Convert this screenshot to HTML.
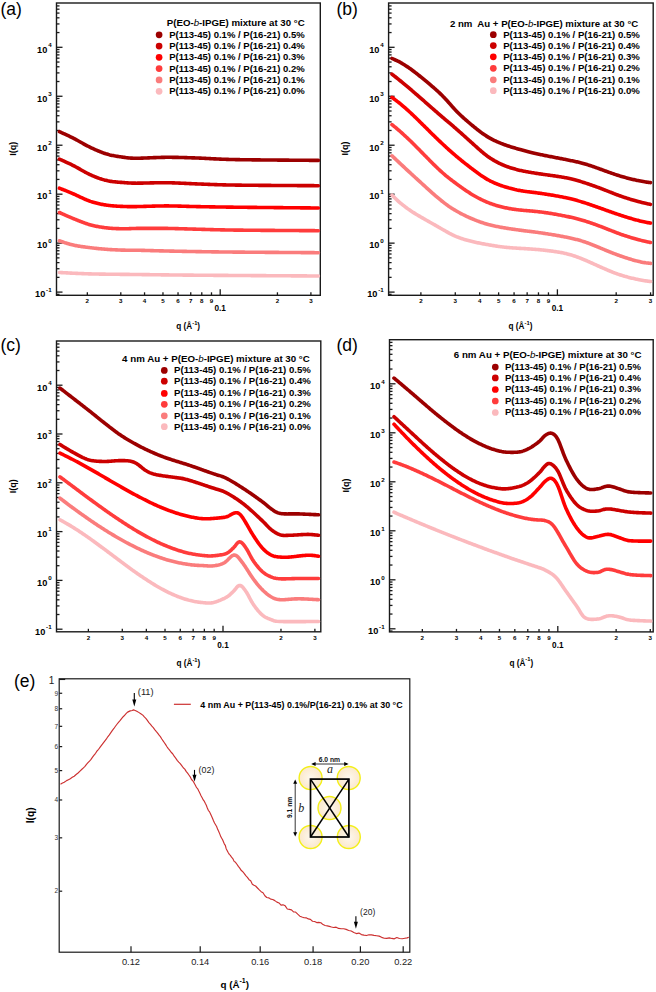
<!DOCTYPE html>
<html><head><meta charset="utf-8"><style>
html,body{margin:0;padding:0;background:#fff;}
body{width:656px;height:992px;overflow:hidden;}
svg{display:block;font-family:"Liberation Sans", sans-serif;}
</style></head><body>
<svg width="656" height="992" viewBox="0 0 656 992">
<rect width="656" height="992" fill="#fff"/>
<rect x="56.5" y="3" width="263.8" height="292.3" fill="none" stroke="#1a1a1a" stroke-width="1.4"/>
<line x1="56.5" y1="294.34" x2="59.5" y2="294.34" stroke="#1a1a1a" stroke-width="1.3"/>
<line x1="56.5" y1="292.1" x2="62.5" y2="292.1" stroke="#1a1a1a" stroke-width="1.3"/>
<text x="51.6" y="297.4" font-size="9.2" font-weight="bold" text-anchor="end">10<tspan font-size="6.2" dy="-5.6" dx="0.8">-1</tspan></text>
<line x1="56.5" y1="277.36" x2="59.5" y2="277.36" stroke="#1a1a1a" stroke-width="1.3"/>
<line x1="56.5" y1="268.74" x2="59.5" y2="268.74" stroke="#1a1a1a" stroke-width="1.3"/>
<line x1="56.5" y1="262.62" x2="59.5" y2="262.62" stroke="#1a1a1a" stroke-width="1.3"/>
<line x1="56.5" y1="257.88" x2="59.5" y2="257.88" stroke="#1a1a1a" stroke-width="1.3"/>
<line x1="56.5" y1="254" x2="59.5" y2="254" stroke="#1a1a1a" stroke-width="1.3"/>
<line x1="56.5" y1="250.72" x2="59.5" y2="250.72" stroke="#1a1a1a" stroke-width="1.3"/>
<line x1="56.5" y1="247.88" x2="59.5" y2="247.88" stroke="#1a1a1a" stroke-width="1.3"/>
<line x1="56.5" y1="245.38" x2="59.5" y2="245.38" stroke="#1a1a1a" stroke-width="1.3"/>
<line x1="56.5" y1="243.14" x2="62.5" y2="243.14" stroke="#1a1a1a" stroke-width="1.3"/>
<text x="51.6" y="248.44" font-size="9.2" font-weight="bold" text-anchor="end">10<tspan font-size="6.2" dy="-5.6" dx="0.8">0</tspan></text>
<line x1="56.5" y1="228.4" x2="59.5" y2="228.4" stroke="#1a1a1a" stroke-width="1.3"/>
<line x1="56.5" y1="219.78" x2="59.5" y2="219.78" stroke="#1a1a1a" stroke-width="1.3"/>
<line x1="56.5" y1="213.66" x2="59.5" y2="213.66" stroke="#1a1a1a" stroke-width="1.3"/>
<line x1="56.5" y1="208.92" x2="59.5" y2="208.92" stroke="#1a1a1a" stroke-width="1.3"/>
<line x1="56.5" y1="205.04" x2="59.5" y2="205.04" stroke="#1a1a1a" stroke-width="1.3"/>
<line x1="56.5" y1="201.76" x2="59.5" y2="201.76" stroke="#1a1a1a" stroke-width="1.3"/>
<line x1="56.5" y1="198.92" x2="59.5" y2="198.92" stroke="#1a1a1a" stroke-width="1.3"/>
<line x1="56.5" y1="196.42" x2="59.5" y2="196.42" stroke="#1a1a1a" stroke-width="1.3"/>
<line x1="56.5" y1="194.18" x2="62.5" y2="194.18" stroke="#1a1a1a" stroke-width="1.3"/>
<text x="51.6" y="199.48" font-size="9.2" font-weight="bold" text-anchor="end">10<tspan font-size="6.2" dy="-5.6" dx="0.8">1</tspan></text>
<line x1="56.5" y1="179.44" x2="59.5" y2="179.44" stroke="#1a1a1a" stroke-width="1.3"/>
<line x1="56.5" y1="170.82" x2="59.5" y2="170.82" stroke="#1a1a1a" stroke-width="1.3"/>
<line x1="56.5" y1="164.7" x2="59.5" y2="164.7" stroke="#1a1a1a" stroke-width="1.3"/>
<line x1="56.5" y1="159.96" x2="59.5" y2="159.96" stroke="#1a1a1a" stroke-width="1.3"/>
<line x1="56.5" y1="156.08" x2="59.5" y2="156.08" stroke="#1a1a1a" stroke-width="1.3"/>
<line x1="56.5" y1="152.8" x2="59.5" y2="152.8" stroke="#1a1a1a" stroke-width="1.3"/>
<line x1="56.5" y1="149.96" x2="59.5" y2="149.96" stroke="#1a1a1a" stroke-width="1.3"/>
<line x1="56.5" y1="147.46" x2="59.5" y2="147.46" stroke="#1a1a1a" stroke-width="1.3"/>
<line x1="56.5" y1="145.22" x2="62.5" y2="145.22" stroke="#1a1a1a" stroke-width="1.3"/>
<text x="51.6" y="150.52" font-size="9.2" font-weight="bold" text-anchor="end">10<tspan font-size="6.2" dy="-5.6" dx="0.8">2</tspan></text>
<line x1="56.5" y1="130.48" x2="59.5" y2="130.48" stroke="#1a1a1a" stroke-width="1.3"/>
<line x1="56.5" y1="121.86" x2="59.5" y2="121.86" stroke="#1a1a1a" stroke-width="1.3"/>
<line x1="56.5" y1="115.74" x2="59.5" y2="115.74" stroke="#1a1a1a" stroke-width="1.3"/>
<line x1="56.5" y1="111" x2="59.5" y2="111" stroke="#1a1a1a" stroke-width="1.3"/>
<line x1="56.5" y1="107.12" x2="59.5" y2="107.12" stroke="#1a1a1a" stroke-width="1.3"/>
<line x1="56.5" y1="103.84" x2="59.5" y2="103.84" stroke="#1a1a1a" stroke-width="1.3"/>
<line x1="56.5" y1="101" x2="59.5" y2="101" stroke="#1a1a1a" stroke-width="1.3"/>
<line x1="56.5" y1="98.5" x2="59.5" y2="98.5" stroke="#1a1a1a" stroke-width="1.3"/>
<line x1="56.5" y1="96.26" x2="62.5" y2="96.26" stroke="#1a1a1a" stroke-width="1.3"/>
<text x="51.6" y="101.56" font-size="9.2" font-weight="bold" text-anchor="end">10<tspan font-size="6.2" dy="-5.6" dx="0.8">3</tspan></text>
<line x1="56.5" y1="81.52" x2="59.5" y2="81.52" stroke="#1a1a1a" stroke-width="1.3"/>
<line x1="56.5" y1="72.9" x2="59.5" y2="72.9" stroke="#1a1a1a" stroke-width="1.3"/>
<line x1="56.5" y1="66.78" x2="59.5" y2="66.78" stroke="#1a1a1a" stroke-width="1.3"/>
<line x1="56.5" y1="62.04" x2="59.5" y2="62.04" stroke="#1a1a1a" stroke-width="1.3"/>
<line x1="56.5" y1="58.16" x2="59.5" y2="58.16" stroke="#1a1a1a" stroke-width="1.3"/>
<line x1="56.5" y1="54.88" x2="59.5" y2="54.88" stroke="#1a1a1a" stroke-width="1.3"/>
<line x1="56.5" y1="52.04" x2="59.5" y2="52.04" stroke="#1a1a1a" stroke-width="1.3"/>
<line x1="56.5" y1="49.54" x2="59.5" y2="49.54" stroke="#1a1a1a" stroke-width="1.3"/>
<line x1="56.5" y1="47.3" x2="62.5" y2="47.3" stroke="#1a1a1a" stroke-width="1.3"/>
<text x="51.6" y="52.6" font-size="9.2" font-weight="bold" text-anchor="end">10<tspan font-size="6.2" dy="-5.6" dx="0.8">4</tspan></text>
<line x1="56.5" y1="32.56" x2="59.5" y2="32.56" stroke="#1a1a1a" stroke-width="1.3"/>
<line x1="56.5" y1="23.94" x2="59.5" y2="23.94" stroke="#1a1a1a" stroke-width="1.3"/>
<line x1="56.5" y1="17.82" x2="59.5" y2="17.82" stroke="#1a1a1a" stroke-width="1.3"/>
<line x1="56.5" y1="13.08" x2="59.5" y2="13.08" stroke="#1a1a1a" stroke-width="1.3"/>
<line x1="56.5" y1="9.2" x2="59.5" y2="9.2" stroke="#1a1a1a" stroke-width="1.3"/>
<line x1="56.5" y1="5.92" x2="59.5" y2="5.92" stroke="#1a1a1a" stroke-width="1.3"/>
<line x1="87.33" y1="295.3" x2="87.33" y2="292.3" stroke="#1a1a1a" stroke-width="1.3"/>
<text x="87.33" y="303.3" font-size="6.2" font-weight="bold" text-anchor="middle" fill="#000" >2</text>
<line x1="120.8" y1="295.3" x2="120.8" y2="292.3" stroke="#1a1a1a" stroke-width="1.3"/>
<text x="120.8" y="303.3" font-size="6.2" font-weight="bold" text-anchor="middle" fill="#000" >3</text>
<line x1="144.55" y1="295.3" x2="144.55" y2="292.3" stroke="#1a1a1a" stroke-width="1.3"/>
<text x="144.55" y="303.3" font-size="6.2" font-weight="bold" text-anchor="middle" fill="#000" >4</text>
<line x1="162.97" y1="295.3" x2="162.97" y2="292.3" stroke="#1a1a1a" stroke-width="1.3"/>
<text x="162.97" y="303.3" font-size="6.2" font-weight="bold" text-anchor="middle" fill="#000" >5</text>
<line x1="178.03" y1="295.3" x2="178.03" y2="292.3" stroke="#1a1a1a" stroke-width="1.3"/>
<text x="178.03" y="303.3" font-size="6.2" font-weight="bold" text-anchor="middle" fill="#000" >6</text>
<line x1="190.75" y1="295.3" x2="190.75" y2="292.3" stroke="#1a1a1a" stroke-width="1.3"/>
<text x="190.75" y="303.3" font-size="6.2" font-weight="bold" text-anchor="middle" fill="#000" >7</text>
<line x1="201.78" y1="295.3" x2="201.78" y2="292.3" stroke="#1a1a1a" stroke-width="1.3"/>
<text x="201.78" y="303.3" font-size="6.2" font-weight="bold" text-anchor="middle" fill="#000" >8</text>
<line x1="211.5" y1="295.3" x2="211.5" y2="292.3" stroke="#1a1a1a" stroke-width="1.3"/>
<text x="211.5" y="303.3" font-size="6.2" font-weight="bold" text-anchor="middle" fill="#000" >9</text>
<line x1="220.2" y1="295.3" x2="220.2" y2="289.3" stroke="#1a1a1a" stroke-width="1.3"/>
<text x="220.2" y="311.3" font-size="8.2" font-weight="bold" text-anchor="middle" fill="#000" >0.1</text>
<line x1="277.43" y1="295.3" x2="277.43" y2="292.3" stroke="#1a1a1a" stroke-width="1.3"/>
<text x="277.43" y="303.3" font-size="6.2" font-weight="bold" text-anchor="middle" fill="#000" >2</text>
<line x1="310.9" y1="295.3" x2="310.9" y2="292.3" stroke="#1a1a1a" stroke-width="1.3"/>
<text x="310.9" y="303.3" font-size="6.2" font-weight="bold" text-anchor="middle" fill="#000" >3</text>
<text x="16.1" y="148.8" font-size="9" font-weight="bold" text-anchor="middle" transform="rotate(-90 16.1 148.8)">I(q)</text>
<text x="188.2" y="329.4" font-size="8.2" font-weight="bold" text-anchor="middle">q (&#197;<tspan font-size="5.8" dy="-4.2">-1</tspan><tspan dy="4.2">)</tspan></text>
<text x="0.5" y="14.6" font-size="17.5" font-weight="normal" text-anchor="start" fill="#000" >(a)</text>
<g fill="none" stroke-linecap="round" stroke-linejoin="round">
<path d="M59.4,131.7 L59.9,131.92 L60.47,132.18 L61.13,132.47 L61.86,132.79 L62.66,133.15 L63.53,133.53 L64.45,133.95 L65.43,134.39 L66.49,134.87 L67.63,135.4 L68.82,135.95 L69.99,136.51 L71.14,137.07 L72.25,137.62 L73.29,138.14 L74.05,138.54 L74.81,138.94 L75.59,139.36 L76.39,139.79 L77.22,140.25 L78.07,140.73 L78.95,141.22 L79.85,141.73 L80.76,142.25 L81.69,142.77 L82.62,143.29 L83.55,143.81 L84.47,144.33 L85.39,144.83 L86.31,145.32 L87.21,145.8 L88.1,146.26 L88.98,146.71 L89.86,147.14 L90.76,147.59 L91.71,148.04 L92.67,148.49 L93.63,148.93 L94.59,149.37 L95.55,149.8 L96.51,150.22 L97.46,150.62 L98.41,151.02 L99.36,151.41 L100.31,151.79 L101.26,152.16 L102.2,152.51 L103.14,152.85 L104.08,153.18 L105.01,153.49 L105.93,153.79 L106.87,154.07 L107.84,154.35 L108.87,154.63 L109.92,154.9 L111,155.15 L112.09,155.39 L113.18,155.61 L114.28,155.83 L115.38,156.02 L116.46,156.21 L117.53,156.38 L118.57,156.54 L119.6,156.7 L120.59,156.84 L121.55,156.98 L122.5,157.11 L123.42,157.24 L124.31,157.37 L125.36,157.52 L126.42,157.66 L127.26,157.77 L127.97,157.86 L128.6,157.93 L129.24,157.99 L129.93,158.05 L130.78,158.11 L131.92,158.17 L133.45,158.22 L135.36,158.26 L136.73,158.26 L137.43,158.26 L138.13,158.25 L138.82,158.24 L139.54,158.22 L140.3,158.2 L141.11,158.17 L141.98,158.14 L142.91,158.11 L143.89,158.07 L144.89,158.03 L145.94,157.99 L147,157.95 L148.07,157.9 L149.15,157.85 L150.25,157.81 L151.35,157.76 L152.46,157.71 L153.58,157.67 L154.7,157.62 L155.81,157.58 L156.93,157.54 L158.05,157.5 L159.16,157.46 L160.27,157.43 L161.36,157.4 L162.45,157.37 L163.52,157.35 L164.57,157.34 L165.6,157.32 L166.6,157.32 L167.58,157.31 L168.56,157.31 L169.53,157.31 L170.49,157.31 L171.45,157.32 L172.4,157.33 L173.35,157.34 L174.3,157.35 L175.25,157.36 L176.19,157.38 L177.14,157.4 L178.09,157.42 L179.04,157.44 L179.99,157.46 L180.94,157.49 L181.9,157.51 L182.86,157.54 L183.83,157.57 L184.81,157.6 L185.8,157.63 L186.79,157.66 L187.79,157.69 L188.82,157.72 L189.86,157.76 L190.93,157.8 L192.03,157.83 L193.17,157.87 L194.34,157.91 L195.54,157.95 L196.73,158 L197.76,158.03 L198.62,158.07 L199.45,158.1 L200.27,158.13 L201.05,158.17 L201.84,158.2 L202.61,158.24 L203.39,158.27 L204.16,158.31 L204.95,158.35 L205.73,158.39 L206.51,158.43 L207.3,158.47 L208.1,158.52 L208.9,158.56 L209.7,158.6 L210.53,158.65 L211.36,158.69 L212.22,158.74 L213.08,158.78 L213.96,158.83 L214.87,158.87 L215.8,158.92 L216.75,158.96 L217.73,159.01 L218.73,159.05 L219.77,159.1 L220.83,159.14 L221.93,159.19 L223.06,159.23 L224.22,159.27 L225.43,159.31 L226.66,159.36 L227.98,159.4 L229.37,159.44 L230.88,159.48 L232.53,159.52 L234.24,159.56 L235.86,159.59 L236.95,159.61 L237.62,159.63 L238.29,159.64 L238.97,159.65 L239.68,159.66 L240.42,159.68 L241.23,159.69 L242.07,159.7 L242.96,159.72 L243.89,159.73 L244.85,159.74 L245.84,159.76 L246.84,159.77 L247.86,159.78 L248.9,159.8 L249.95,159.81 L251.02,159.82 L252.1,159.84 L253.18,159.85 L254.28,159.86 L255.39,159.87 L256.53,159.89 L257.66,159.9 L258.8,159.91 L259.95,159.92 L261.11,159.93 L262.29,159.95 L263.46,159.96 L264.64,159.97 L265.83,159.98 L267.02,159.99 L268.21,160 L269.41,160.01 L270.61,160.02 L271.81,160.03 L273.03,160.04 L274.23,160.05 L275.44,160.06 L276.65,160.07 L277.86,160.09 L279.06,160.09 L280.26,160.1 L281.45,160.11 L282.64,160.12 L283.83,160.13 L285.02,160.14 L286.19,160.15 L287.37,160.16 L288.54,160.17 L289.69,160.18 L290.84,160.19 L291.98,160.2 L293.11,160.2 L294.23,160.21 L295.34,160.22 L296.44,160.23 L297.52,160.24 L298.59,160.25 L299.65,160.25 L300.69,160.26 L301.72,160.27 L302.73,160.28 L303.73,160.28 L304.71,160.29 L305.68,160.3 L306.62,160.31 L307.55,160.31 L308.47,160.32 L309.36,160.33 L310.23,160.33 L311.05,160.34 L311.82,160.34 L312.56,160.35 L313.27,160.36 L313.96,160.36 L314.63,160.37 L315.28,160.37 L315.9,160.38 L316.5,160.38 L317.07,160.39 L317.62,160.39 L318.15,160.4 L318.4,160.4" stroke="#9c0000" stroke-width="3.6"/>
<path d="M59.4,159.1 L59.9,159.32 L60.47,159.58 L61.13,159.87 L61.86,160.19 L62.66,160.55 L63.53,160.93 L64.45,161.35 L65.43,161.79 L66.49,162.27 L67.63,162.8 L68.82,163.35 L69.99,163.91 L71.14,164.47 L72.25,165.02 L73.28,165.54 L74.05,165.94 L74.81,166.35 L75.59,166.77 L76.39,167.21 L77.21,167.67 L78.07,168.15 L78.96,168.66 L79.85,169.17 L80.77,169.7 L81.69,170.22 L82.63,170.75 L83.56,171.28 L84.48,171.79 L85.41,172.29 L86.32,172.78 L87.22,173.25 L88.12,173.7 L89,174.13 L89.87,174.54 L90.78,174.96 L91.73,175.39 L92.68,175.8 L93.64,176.21 L94.61,176.61 L95.56,176.99 L96.52,177.36 L97.48,177.72 L98.43,178.07 L99.37,178.41 L100.32,178.73 L101.26,179.04 L102.2,179.34 L103.14,179.62 L104.07,179.89 L105,180.14 L105.93,180.37 L106.85,180.59 L107.83,180.81 L108.86,181.01 L109.91,181.21 L110.99,181.38 L112.08,181.54 L113.17,181.68 L114.27,181.8 L115.36,181.91 L116.45,182.01 L117.52,182.1 L118.57,182.18 L119.59,182.26 L120.58,182.33 L121.55,182.39 L122.5,182.46 L123.42,182.53 L124.31,182.6 L125.36,182.68 L126.41,182.77 L127.25,182.84 L127.96,182.89 L128.59,182.93 L129.22,182.98 L129.92,183.02 L130.77,183.06 L131.9,183.1 L133.45,183.14 L135.36,183.17 L136.73,183.18 L137.43,183.17 L138.13,183.17 L138.82,183.17 L139.54,183.16 L140.3,183.14 L141.11,183.13 L141.98,183.11 L142.91,183.09 L143.88,183.07 L144.89,183.05 L145.94,183.02 L147,182.99 L148.07,182.96 L149.15,182.94 L150.25,182.91 L151.35,182.88 L152.46,182.86 L153.58,182.83 L154.7,182.81 L155.81,182.78 L156.93,182.76 L158.05,182.75 L159.16,182.73 L160.27,182.72 L161.36,182.71 L162.45,182.7 L163.52,182.7 L164.57,182.7 L165.59,182.71 L166.6,182.72 L167.58,182.73 L168.56,182.75 L169.53,182.77 L170.49,182.79 L171.45,182.81 L172.4,182.84 L173.35,182.87 L174.3,182.9 L175.25,182.94 L176.19,182.98 L177.14,183.01 L178.09,183.06 L179.04,183.1 L179.99,183.14 L180.94,183.18 L181.9,183.23 L182.86,183.27 L183.83,183.32 L184.81,183.37 L185.8,183.42 L186.79,183.46 L187.79,183.51 L188.82,183.56 L189.86,183.61 L190.93,183.65 L192.03,183.7 L193.17,183.75 L194.34,183.8 L195.54,183.84 L196.73,183.89 L197.76,183.93 L198.62,183.96 L199.45,183.99 L200.27,184.02 L201.05,184.05 L201.84,184.08 L202.61,184.11 L203.39,184.14 L204.16,184.18 L204.95,184.21 L205.73,184.24 L206.52,184.27 L207.3,184.3 L208.1,184.33 L208.9,184.37 L209.7,184.4 L210.53,184.43 L211.36,184.46 L212.22,184.49 L213.08,184.53 L213.96,184.56 L214.87,184.59 L215.8,184.62 L216.75,184.65 L217.73,184.69 L218.73,184.72 L219.76,184.75 L220.83,184.78 L221.92,184.81 L223.06,184.84 L224.22,184.87 L225.43,184.9 L226.66,184.93 L227.98,184.95 L229.37,184.98 L230.88,185.01 L232.53,185.04 L234.24,185.07 L235.86,185.09 L236.94,185.11 L237.62,185.12 L238.29,185.13 L238.97,185.14 L239.68,185.15 L240.42,185.16 L241.23,185.17 L242.07,185.18 L242.96,185.19 L243.89,185.2 L244.85,185.21 L245.84,185.22 L246.84,185.23 L247.86,185.24 L248.9,185.25 L249.95,185.26 L251.02,185.27 L252.1,185.28 L253.18,185.29 L254.28,185.3 L255.39,185.3 L256.53,185.31 L257.66,185.32 L258.8,185.33 L259.95,185.34 L261.11,185.35 L262.29,185.36 L263.46,185.37 L264.64,185.38 L265.83,185.38 L267.02,185.39 L268.21,185.4 L269.41,185.41 L270.61,185.42 L271.81,185.43 L273.03,185.43 L274.23,185.44 L275.44,185.45 L276.65,185.46 L277.86,185.46 L279.06,185.47 L280.26,185.48 L281.45,185.49 L282.64,185.49 L283.83,185.5 L285.02,185.51 L286.19,185.51 L287.37,185.52 L288.54,185.53 L289.69,185.53 L290.84,185.54 L291.98,185.55 L293.11,185.55 L294.23,185.56 L295.34,185.57 L296.44,185.57 L297.52,185.58 L298.59,185.58 L299.65,185.59 L300.69,185.6 L301.72,185.6 L302.73,185.61 L303.73,185.61 L304.71,185.62 L305.68,185.62 L306.62,185.63 L307.55,185.63 L308.47,185.64 L309.36,185.64 L310.23,185.65 L311.05,185.65 L311.82,185.66 L312.56,185.66 L313.27,185.67 L313.96,185.67 L314.63,185.68 L315.28,185.68 L315.9,185.68 L316.5,185.69 L317.07,185.69 L317.62,185.69 L318.15,185.7 L318.4,185.7" stroke="#cc0000" stroke-width="3.6"/>
<path d="M59.4,188.2 L59.91,188.4 L60.51,188.64 L61.2,188.91 L61.97,189.21 L62.81,189.54 L63.72,189.9 L64.69,190.28 L65.72,190.69 L66.85,191.14 L68.05,191.63 L69.26,192.12 L70.48,192.62 L71.65,193.12 L72.75,193.59 L73.68,193.99 L74.5,194.35 L75.31,194.72 L76.15,195.11 L77.01,195.51 L77.9,195.93 L78.83,196.37 L79.78,196.82 L80.74,197.28 L81.71,197.74 L82.69,198.19 L83.67,198.64 L84.65,199.08 L85.62,199.5 L86.59,199.91 L87.54,200.3 L88.48,200.66 L89.41,201.01 L90.34,201.34 L91.31,201.66 L92.28,201.97 L93.26,202.27 L94.24,202.55 L95.23,202.82 L96.21,203.08 L97.18,203.32 L98.15,203.55 L99.13,203.77 L100.1,203.98 L101.06,204.18 L102.03,204.37 L103,204.55 L103.96,204.72 L104.92,204.88 L105.88,205.03 L106.84,205.18 L107.83,205.31 L108.85,205.45 L109.91,205.57 L110.99,205.69 L112.07,205.79 L113.16,205.89 L114.26,205.97 L115.36,206.05 L116.44,206.12 L117.52,206.18 L118.57,206.23 L119.59,206.28 L120.58,206.33 L121.55,206.37 L122.5,206.41 L123.43,206.45 L124.31,206.49 L125.36,206.53 L126.41,206.56 L127.25,206.59 L127.95,206.61 L128.58,206.62 L129.22,206.63 L129.91,206.64 L130.77,206.64 L131.9,206.64 L133.44,206.62 L135.35,206.6 L136.73,206.58 L137.43,206.56 L138.13,206.55 L138.82,206.54 L139.54,206.52 L140.3,206.5 L141.11,206.48 L141.98,206.45 L142.91,206.43 L143.89,206.4 L144.89,206.37 L145.94,206.34 L147,206.31 L148.07,206.27 L149.15,206.24 L150.25,206.21 L151.35,206.18 L152.46,206.15 L153.58,206.12 L154.7,206.09 L155.81,206.06 L156.93,206.03 L158.05,206.01 L159.16,205.99 L160.27,205.97 L161.36,205.95 L162.45,205.94 L163.52,205.93 L164.57,205.92 L165.59,205.92 L166.6,205.91 L167.58,205.91 L168.56,205.92 L169.53,205.93 L170.49,205.94 L171.45,205.95 L172.4,205.96 L173.35,205.98 L174.3,206 L175.25,206.02 L176.19,206.04 L177.14,206.06 L178.09,206.08 L179.04,206.11 L179.99,206.14 L180.94,206.16 L181.9,206.19 L182.86,206.22 L183.83,206.25 L184.81,206.28 L185.8,206.31 L186.79,206.34 L187.79,206.37 L188.82,206.4 L189.86,206.43 L190.93,206.45 L192.03,206.48 L193.17,206.51 L194.34,206.54 L195.54,206.57 L196.73,206.59 L197.76,206.61 L198.62,206.63 L199.46,206.65 L200.27,206.66 L201.05,206.68 L201.84,206.69 L202.61,206.7 L203.39,206.72 L204.16,206.73 L204.95,206.75 L205.73,206.76 L206.52,206.78 L207.3,206.79 L208.09,206.8 L208.9,206.82 L209.7,206.83 L210.53,206.85 L211.36,206.86 L212.21,206.88 L213.08,206.89 L213.96,206.9 L214.87,206.92 L215.8,206.93 L216.75,206.95 L217.73,206.96 L218.73,206.98 L219.76,206.99 L220.83,207.01 L221.92,207.02 L223.06,207.04 L224.22,207.05 L225.43,207.07 L226.66,207.09 L227.98,207.1 L229.37,207.12 L230.88,207.14 L232.53,207.16 L234.24,207.18 L235.86,207.2 L236.94,207.21 L237.62,207.22 L238.29,207.23 L238.97,207.23 L239.68,207.24 L240.42,207.25 L241.23,207.26 L242.07,207.27 L242.96,207.28 L243.89,207.29 L244.85,207.3 L245.84,207.31 L246.84,207.32 L247.86,207.33 L248.9,207.34 L249.95,207.35 L251.02,207.36 L252.1,207.37 L253.18,207.38 L254.28,207.39 L255.39,207.4 L256.53,207.41 L257.66,207.43 L258.8,207.44 L259.95,207.45 L261.11,207.46 L262.29,207.47 L263.46,207.48 L264.64,207.49 L265.83,207.51 L267.02,207.52 L268.21,207.53 L269.41,207.54 L270.61,207.55 L271.81,207.56 L273.03,207.57 L274.23,207.59 L275.44,207.6 L276.65,207.61 L277.86,207.62 L279.06,207.63 L280.26,207.64 L281.45,207.65 L282.64,207.67 L283.83,207.68 L285.02,207.69 L286.19,207.7 L287.37,207.71 L288.54,207.72 L289.69,207.73 L290.84,207.74 L291.98,207.75 L293.11,207.76 L294.23,207.77 L295.34,207.78 L296.44,207.79 L297.52,207.8 L298.59,207.81 L299.65,207.82 L300.69,207.83 L301.72,207.84 L302.73,207.85 L303.73,207.86 L304.71,207.87 L305.68,207.88 L306.62,207.89 L307.55,207.9 L308.47,207.91 L309.36,207.91 L310.23,207.92 L311.05,207.93 L311.82,207.94 L312.56,207.94 L313.27,207.95 L313.96,207.96 L314.63,207.96 L315.28,207.97 L315.9,207.98 L316.5,207.98 L317.07,207.99 L317.62,207.99 L318.15,208 L318.4,208" stroke="#ff0000" stroke-width="3.6"/>
<path d="M59.4,212.5 L59.91,212.73 L60.51,213 L61.2,213.31 L61.97,213.65 L62.81,214.03 L63.72,214.44 L64.7,214.88 L65.74,215.34 L66.88,215.84 L68.08,216.37 L69.3,216.89 L70.51,217.41 L71.67,217.9 L72.78,218.35 L73.72,218.74 L74.55,219.08 L75.39,219.43 L76.25,219.78 L77.15,220.14 L78.06,220.51 L79.01,220.89 L79.99,221.27 L80.97,221.66 L81.97,222.04 L82.97,222.42 L83.98,222.79 L84.98,223.14 L85.97,223.49 L86.95,223.82 L87.92,224.13 L88.89,224.43 L89.84,224.71 L90.82,224.98 L91.82,225.25 L92.83,225.5 L93.84,225.74 L94.85,225.97 L95.86,226.19 L96.86,226.39 L97.87,226.58 L98.87,226.76 L99.87,226.93 L100.87,227.1 L101.87,227.25 L102.87,227.4 L103.87,227.54 L104.87,227.67 L105.86,227.79 L106.86,227.9 L107.86,228.01 L108.88,228.11 L109.93,228.21 L111,228.29 L112.08,228.37 L113.16,228.44 L114.26,228.5 L115.35,228.55 L116.44,228.6 L117.52,228.64 L118.57,228.67 L119.59,228.7 L120.58,228.72 L121.55,228.74 L122.5,228.75 L123.43,228.76 L124.31,228.76 L125.36,228.75 L126.41,228.74 L127.25,228.72 L127.95,228.7 L128.58,228.68 L129.22,228.65 L129.91,228.62 L130.77,228.59 L131.9,228.54 L133.45,228.49 L135.36,228.44 L136.73,228.41 L137.43,228.4 L138.13,228.39 L138.82,228.38 L139.54,228.37 L140.3,228.37 L141.11,228.36 L141.98,228.36 L142.91,228.35 L143.88,228.35 L144.89,228.34 L145.94,228.34 L147,228.33 L148.07,228.33 L149.15,228.33 L150.25,228.33 L151.35,228.33 L152.46,228.33 L153.58,228.33 L154.69,228.33 L155.81,228.33 L156.93,228.33 L158.05,228.34 L159.16,228.34 L160.27,228.35 L161.36,228.35 L162.45,228.36 L163.52,228.37 L164.57,228.38 L165.59,228.39 L166.6,228.41 L167.58,228.42 L168.56,228.44 L169.53,228.45 L170.49,228.47 L171.45,228.49 L172.4,228.51 L173.35,228.53 L174.3,228.56 L175.25,228.58 L176.19,228.6 L177.14,228.63 L178.09,228.65 L179.04,228.68 L179.99,228.71 L180.94,228.74 L181.9,228.77 L182.86,228.79 L183.83,228.82 L184.81,228.85 L185.8,228.88 L186.79,228.91 L187.79,228.94 L188.82,228.97 L189.86,229 L190.93,229.03 L192.03,229.07 L193.17,229.1 L194.34,229.13 L195.54,229.16 L196.73,229.19 L197.76,229.22 L198.62,229.24 L199.46,229.27 L200.27,229.29 L201.05,229.31 L201.84,229.33 L202.61,229.35 L203.39,229.38 L204.16,229.4 L204.95,229.42 L205.73,229.44 L206.52,229.47 L207.3,229.49 L208.09,229.51 L208.9,229.54 L209.7,229.56 L210.53,229.58 L211.36,229.61 L212.21,229.63 L213.08,229.65 L213.96,229.68 L214.87,229.7 L215.8,229.73 L216.75,229.75 L217.73,229.77 L218.73,229.8 L219.76,229.82 L220.83,229.85 L221.92,229.87 L223.06,229.89 L224.22,229.91 L225.43,229.94 L226.66,229.96 L227.98,229.98 L229.37,230 L230.88,230.03 L232.53,230.05 L234.24,230.08 L235.86,230.1 L236.94,230.11 L237.62,230.12 L238.29,230.13 L238.97,230.13 L239.68,230.14 L240.42,230.15 L241.23,230.16 L242.07,230.17 L242.96,230.17 L243.89,230.18 L244.85,230.19 L245.84,230.2 L246.84,230.21 L247.86,230.22 L248.9,230.23 L249.95,230.24 L251.02,230.25 L252.1,230.26 L253.18,230.27 L254.28,230.28 L255.39,230.28 L256.53,230.29 L257.66,230.3 L258.8,230.31 L259.95,230.32 L261.11,230.33 L262.29,230.34 L263.46,230.35 L264.64,230.35 L265.83,230.36 L267.02,230.37 L268.21,230.38 L269.41,230.39 L270.61,230.4 L271.81,230.4 L273.03,230.41 L274.23,230.42 L275.44,230.43 L276.65,230.44 L277.86,230.44 L279.06,230.45 L280.26,230.46 L281.45,230.47 L282.64,230.48 L283.83,230.48 L285.02,230.49 L286.19,230.5 L287.37,230.51 L288.54,230.51 L289.69,230.52 L290.84,230.53 L291.98,230.53 L293.11,230.54 L294.23,230.55 L295.34,230.55 L296.44,230.56 L297.52,230.57 L298.59,230.57 L299.65,230.58 L300.69,230.59 L301.72,230.59 L302.73,230.6 L303.73,230.61 L304.71,230.61 L305.68,230.62 L306.62,230.62 L307.55,230.63 L308.47,230.64 L309.36,230.64 L310.23,230.65 L311.05,230.65 L311.82,230.66 L312.56,230.66 L313.27,230.67 L313.96,230.67 L314.63,230.67 L315.28,230.68 L315.9,230.68 L316.5,230.69 L317.07,230.69 L317.62,230.69 L318.15,230.7 L318.4,230.7" stroke="#ff3c3c" stroke-width="3.6"/>
<path d="M59.4,240.8 L59.93,240.97 L60.56,241.19 L61.28,241.44 L62.08,241.72 L62.97,242.03 L63.93,242.35 L64.96,242.7 L66.07,243.05 L67.27,243.43 L68.53,243.81 L69.79,244.18 L71.03,244.52 L72.21,244.82 L73.31,245.08 L74.2,245.28 L75.09,245.46 L75.99,245.64 L76.92,245.81 L77.88,245.98 L78.87,246.14 L79.89,246.3 L80.93,246.46 L81.98,246.61 L83.04,246.76 L84.1,246.9 L85.16,247.04 L86.21,247.18 L87.26,247.32 L88.3,247.45 L89.32,247.57 L90.33,247.7 L91.34,247.82 L92.34,247.94 L93.34,248.06 L94.34,248.17 L95.34,248.28 L96.35,248.39 L97.35,248.5 L98.35,248.6 L99.36,248.7 L100.36,248.8 L101.36,248.89 L102.36,248.98 L103.36,249.07 L104.36,249.15 L105.36,249.23 L106.35,249.31 L107.35,249.38 L108.36,249.45 L109.4,249.52 L110.46,249.59 L111.53,249.65 L112.62,249.71 L113.71,249.77 L114.81,249.82 L115.9,249.88 L116.98,249.92 L118.04,249.97 L119.07,250.01 L120.09,250.05 L121.07,250.08 L122.03,250.11 L122.97,250.14 L123.87,250.16 L124.75,250.17 L125.92,250.19 L126.85,250.2 L127.61,250.2 L128.27,250.2 L128.9,250.2 L129.55,250.2 L130.31,250.2 L131.29,250.19 L132.62,250.19 L134.37,250.2 L136.36,250.22 L137.08,250.23 L137.78,250.25 L138.47,250.26 L139.17,250.27 L139.91,250.29 L140.69,250.31 L141.53,250.33 L142.44,250.35 L143.39,250.38 L144.38,250.41 L145.41,250.43 L146.47,250.46 L147.54,250.49 L148.61,250.52 L149.7,250.55 L150.8,250.58 L151.9,250.61 L153.01,250.65 L154.14,250.68 L155.25,250.71 L156.37,250.74 L157.49,250.77 L158.61,250.8 L159.72,250.83 L160.82,250.86 L161.91,250.89 L162.98,250.91 L164.05,250.94 L165.08,250.96 L166.1,250.99 L167.09,251.01 L168.07,251.03 L169.04,251.06 L170.01,251.08 L170.97,251.1 L171.93,251.12 L172.88,251.14 L173.83,251.16 L174.77,251.18 L175.72,251.2 L176.67,251.22 L177.61,251.24 L178.56,251.26 L179.51,251.28 L180.46,251.3 L181.42,251.32 L182.38,251.34 L183.35,251.36 L184.32,251.38 L185.3,251.4 L186.29,251.42 L187.29,251.43 L188.3,251.45 L189.33,251.47 L190.39,251.49 L191.48,251.51 L192.59,251.53 L193.75,251.55 L194.94,251.57 L196.13,251.59 L197.31,251.6 L198.19,251.62 L199.04,251.63 L199.87,251.65 L200.66,251.66 L201.44,251.67 L202.22,251.68 L203,251.7 L203.77,251.71 L204.56,251.72 L205.33,251.73 L206.12,251.74 L206.9,251.76 L207.7,251.77 L208.49,251.78 L209.3,251.79 L210.11,251.8 L210.94,251.82 L211.79,251.83 L212.65,251.84 L213.52,251.85 L214.41,251.86 L215.33,251.88 L216.27,251.89 L217.23,251.9 L218.22,251.91 L219.24,251.93 L220.3,251.94 L221.37,251.95 L222.49,251.96 L223.63,251.98 L224.82,251.99 L226.05,252 L227.32,252.02 L228.66,252.03 L230.12,252.04 L231.69,252.06 L233.39,252.08 L235.07,252.09 L236.61,252.1 L237.29,252.11 L237.96,252.12 L238.62,252.12 L239.32,252.13 L240.04,252.13 L240.82,252.14 L241.64,252.15 L242.51,252.16 L243.42,252.16 L244.37,252.17 L245.35,252.18 L246.34,252.19 L247.35,252.19 L248.38,252.2 L249.43,252.21 L250.48,252.22 L251.55,252.23 L252.63,252.24 L253.73,252.24 L254.84,252.25 L255.96,252.26 L257.09,252.27 L258.23,252.28 L259.38,252.29 L260.53,252.29 L261.7,252.3 L262.88,252.31 L264.05,252.32 L265.24,252.33 L266.42,252.34 L267.62,252.35 L268.81,252.35 L270.01,252.36 L271.21,252.37 L272.42,252.38 L273.63,252.39 L274.84,252.4 L276.04,252.41 L277.26,252.41 L278.46,252.42 L279.66,252.43 L280.86,252.44 L282.05,252.45 L283.24,252.46 L284.43,252.46 L285.61,252.47 L286.78,252.48 L287.96,252.49 L289.12,252.5 L290.27,252.51 L291.41,252.51 L292.55,252.52 L293.68,252.53 L294.79,252.54 L295.89,252.54 L296.97,252.55 L298.06,252.56 L299.12,252.57 L300.17,252.57 L301.21,252.58 L302.23,252.59 L303.23,252.59 L304.22,252.6 L305.2,252.61 L306.16,252.61 L307.09,252.62 L308.01,252.63 L308.92,252.63 L309.8,252.64 L310.64,252.65 L311.44,252.65 L312.19,252.66 L312.91,252.66 L313.62,252.67 L314.3,252.67 L314.96,252.68 L315.59,252.68 L316.2,252.68 L316.79,252.69 L317.35,252.69 L317.89,252.7 L318.4,252.7 L318.4,252.7" stroke="#fa7c7c" stroke-width="3.6"/>
<path d="M59.4,272.5 L59.92,272.52 L60.49,272.55 L61.09,272.58 L61.73,272.62 L62.42,272.65 L63.13,272.69 L63.89,272.73 L64.68,272.77 L65.51,272.82 L66.37,272.87 L67.31,272.92 L68.32,272.97 L69.37,273.02 L70.43,273.08 L71.52,273.13 L72.63,273.19 L73.76,273.25 L74.91,273.3 L76.07,273.36 L77.26,273.41 L78.45,273.47 L79.67,273.52 L80.89,273.57 L82.14,273.62 L83.4,273.67 L84.71,273.72 L86.06,273.76 L87.44,273.81 L88.8,273.85 L90.11,273.89 L91.13,273.92 L91.92,273.93 L92.7,273.95 L93.47,273.97 L94.26,273.99 L95.08,274.01 L95.91,274.02 L96.77,274.04 L97.65,274.06 L98.54,274.07 L99.44,274.09 L100.36,274.1 L101.29,274.12 L102.23,274.13 L103.17,274.14 L104.12,274.16 L105.07,274.17 L106.04,274.18 L107,274.19 L107.98,274.21 L108.97,274.22 L109.96,274.23 L110.96,274.24 L111.96,274.25 L112.97,274.26 L113.99,274.27 L115.01,274.28 L116.06,274.29 L117.1,274.3 L118.15,274.31 L119.2,274.32 L120.27,274.33 L121.34,274.34 L122.42,274.35 L123.5,274.37 L124.6,274.38 L125.7,274.39 L126.81,274.4 L127.93,274.41 L129.07,274.42 L130.24,274.44 L131.44,274.45 L132.67,274.46 L133.93,274.48 L135.17,274.49 L136.37,274.51 L137.22,274.52 L138.05,274.53 L138.85,274.54 L139.65,274.55 L140.44,274.56 L141.24,274.57 L142.04,274.58 L142.85,274.59 L143.66,274.6 L144.47,274.61 L145.28,274.62 L146.1,274.63 L146.91,274.64 L147.73,274.65 L148.54,274.66 L149.36,274.67 L150.18,274.68 L151,274.7 L151.81,274.71 L152.64,274.72 L153.47,274.73 L154.3,274.74 L155.14,274.75 L155.99,274.76 L156.83,274.77 L157.69,274.78 L158.56,274.8 L159.43,274.81 L160.32,274.82 L161.21,274.83 L162.12,274.84 L163.03,274.85 L163.96,274.86 L164.89,274.88 L165.85,274.89 L166.81,274.9 L167.79,274.91 L168.77,274.92 L169.79,274.93 L170.81,274.95 L171.85,274.96 L172.89,274.97 L173.97,274.98 L175.06,274.99 L176.17,275 L177.3,275.02 L178.44,275.03 L179.61,275.04 L180.8,275.05 L182.01,275.06 L183.24,275.08 L184.49,275.09 L185.78,275.1 L187.07,275.11 L188.4,275.13 L189.79,275.14 L191.28,275.15 L192.86,275.16 L194.52,275.18 L196.15,275.19 L197.63,275.2 L198.32,275.21 L198.99,275.22 L199.66,275.22 L200.35,275.23 L201.06,275.23 L201.81,275.24 L202.6,275.24 L203.42,275.25 L204.28,275.26 L205.17,275.26 L206.08,275.27 L207.01,275.28 L207.96,275.28 L208.91,275.29 L209.88,275.3 L210.86,275.31 L211.85,275.31 L212.85,275.32 L213.87,275.33 L214.88,275.33 L215.91,275.34 L216.96,275.35 L218.01,275.36 L219.07,275.36 L220.14,275.37 L221.22,275.38 L222.31,275.39 L223.41,275.39 L224.51,275.4 L225.62,275.41 L226.73,275.42 L227.86,275.42 L228.99,275.43 L230.13,275.44 L231.27,275.45 L232.42,275.46 L233.58,275.46 L234.74,275.47 L235.91,275.48 L237.07,275.49 L238.25,275.49 L239.42,275.5 L240.61,275.51 L241.79,275.52 L242.98,275.52 L244.17,275.53 L245.36,275.54 L246.55,275.55 L247.75,275.56 L248.94,275.56 L250.14,275.57 L251.34,275.58 L252.54,275.59 L253.74,275.59 L254.94,275.6 L256.14,275.61 L257.34,275.62 L258.54,275.62 L259.73,275.63 L260.93,275.64 L262.12,275.65 L263.31,275.66 L264.5,275.66 L265.68,275.67 L266.87,275.68 L268.04,275.68 L269.22,275.69 L270.39,275.7 L271.56,275.71 L272.72,275.71 L273.88,275.72 L275.03,275.73 L276.18,275.74 L277.32,275.74 L278.46,275.75 L279.58,275.76 L280.7,275.76 L281.82,275.77 L282.92,275.78 L284.02,275.78 L285.11,275.79 L286.2,275.8 L287.27,275.8 L288.33,275.81 L289.39,275.82 L290.44,275.82 L291.48,275.83 L292.5,275.84 L293.52,275.84 L294.53,275.85 L295.52,275.86 L296.51,275.86 L297.48,275.87 L298.44,275.87 L299.39,275.88 L300.33,275.89 L301.25,275.89 L302.17,275.9 L303.06,275.9 L303.95,275.91 L304.82,275.91 L305.68,275.92 L306.52,275.92 L307.35,275.93 L308.17,275.93 L308.97,275.94 L309.75,275.94 L310.51,275.95 L311.23,275.95 L311.91,275.96 L312.59,275.96 L313.24,275.97 L313.88,275.97 L314.5,275.97 L315.1,275.98 L315.69,275.98 L316.27,275.99 L316.82,275.99 L317.37,275.99 L317.89,276 L318.4,276 L318.4,276" stroke="#fbb9bd" stroke-width="3.6"/>
</g>
<text x="166.8" y="26.1" font-size="9.3" font-weight="bold" textLength="137.9" lengthAdjust="spacingAndGlyphs">P(EO-<tspan font-style="italic" font-weight="normal">b</tspan>-IPGE) mixture at 30 &#176;C</text>
<circle cx="159.1" cy="34.8" r="3.35" fill="#9c0000"/>
<text x="169.2" y="37.7" font-size="9" font-weight="bold" textLength="135.5" lengthAdjust="spacingAndGlyphs">P(113-45) 0.1% / P(16-21) 0.5%</text>
<circle cx="159.1" cy="46.1" r="3.35" fill="#cc0000"/>
<text x="169.2" y="49" font-size="9" font-weight="bold" textLength="135.5" lengthAdjust="spacingAndGlyphs">P(113-45) 0.1% / P(16-21) 0.4%</text>
<circle cx="159.1" cy="57.3" r="3.35" fill="#ff0000"/>
<text x="169.2" y="60.2" font-size="9" font-weight="bold" textLength="135.5" lengthAdjust="spacingAndGlyphs">P(113-45) 0.1% / P(16-21) 0.3%</text>
<circle cx="159.1" cy="68.6" r="3.35" fill="#ff3c3c"/>
<text x="169.2" y="71.5" font-size="9" font-weight="bold" textLength="135.5" lengthAdjust="spacingAndGlyphs">P(113-45) 0.1% / P(16-21) 0.2%</text>
<circle cx="159.1" cy="79.9" r="3.35" fill="#fa7c7c"/>
<text x="169.2" y="82.8" font-size="9" font-weight="bold" textLength="135.5" lengthAdjust="spacingAndGlyphs">P(113-45) 0.1% / P(16-21) 0.1%</text>
<circle cx="159.1" cy="91.3" r="3.35" fill="#fbb9bd"/>
<text x="169.2" y="94.2" font-size="9" font-weight="bold" textLength="135.5" lengthAdjust="spacingAndGlyphs">P(113-45) 0.1% / P(16-21) 0.0%</text>
<rect x="388.6" y="3" width="264.6" height="292.3" fill="none" stroke="#1a1a1a" stroke-width="1.4"/>
<line x1="388.6" y1="294.34" x2="391.6" y2="294.34" stroke="#1a1a1a" stroke-width="1.3"/>
<line x1="388.6" y1="292.1" x2="394.6" y2="292.1" stroke="#1a1a1a" stroke-width="1.3"/>
<text x="383.7" y="297.4" font-size="9.2" font-weight="bold" text-anchor="end">10<tspan font-size="6.2" dy="-5.6" dx="0.8">-1</tspan></text>
<line x1="388.6" y1="277.36" x2="391.6" y2="277.36" stroke="#1a1a1a" stroke-width="1.3"/>
<line x1="388.6" y1="268.74" x2="391.6" y2="268.74" stroke="#1a1a1a" stroke-width="1.3"/>
<line x1="388.6" y1="262.62" x2="391.6" y2="262.62" stroke="#1a1a1a" stroke-width="1.3"/>
<line x1="388.6" y1="257.88" x2="391.6" y2="257.88" stroke="#1a1a1a" stroke-width="1.3"/>
<line x1="388.6" y1="254" x2="391.6" y2="254" stroke="#1a1a1a" stroke-width="1.3"/>
<line x1="388.6" y1="250.72" x2="391.6" y2="250.72" stroke="#1a1a1a" stroke-width="1.3"/>
<line x1="388.6" y1="247.88" x2="391.6" y2="247.88" stroke="#1a1a1a" stroke-width="1.3"/>
<line x1="388.6" y1="245.38" x2="391.6" y2="245.38" stroke="#1a1a1a" stroke-width="1.3"/>
<line x1="388.6" y1="243.14" x2="394.6" y2="243.14" stroke="#1a1a1a" stroke-width="1.3"/>
<text x="383.7" y="248.44" font-size="9.2" font-weight="bold" text-anchor="end">10<tspan font-size="6.2" dy="-5.6" dx="0.8">0</tspan></text>
<line x1="388.6" y1="228.4" x2="391.6" y2="228.4" stroke="#1a1a1a" stroke-width="1.3"/>
<line x1="388.6" y1="219.78" x2="391.6" y2="219.78" stroke="#1a1a1a" stroke-width="1.3"/>
<line x1="388.6" y1="213.66" x2="391.6" y2="213.66" stroke="#1a1a1a" stroke-width="1.3"/>
<line x1="388.6" y1="208.92" x2="391.6" y2="208.92" stroke="#1a1a1a" stroke-width="1.3"/>
<line x1="388.6" y1="205.04" x2="391.6" y2="205.04" stroke="#1a1a1a" stroke-width="1.3"/>
<line x1="388.6" y1="201.76" x2="391.6" y2="201.76" stroke="#1a1a1a" stroke-width="1.3"/>
<line x1="388.6" y1="198.92" x2="391.6" y2="198.92" stroke="#1a1a1a" stroke-width="1.3"/>
<line x1="388.6" y1="196.42" x2="391.6" y2="196.42" stroke="#1a1a1a" stroke-width="1.3"/>
<line x1="388.6" y1="194.18" x2="394.6" y2="194.18" stroke="#1a1a1a" stroke-width="1.3"/>
<text x="383.7" y="199.48" font-size="9.2" font-weight="bold" text-anchor="end">10<tspan font-size="6.2" dy="-5.6" dx="0.8">1</tspan></text>
<line x1="388.6" y1="179.44" x2="391.6" y2="179.44" stroke="#1a1a1a" stroke-width="1.3"/>
<line x1="388.6" y1="170.82" x2="391.6" y2="170.82" stroke="#1a1a1a" stroke-width="1.3"/>
<line x1="388.6" y1="164.7" x2="391.6" y2="164.7" stroke="#1a1a1a" stroke-width="1.3"/>
<line x1="388.6" y1="159.96" x2="391.6" y2="159.96" stroke="#1a1a1a" stroke-width="1.3"/>
<line x1="388.6" y1="156.08" x2="391.6" y2="156.08" stroke="#1a1a1a" stroke-width="1.3"/>
<line x1="388.6" y1="152.8" x2="391.6" y2="152.8" stroke="#1a1a1a" stroke-width="1.3"/>
<line x1="388.6" y1="149.96" x2="391.6" y2="149.96" stroke="#1a1a1a" stroke-width="1.3"/>
<line x1="388.6" y1="147.46" x2="391.6" y2="147.46" stroke="#1a1a1a" stroke-width="1.3"/>
<line x1="388.6" y1="145.22" x2="394.6" y2="145.22" stroke="#1a1a1a" stroke-width="1.3"/>
<text x="383.7" y="150.52" font-size="9.2" font-weight="bold" text-anchor="end">10<tspan font-size="6.2" dy="-5.6" dx="0.8">2</tspan></text>
<line x1="388.6" y1="130.48" x2="391.6" y2="130.48" stroke="#1a1a1a" stroke-width="1.3"/>
<line x1="388.6" y1="121.86" x2="391.6" y2="121.86" stroke="#1a1a1a" stroke-width="1.3"/>
<line x1="388.6" y1="115.74" x2="391.6" y2="115.74" stroke="#1a1a1a" stroke-width="1.3"/>
<line x1="388.6" y1="111" x2="391.6" y2="111" stroke="#1a1a1a" stroke-width="1.3"/>
<line x1="388.6" y1="107.12" x2="391.6" y2="107.12" stroke="#1a1a1a" stroke-width="1.3"/>
<line x1="388.6" y1="103.84" x2="391.6" y2="103.84" stroke="#1a1a1a" stroke-width="1.3"/>
<line x1="388.6" y1="101" x2="391.6" y2="101" stroke="#1a1a1a" stroke-width="1.3"/>
<line x1="388.6" y1="98.5" x2="391.6" y2="98.5" stroke="#1a1a1a" stroke-width="1.3"/>
<line x1="388.6" y1="96.26" x2="394.6" y2="96.26" stroke="#1a1a1a" stroke-width="1.3"/>
<text x="383.7" y="101.56" font-size="9.2" font-weight="bold" text-anchor="end">10<tspan font-size="6.2" dy="-5.6" dx="0.8">3</tspan></text>
<line x1="388.6" y1="81.52" x2="391.6" y2="81.52" stroke="#1a1a1a" stroke-width="1.3"/>
<line x1="388.6" y1="72.9" x2="391.6" y2="72.9" stroke="#1a1a1a" stroke-width="1.3"/>
<line x1="388.6" y1="66.78" x2="391.6" y2="66.78" stroke="#1a1a1a" stroke-width="1.3"/>
<line x1="388.6" y1="62.04" x2="391.6" y2="62.04" stroke="#1a1a1a" stroke-width="1.3"/>
<line x1="388.6" y1="58.16" x2="391.6" y2="58.16" stroke="#1a1a1a" stroke-width="1.3"/>
<line x1="388.6" y1="54.88" x2="391.6" y2="54.88" stroke="#1a1a1a" stroke-width="1.3"/>
<line x1="388.6" y1="52.04" x2="391.6" y2="52.04" stroke="#1a1a1a" stroke-width="1.3"/>
<line x1="388.6" y1="49.54" x2="391.6" y2="49.54" stroke="#1a1a1a" stroke-width="1.3"/>
<line x1="388.6" y1="47.3" x2="394.6" y2="47.3" stroke="#1a1a1a" stroke-width="1.3"/>
<text x="383.7" y="52.6" font-size="9.2" font-weight="bold" text-anchor="end">10<tspan font-size="6.2" dy="-5.6" dx="0.8">4</tspan></text>
<line x1="388.6" y1="32.56" x2="391.6" y2="32.56" stroke="#1a1a1a" stroke-width="1.3"/>
<line x1="388.6" y1="23.94" x2="391.6" y2="23.94" stroke="#1a1a1a" stroke-width="1.3"/>
<line x1="388.6" y1="17.82" x2="391.6" y2="17.82" stroke="#1a1a1a" stroke-width="1.3"/>
<line x1="388.6" y1="13.08" x2="391.6" y2="13.08" stroke="#1a1a1a" stroke-width="1.3"/>
<line x1="388.6" y1="9.2" x2="391.6" y2="9.2" stroke="#1a1a1a" stroke-width="1.3"/>
<line x1="388.6" y1="5.92" x2="391.6" y2="5.92" stroke="#1a1a1a" stroke-width="1.3"/>
<line x1="420.89" y1="295.3" x2="420.89" y2="292.3" stroke="#1a1a1a" stroke-width="1.3"/>
<text x="420.89" y="303.3" font-size="6.2" font-weight="bold" text-anchor="middle" fill="#000" >2</text>
<line x1="455.28" y1="295.3" x2="455.28" y2="292.3" stroke="#1a1a1a" stroke-width="1.3"/>
<text x="455.28" y="303.3" font-size="6.2" font-weight="bold" text-anchor="middle" fill="#000" >3</text>
<line x1="479.68" y1="295.3" x2="479.68" y2="292.3" stroke="#1a1a1a" stroke-width="1.3"/>
<text x="479.68" y="303.3" font-size="6.2" font-weight="bold" text-anchor="middle" fill="#000" >4</text>
<line x1="498.61" y1="295.3" x2="498.61" y2="292.3" stroke="#1a1a1a" stroke-width="1.3"/>
<text x="498.61" y="303.3" font-size="6.2" font-weight="bold" text-anchor="middle" fill="#000" >5</text>
<line x1="514.07" y1="295.3" x2="514.07" y2="292.3" stroke="#1a1a1a" stroke-width="1.3"/>
<text x="514.07" y="303.3" font-size="6.2" font-weight="bold" text-anchor="middle" fill="#000" >6</text>
<line x1="527.15" y1="295.3" x2="527.15" y2="292.3" stroke="#1a1a1a" stroke-width="1.3"/>
<text x="527.15" y="303.3" font-size="6.2" font-weight="bold" text-anchor="middle" fill="#000" >7</text>
<line x1="538.47" y1="295.3" x2="538.47" y2="292.3" stroke="#1a1a1a" stroke-width="1.3"/>
<text x="538.47" y="303.3" font-size="6.2" font-weight="bold" text-anchor="middle" fill="#000" >8</text>
<line x1="548.46" y1="295.3" x2="548.46" y2="292.3" stroke="#1a1a1a" stroke-width="1.3"/>
<text x="548.46" y="303.3" font-size="6.2" font-weight="bold" text-anchor="middle" fill="#000" >9</text>
<line x1="557.4" y1="295.3" x2="557.4" y2="289.3" stroke="#1a1a1a" stroke-width="1.3"/>
<text x="557.4" y="311.3" font-size="8.2" font-weight="bold" text-anchor="middle" fill="#000" >0.1</text>
<line x1="616.19" y1="295.3" x2="616.19" y2="292.3" stroke="#1a1a1a" stroke-width="1.3"/>
<text x="616.19" y="303.3" font-size="6.2" font-weight="bold" text-anchor="middle" fill="#000" >2</text>
<line x1="650.58" y1="295.3" x2="650.58" y2="292.3" stroke="#1a1a1a" stroke-width="1.3"/>
<text x="650.58" y="303.3" font-size="6.2" font-weight="bold" text-anchor="middle" fill="#000" >3</text>
<text x="348.4" y="148.4" font-size="9" font-weight="bold" text-anchor="middle" transform="rotate(-90 348.4 148.4)">I(q)</text>
<text x="520.5" y="329.1" font-size="8.2" font-weight="bold" text-anchor="middle">q (&#197;<tspan font-size="5.8" dy="-4.2">-1</tspan><tspan dy="4.2">)</tspan></text>
<text x="336.5" y="14.6" font-size="17.5" font-weight="normal" text-anchor="start" fill="#000" >(b)</text>
<g fill="none" stroke-linecap="round" stroke-linejoin="round">
<path d="M392,58.5 L392.47,58.73 L392.98,58.97 L393.53,59.21 L394.13,59.46 L394.76,59.72 L395.44,60.01 L396.15,60.32 L396.91,60.66 L397.7,61.03 L398.53,61.44 L399.41,61.9 L400.41,62.44 L401.58,63.12 L402.91,63.93 L404.31,64.81 L405.71,65.72 L407.13,66.63 L408.53,67.57 L409.15,67.99 L409.76,68.42 L410.38,68.85 L411,69.3 L411.63,69.76 L412.27,70.23 L412.92,70.73 L413.6,71.24 L414.29,71.77 L415.02,72.33 L415.77,72.92 L416.56,73.54 L417.37,74.18 L418.21,74.85 L419.07,75.53 L419.95,76.24 L420.84,76.96 L421.75,77.69 L422.66,78.44 L423.58,79.19 L424.5,79.94 L425.41,80.69 L426.33,81.45 L427.24,82.21 L428.13,82.95 L429.02,83.7 L429.89,84.43 L430.74,85.15 L431.57,85.86 L432.38,86.55 L433.16,87.23 L433.92,87.88 L434.65,88.52 L435.35,89.14 L436.03,89.74 L436.69,90.33 L437.33,90.91 L437.96,91.48 L438.57,92.05 L439.17,92.61 L439.76,93.17 L440.73,94.11 L441.69,95.05 L442.63,95.99 L443.52,96.9 L444.39,97.8 L445.2,98.67 L445.97,99.49 L446.69,100.29 L447.37,101.04 L448.02,101.77 L448.63,102.46 L449.22,103.13 L449.79,103.79 L450.35,104.42 L450.89,105.04 L451.43,105.65 L451.96,106.26 L452.5,106.86 L453.05,107.48 L453.6,108.08 L454.18,108.71 L454.77,109.35 L455.39,110 L456.03,110.67 L456.77,111.43 L457.52,112.2 L458.29,112.96 L459.06,113.71 L459.84,114.46 L460.62,115.21 L461.4,115.94 L462.17,116.66 L462.94,117.36 L463.71,118.06 L464.47,118.74 L465.22,119.41 L465.97,120.07 L466.72,120.72 L467.46,121.36 L468.2,122 L468.93,122.62 L469.67,123.25 L470.41,123.87 L471.15,124.5 L471.9,125.12 L472.68,125.76 L473.49,126.43 L474.31,127.1 L475.13,127.76 L475.96,128.43 L476.79,129.09 L477.62,129.74 L478.44,130.39 L479.26,131.02 L480.08,131.64 L480.9,132.25 L481.71,132.85 L482.51,133.43 L483.31,134 L484.11,134.55 L484.91,135.09 L485.7,135.61 L486.5,136.13 L487.3,136.63 L488.1,137.11 L488.96,137.62 L489.88,138.15 L490.8,138.66 L491.73,139.15 L492.65,139.63 L493.58,140.1 L494.5,140.54 L495.42,140.98 L496.34,141.4 L497.26,141.8 L498.17,142.2 L499.08,142.58 L499.98,142.95 L500.89,143.31 L501.79,143.67 L502.7,144.02 L503.61,144.36 L504.53,144.69 L505.49,145.04 L506.45,145.37 L507.39,145.7 L508.34,146.02 L509.28,146.33 L510.21,146.63 L511.15,146.93 L512.1,147.22 L513.06,147.51 L514.03,147.8 L515,148.09 L516,148.38 L517.01,148.67 L518.04,148.96 L519.08,149.25 L520.14,149.54 L521.12,149.81 L522.02,150.06 L522.91,150.29 L523.8,150.53 L524.69,150.76 L525.58,151 L526.48,151.23 L527.39,151.46 L528.32,151.7 L529.27,151.94 L530.24,152.18 L531.23,152.42 L532.26,152.67 L533.32,152.92 L534.39,153.18 L535.5,153.43 L536.62,153.69 L537.76,153.95 L538.91,154.21 L540.09,154.46 L540.95,154.65 L541.85,154.84 L542.75,155.03 L543.68,155.22 L544.62,155.42 L545.59,155.61 L546.57,155.81 L547.58,156.01 L548.61,156.22 L549.66,156.42 L550.73,156.63 L551.8,156.84 L552.88,157.05 L553.96,157.25 L555.05,157.46 L556.11,157.67 L557.16,157.87 L558.19,158.07 L559.2,158.26 L560.19,158.45 L561.16,158.64 L562.1,158.82 L563.02,159 L563.93,159.18 L564.82,159.36 L565.67,159.53 L566.69,159.73 L567.87,159.97 L569.02,160.2 L570.12,160.42 L571.2,160.64 L572.22,160.86 L573.23,161.07 L574.19,161.27 L575.13,161.48 L576.05,161.68 L576.95,161.88 L577.84,162.09 L578.71,162.3 L579.59,162.51 L580.47,162.73 L581.36,162.96 L582.27,163.2 L583.21,163.46 L584.16,163.72 L585.1,164 L586.06,164.28 L587.02,164.57 L587.98,164.87 L588.94,165.18 L589.91,165.49 L590.87,165.81 L591.84,166.14 L592.8,166.47 L593.77,166.81 L594.73,167.14 L595.69,167.48 L596.65,167.83 L597.61,168.17 L598.57,168.51 L599.53,168.86 L600.48,169.2 L601.43,169.55 L602.39,169.89 L603.34,170.24 L604.3,170.59 L605.26,170.93 L606.22,171.28 L607.18,171.63 L608.14,171.97 L609.11,172.32 L610.06,172.66 L611.02,173 L611.98,173.34 L612.94,173.67 L613.9,174 L614.85,174.33 L615.8,174.65 L616.75,174.96 L617.7,175.27 L618.65,175.57 L619.61,175.87 L620.57,176.16 L621.56,176.46 L622.58,176.76 L623.6,177.05 L624.65,177.35 L625.7,177.63 L626.75,177.92 L627.8,178.19 L628.84,178.46 L629.86,178.71 L630.86,178.96 L631.84,179.19 L632.81,179.42 L633.74,179.63 L634.64,179.83 L635.51,180.02 L636.38,180.22 L637.22,180.4 L638.05,180.58 L639.1,180.8 L640.46,181.07 L641.87,181.33 L643.29,181.58 L644.58,181.8 L645.71,181.97 L646.72,182.11 L647.66,182.23 L648.51,182.34 L649.28,182.44 L649.94,182.52 L650.5,182.6 L650.5,182.6" stroke="#9c0000" stroke-width="3.6"/>
<path d="M392,74.2 L392.41,74.53 L392.85,74.88 L393.32,75.25 L393.83,75.65 L394.37,76.07 L394.94,76.52 L395.55,77 L396.18,77.5 L396.86,78.03 L397.56,78.59 L398.29,79.18 L399.07,79.8 L399.92,80.49 L400.87,81.26 L401.95,82.15 L403.11,83.11 L404.31,84.11 L405.54,85.13 L406.8,86.17 L408.01,87.19 L408.9,87.94 L409.47,88.43 L410.06,88.92 L410.65,89.43 L411.24,89.94 L411.85,90.46 L412.48,91 L413.13,91.56 L413.8,92.13 L414.5,92.74 L415.22,93.37 L415.98,94.02 L416.76,94.7 L417.56,95.4 L418.4,96.13 L419.24,96.87 L420.11,97.62 L420.98,98.38 L421.87,99.16 L422.76,99.94 L423.66,100.72 L424.55,101.5 L425.45,102.29 L426.34,103.07 L427.23,103.85 L428.1,104.61 L428.96,105.37 L429.81,106.11 L430.64,106.84 L431.46,107.55 L432.24,108.24 L433.01,108.9 L433.75,109.55 L434.46,110.17 L435.15,110.77 L435.82,111.35 L436.47,111.92 L437.1,112.47 L437.73,113.01 L438.34,113.54 L438.95,114.07 L439.55,114.58 L440.43,115.34 L441.58,116.33 L442.69,117.28 L443.75,118.19 L444.74,119.04 L445.66,119.82 L446.51,120.54 L447.29,121.2 L448.01,121.82 L448.69,122.39 L449.33,122.93 L449.93,123.45 L450.53,123.95 L451.11,124.45 L451.68,124.94 L452.26,125.44 L452.86,125.95 L453.47,126.48 L454.1,127.02 L454.77,127.6 L455.48,128.22 L456.23,128.87 L456.98,129.52 L457.74,130.19 L458.52,130.87 L459.29,131.56 L460.08,132.26 L460.86,132.95 L461.64,133.65 L462.42,134.34 L463.19,135.04 L463.96,135.73 L464.73,136.42 L465.5,137.1 L466.26,137.79 L467.01,138.47 L467.77,139.14 L468.52,139.82 L469.26,140.49 L470.01,141.16 L470.76,141.83 L471.5,142.5 L472.25,143.18 L473.01,143.87 L473.78,144.57 L474.56,145.27 L475.34,145.97 L476.13,146.68 L476.92,147.39 L477.71,148.1 L478.5,148.81 L479.29,149.51 L480.07,150.21 L480.86,150.89 L481.64,151.57 L482.41,152.22 L483.18,152.87 L483.95,153.5 L484.71,154.11 L485.47,154.71 L486.23,155.29 L486.99,155.86 L487.76,156.42 L488.52,156.96 L489.41,157.58 L490.31,158.18 L491.21,158.77 L492.11,159.34 L493.02,159.89 L493.92,160.42 L494.83,160.94 L495.73,161.44 L496.62,161.92 L497.51,162.39 L498.4,162.84 L499.28,163.27 L500.16,163.69 L501.04,164.1 L501.92,164.49 L502.8,164.88 L503.68,165.25 L504.57,165.61 L505.53,166 L506.49,166.36 L507.44,166.71 L508.38,167.05 L509.32,167.37 L510.26,167.69 L511.2,167.99 L512.15,168.28 L513.11,168.56 L514.08,168.84 L515.06,169.11 L516.06,169.38 L517.07,169.64 L518.1,169.89 L519.14,170.14 L520.19,170.39 L521.16,170.61 L522.06,170.8 L522.95,170.99 L523.84,171.17 L524.72,171.35 L525.6,171.52 L526.5,171.69 L527.41,171.85 L528.33,172.02 L529.26,172.18 L530.22,172.34 L531.21,172.51 L532.23,172.67 L533.27,172.84 L534.34,173.01 L535.44,173.18 L536.55,173.35 L537.69,173.53 L538.85,173.7 L540.01,173.87 L540.9,174.01 L541.82,174.14 L542.75,174.27 L543.7,174.41 L544.67,174.55 L545.66,174.69 L546.68,174.83 L547.71,174.97 L548.77,175.12 L549.84,175.27 L550.93,175.42 L552.03,175.57 L553.14,175.72 L554.24,175.88 L555.34,176.04 L556.42,176.19 L557.49,176.35 L558.53,176.51 L559.55,176.67 L560.55,176.83 L561.52,176.99 L562.47,177.16 L563.41,177.32 L564.32,177.49 L565.21,177.66 L566.07,177.83 L567.26,178.08 L568.41,178.32 L569.54,178.57 L570.63,178.82 L571.68,179.07 L572.7,179.32 L573.69,179.57 L574.65,179.82 L575.58,180.07 L576.49,180.32 L577.39,180.57 L578.28,180.83 L579.17,181.09 L580.06,181.35 L580.95,181.62 L581.86,181.9 L582.79,182.18 L583.74,182.48 L584.69,182.78 L585.64,183.09 L586.59,183.4 L587.55,183.72 L588.5,184.04 L589.46,184.36 L590.42,184.69 L591.38,185.02 L592.34,185.36 L593.3,185.69 L594.26,186.04 L595.22,186.38 L596.18,186.73 L597.14,187.08 L598.1,187.43 L599.05,187.79 L600.01,188.15 L600.96,188.51 L601.92,188.87 L602.86,189.23 L603.79,189.59 L604.72,189.95 L605.65,190.32 L606.59,190.69 L607.52,191.06 L608.46,191.43 L609.39,191.8 L610.33,192.17 L611.26,192.54 L612.19,192.91 L613.12,193.27 L614.04,193.64 L614.97,193.99 L615.89,194.35 L616.81,194.7 L617.73,195.04 L618.66,195.38 L619.58,195.72 L620.51,196.05 L621.51,196.4 L622.52,196.75 L623.56,197.1 L624.61,197.45 L625.67,197.8 L626.73,198.14 L627.79,198.47 L628.84,198.8 L629.87,199.11 L630.88,199.42 L631.87,199.71 L632.85,200 L633.79,200.27 L634.7,200.52 L635.59,200.77 L636.46,201.02 L637.3,201.25 L638.13,201.48 L639.15,201.76 L640.44,202.1 L641.77,202.44 L643.11,202.77 L644.36,203.07 L645.46,203.32 L646.45,203.54 L647.38,203.74 L648.23,203.92 L648.99,204.08 L649.66,204.22 L650.25,204.34 L650.5,204.4" stroke="#cc0000" stroke-width="3.6"/>
<path d="M392,97.4 L392.41,97.73 L392.85,98.07 L393.33,98.42 L393.83,98.8 L394.37,99.2 L394.94,99.63 L395.54,100.08 L396.17,100.55 L396.84,101.06 L397.53,101.59 L398.26,102.16 L399.02,102.77 L399.85,103.44 L400.79,104.21 L401.85,105.11 L403.02,106.11 L404.23,107.15 L405.48,108.23 L406.74,109.33 L407.99,110.44 L408.86,111.22 L409.41,111.73 L409.97,112.24 L410.53,112.76 L411.1,113.29 L411.67,113.84 L412.26,114.39 L412.87,114.97 L413.5,115.58 L414.16,116.21 L414.84,116.87 L415.55,117.56 L416.29,118.28 L417.05,119.02 L417.83,119.79 L418.64,120.58 L419.46,121.38 L420.28,122.19 L421.12,123.02 L421.97,123.86 L422.83,124.7 L423.67,125.54 L424.52,126.38 L425.37,127.22 L426.23,128.07 L427.07,128.9 L427.91,129.74 L428.74,130.55 L429.56,131.36 L430.36,132.16 L431.15,132.94 L431.91,133.69 L432.66,134.42 L433.38,135.13 L434.07,135.81 L434.74,136.47 L435.39,137.1 L436.02,137.71 L436.63,138.31 L437.23,138.89 L437.82,139.46 L438.4,140.02 L438.98,140.57 L439.54,141.11 L440.39,141.92 L441.52,142.99 L442.63,144.03 L443.69,145.02 L444.68,145.94 L445.6,146.79 L446.45,147.57 L447.23,148.29 L447.95,148.94 L448.62,149.55 L449.25,150.11 L449.86,150.65 L450.43,151.16 L450.99,151.65 L451.55,152.14 L452.11,152.63 L452.68,153.12 L453.26,153.63 L453.86,154.14 L454.49,154.68 L455.16,155.25 L455.88,155.86 L456.66,156.52 L457.46,157.19 L458.27,157.86 L459.09,158.54 L459.92,159.22 L460.74,159.9 L461.57,160.57 L462.39,161.23 L463.2,161.89 L464.01,162.54 L464.82,163.17 L465.61,163.8 L466.41,164.43 L467.19,165.04 L467.98,165.66 L468.76,166.26 L469.54,166.86 L470.32,167.46 L471.1,168.06 L471.88,168.66 L472.69,169.27 L473.52,169.89 L474.35,170.52 L475.2,171.15 L476.04,171.78 L476.89,172.41 L477.73,173.03 L478.58,173.64 L479.42,174.24 L480.26,174.84 L481.1,175.42 L481.93,175.99 L482.75,176.54 L483.57,177.08 L484.39,177.61 L485.21,178.12 L486.03,178.62 L486.84,179.1 L487.66,179.57 L488.49,180.03 L489.43,180.54 L490.38,181.03 L491.33,181.5 L492.28,181.96 L493.24,182.41 L494.19,182.84 L495.15,183.25 L496.1,183.65 L497.05,184.03 L498,184.4 L498.94,184.76 L499.89,185.11 L500.83,185.45 L501.77,185.78 L502.7,186.09 L503.64,186.4 L504.59,186.71 L505.55,187.01 L506.5,187.3 L507.45,187.58 L508.39,187.85 L509.32,188.11 L510.26,188.36 L511.2,188.61 L512.14,188.85 L513.1,189.08 L514.07,189.31 L515.05,189.54 L516.05,189.75 L517.06,189.97 L518.09,190.17 L519.12,190.37 L520.18,190.57 L521.17,190.74 L522.05,190.89 L522.94,191.03 L523.82,191.16 L524.71,191.29 L525.59,191.42 L526.49,191.54 L527.39,191.66 L528.31,191.78 L529.24,191.89 L530.2,192.01 L531.19,192.13 L532.2,192.26 L533.24,192.38 L534.31,192.52 L535.4,192.65 L536.52,192.8 L537.66,192.95 L538.81,193.1 L539.98,193.26 L540.87,193.39 L541.79,193.52 L542.72,193.66 L543.67,193.8 L544.64,193.95 L545.64,194.1 L546.65,194.26 L547.69,194.43 L548.75,194.6 L549.83,194.77 L550.92,194.96 L552.02,195.14 L553.13,195.33 L554.24,195.52 L555.34,195.71 L556.42,195.9 L557.49,196.09 L558.54,196.29 L559.56,196.47 L560.56,196.66 L561.54,196.85 L562.49,197.04 L563.42,197.23 L564.33,197.42 L565.23,197.61 L566.1,197.79 L567.28,198.05 L568.44,198.32 L569.56,198.58 L570.64,198.84 L571.7,199.1 L572.72,199.35 L573.7,199.6 L574.66,199.86 L575.59,200.1 L576.5,200.35 L577.4,200.6 L578.29,200.86 L579.18,201.11 L580.06,201.37 L580.95,201.64 L581.86,201.91 L582.79,202.2 L583.73,202.49 L584.69,202.79 L585.63,203.1 L586.59,203.4 L587.54,203.72 L588.5,204.04 L589.47,204.36 L590.43,204.68 L591.39,205.01 L592.35,205.34 L593.31,205.68 L594.26,206.01 L595.22,206.35 L596.18,206.69 L597.14,207.03 L598.09,207.36 L599.05,207.7 L600,208.04 L600.96,208.38 L601.91,208.72 L602.86,209.06 L603.82,209.41 L604.78,209.75 L605.74,210.09 L606.7,210.43 L607.66,210.77 L608.61,211.11 L609.57,211.45 L610.53,211.79 L611.49,212.13 L612.44,212.47 L613.39,212.8 L614.34,213.13 L615.29,213.46 L616.24,213.78 L617.19,214.1 L618.13,214.42 L619.08,214.74 L620.04,215.06 L621.02,215.38 L622.02,215.71 L623.05,216.03 L624.09,216.37 L625.15,216.7 L626.21,217.03 L627.27,217.36 L628.32,217.68 L629.36,217.99 L630.38,218.29 L631.38,218.59 L632.37,218.87 L633.34,219.15 L634.26,219.4 L635.16,219.65 L636.05,219.89 L636.91,220.13 L637.73,220.35 L638.55,220.57 L639.8,220.89 L641.11,221.21 L642.45,221.53 L643.76,221.82 L644.93,222.07 L645.97,222.27 L646.92,222.45 L647.81,222.61 L648.61,222.76 L649.34,222.88 L649.96,223 L650.5,223.1 L650.5,223.1" stroke="#ff0000" stroke-width="3.6"/>
<path d="M392,124.6 L392.4,124.94 L392.83,125.31 L393.29,125.69 L393.78,126.09 L394.3,126.52 L394.86,126.97 L395.44,127.45 L396.05,127.96 L396.7,128.49 L397.38,129.06 L398.08,129.66 L398.81,130.29 L399.6,130.97 L400.49,131.75 L401.49,132.65 L402.61,133.66 L403.78,134.72 L404.99,135.82 L406.23,136.96 L407.45,138.1 L408.61,139.19 L409.14,139.71 L409.68,140.22 L410.22,140.74 L410.77,141.27 L411.33,141.82 L411.89,142.37 L412.47,142.95 L413.08,143.55 L413.7,144.17 L414.35,144.82 L415.02,145.5 L415.73,146.21 L416.46,146.94 L417.21,147.7 L417.98,148.48 L418.77,149.29 L419.57,150.1 L420.38,150.93 L421.2,151.76 L422.04,152.61 L422.87,153.46 L423.69,154.3 L424.53,155.15 L425.36,155.99 L426.19,156.85 L427.02,157.69 L427.84,158.52 L428.66,159.35 L429.46,160.16 L430.25,160.95 L431.02,161.73 L431.77,162.49 L432.5,163.22 L433.21,163.93 L433.9,164.61 L434.56,165.26 L435.19,165.88 L435.81,166.49 L436.41,167.07 L437,167.64 L437.58,168.19 L438.15,168.73 L438.72,169.27 L439.28,169.79 L439.84,170.31 L441.05,171.41 L442.24,172.48 L443.39,173.49 L444.47,174.42 L445.46,175.27 L446.38,176.03 L447.21,176.72 L447.96,177.33 L448.67,177.89 L449.32,178.41 L449.93,178.89 L450.52,179.34 L451.1,179.78 L451.67,180.22 L452.24,180.65 L452.82,181.09 L453.42,181.53 L454.06,182 L454.72,182.49 L455.44,183.02 L456.22,183.6 L457.05,184.21 L457.9,184.83 L458.77,185.46 L459.64,186.1 L460.52,186.73 L461.4,187.36 L462.28,187.99 L463.15,188.61 L464.01,189.21 L464.87,189.81 L465.72,190.39 L466.57,190.97 L467.4,191.52 L468.24,192.07 L469.06,192.61 L469.89,193.14 L470.72,193.66 L471.54,194.17 L472.37,194.67 L473.26,195.21 L474.16,195.73 L475.07,196.25 L475.97,196.76 L476.87,197.26 L477.77,197.74 L478.67,198.22 L479.57,198.68 L480.46,199.13 L481.35,199.57 L482.23,200 L483.12,200.42 L484,200.82 L484.88,201.22 L485.76,201.6 L486.64,201.98 L487.53,202.34 L488.42,202.7 L489.39,203.08 L490.37,203.45 L491.35,203.8 L492.33,204.15 L493.32,204.48 L494.3,204.81 L495.29,205.12 L496.27,205.42 L497.25,205.71 L498.23,205.99 L499.21,206.26 L500.19,206.52 L501.16,206.77 L502.13,207.01 L503.1,207.24 L504.07,207.46 L505.05,207.68 L506.04,207.88 L507.01,208.08 L507.99,208.27 L508.95,208.45 L509.92,208.62 L510.88,208.79 L511.86,208.95 L512.84,209.1 L513.84,209.25 L514.85,209.39 L515.87,209.53 L516.91,209.67 L517.97,209.8 L519.04,209.92 L520.12,210.05 L521.14,210.15 L522.05,210.25 L522.97,210.33 L523.88,210.42 L524.79,210.5 L525.7,210.58 L526.62,210.65 L527.55,210.73 L528.5,210.81 L529.48,210.89 L530.48,210.97 L531.5,211.05 L532.56,211.14 L533.65,211.24 L534.76,211.35 L535.9,211.46 L537.06,211.58 L538.24,211.7 L539.42,211.84 L540.47,211.96 L541.38,212.08 L542.3,212.2 L543.24,212.32 L544.19,212.45 L545.17,212.6 L546.17,212.74 L547.19,212.9 L548.23,213.06 L549.29,213.23 L550.38,213.4 L551.47,213.58 L552.58,213.76 L553.69,213.95 L554.79,214.14 L555.88,214.33 L556.96,214.52 L558.02,214.71 L559.06,214.9 L560.07,215.09 L561.06,215.27 L562.03,215.45 L562.97,215.64 L563.89,215.82 L564.8,216 L565.68,216.18 L566.71,216.39 L567.89,216.63 L569.02,216.88 L570.12,217.12 L571.19,217.36 L572.23,217.59 L573.23,217.82 L574.19,218.05 L575.13,218.28 L576.05,218.51 L576.95,218.74 L577.84,218.97 L578.72,219.21 L579.61,219.45 L580.49,219.69 L581.39,219.95 L582.3,220.21 L583.23,220.48 L584.19,220.77 L585.13,221.06 L586.09,221.36 L587.04,221.66 L588,221.97 L588.96,222.29 L589.93,222.61 L590.89,222.94 L591.85,223.27 L592.81,223.61 L593.77,223.95 L594.73,224.29 L595.69,224.64 L596.65,224.99 L597.62,225.34 L598.58,225.7 L599.53,226.06 L600.49,226.42 L601.44,226.78 L602.4,227.15 L603.32,227.51 L604.26,227.87 L605.19,228.23 L606.12,228.6 L607.06,228.97 L607.99,229.34 L608.93,229.71 L609.86,230.08 L610.79,230.45 L611.72,230.82 L612.65,231.19 L613.58,231.55 L614.51,231.92 L615.43,232.27 L616.35,232.62 L617.27,232.97 L618.19,233.31 L619.12,233.65 L620.05,233.99 L621.01,234.33 L622.02,234.68 L623.04,235.03 L624.09,235.38 L625.14,235.72 L626.2,236.07 L627.26,236.4 L628.32,236.74 L629.36,237.06 L630.38,237.37 L631.38,237.67 L632.36,237.95 L633.33,238.23 L634.25,238.5 L635.15,238.75 L636.02,238.99 L636.88,239.24 L637.72,239.47 L638.53,239.69 L639.79,240.03 L641.1,240.37 L642.44,240.71 L643.76,241.03 L644.93,241.3 L645.97,241.54 L646.92,241.74 L647.81,241.93 L648.61,242.1 L649.34,242.25 L649.96,242.38 L650.5,242.5 L650.5,242.5" stroke="#ff3c3c" stroke-width="3.6"/>
<path d="M392,155.8 L392.38,156.16 L392.79,156.54 L393.22,156.96 L393.69,157.4 L394.18,157.87 L394.71,158.37 L395.26,158.89 L395.84,159.45 L396.45,160.03 L397.09,160.63 L397.76,161.27 L398.46,161.93 L399.2,162.62 L400.01,163.38 L400.91,164.22 L401.92,165.16 L402.98,166.15 L404.09,167.18 L405.22,168.23 L406.38,169.31 L407.51,170.35 L408.6,171.36 L409.16,171.88 L409.73,172.4 L410.31,172.93 L410.89,173.47 L411.49,174.02 L412.1,174.58 L412.73,175.16 L413.38,175.76 L414.06,176.38 L414.77,177.03 L415.5,177.71 L416.27,178.41 L417.05,179.13 L417.86,179.87 L418.7,180.64 L419.54,181.41 L420.4,182.19 L421.26,182.98 L422.15,183.79 L423.03,184.6 L423.91,185.4 L424.79,186.2 L425.68,187 L426.56,187.81 L427.44,188.6 L428.3,189.37 L429.15,190.14 L429.99,190.9 L430.8,191.63 L431.6,192.34 L432.38,193.03 L433.12,193.69 L433.84,194.32 L434.54,194.94 L435.21,195.52 L435.87,196.09 L436.51,196.64 L437.13,197.17 L437.75,197.7 L438.35,198.21 L438.96,198.71 L439.56,199.21 L440.49,199.97 L441.75,200.98 L442.97,201.94 L444.13,202.84 L445.2,203.66 L446.18,204.39 L447.08,205.04 L447.89,205.63 L448.65,206.16 L449.35,206.65 L450.01,207.09 L450.63,207.51 L451.25,207.91 L451.86,208.3 L452.47,208.69 L453.09,209.08 L453.74,209.47 L454.42,209.88 L455.14,210.31 L455.91,210.76 L456.79,211.27 L457.7,211.78 L458.61,212.28 L459.54,212.79 L460.48,213.29 L461.42,213.79 L462.35,214.27 L463.28,214.74 L464.21,215.2 L465.12,215.65 L466.04,216.09 L466.94,216.52 L467.84,216.93 L468.74,217.34 L469.63,217.74 L470.52,218.13 L471.42,218.52 L472.31,218.9 L473.26,219.29 L474.22,219.68 L475.17,220.06 L476.13,220.44 L477.08,220.81 L478.03,221.16 L478.98,221.52 L479.93,221.86 L480.88,222.19 L481.82,222.51 L482.76,222.82 L483.7,223.13 L484.63,223.42 L485.57,223.71 L486.51,223.99 L487.45,224.25 L488.39,224.52 L489.4,224.78 L490.41,225.04 L491.41,225.29 L492.43,225.53 L493.44,225.76 L494.45,225.98 L495.47,226.2 L496.48,226.4 L497.5,226.61 L498.51,226.8 L499.52,226.99 L500.53,227.18 L501.54,227.36 L502.55,227.53 L503.55,227.71 L504.55,227.88 L505.55,228.04 L506.53,228.2 L507.51,228.36 L508.47,228.51 L509.44,228.67 L510.4,228.82 L511.38,228.96 L512.36,229.11 L513.35,229.26 L514.36,229.4 L515.38,229.55 L516.42,229.69 L517.47,229.84 L518.54,229.99 L519.63,230.13 L520.72,230.27 L521.62,230.39 L522.51,230.51 L523.4,230.62 L524.27,230.73 L525.16,230.84 L526.05,230.95 L526.94,231.06 L527.85,231.17 L528.78,231.28 L529.72,231.4 L530.69,231.52 L531.69,231.64 L532.72,231.77 L533.77,231.9 L534.86,232.04 L535.96,232.19 L537.09,232.34 L538.23,232.5 L539.4,232.66 L540.43,232.81 L541.33,232.94 L542.25,233.07 L543.2,233.22 L544.16,233.36 L545.14,233.51 L546.14,233.67 L547.17,233.83 L548.22,233.99 L549.29,234.17 L550.37,234.34 L551.47,234.52 L552.58,234.71 L553.69,234.89 L554.79,235.08 L555.88,235.27 L556.96,235.45 L558.03,235.64 L559.06,235.82 L560.07,236.01 L561.06,236.19 L562.02,236.37 L562.97,236.54 L563.9,236.72 L564.8,236.9 L565.69,237.07 L566.71,237.28 L567.89,237.52 L569.02,237.76 L570.13,238 L571.19,238.23 L572.22,238.46 L573.22,238.69 L574.19,238.92 L575.13,239.15 L576.04,239.38 L576.95,239.61 L577.83,239.85 L578.72,240.09 L579.6,240.33 L580.49,240.59 L581.39,240.86 L582.3,241.14 L583.23,241.43 L584.18,241.74 L585.1,242.05 L586.03,242.37 L586.96,242.7 L587.89,243.03 L588.83,243.38 L589.77,243.74 L590.71,244.1 L591.65,244.47 L592.59,244.84 L593.53,245.22 L594.46,245.6 L595.4,245.98 L596.34,246.37 L597.28,246.75 L598.21,247.14 L599.15,247.53 L600.08,247.92 L601.01,248.3 L601.94,248.69 L602.87,249.07 L603.8,249.45 L604.73,249.83 L605.66,250.22 L606.6,250.6 L607.53,250.98 L608.47,251.36 L609.4,251.73 L610.34,252.11 L611.26,252.48 L612.19,252.84 L613.12,253.21 L614.04,253.57 L614.97,253.92 L615.89,254.27 L616.8,254.62 L617.72,254.96 L618.64,255.3 L619.57,255.64 L620.5,255.97 L621.5,256.32 L622.51,256.67 L623.55,257.02 L624.6,257.37 L625.66,257.72 L626.72,258.06 L627.79,258.4 L628.84,258.73 L629.86,259.04 L630.87,259.34 L631.86,259.63 L632.83,259.91 L633.77,260.17 L634.68,260.41 L635.56,260.64 L636.43,260.87 L637.27,261.1 L638.09,261.3 L639.15,261.56 L640.49,261.87 L641.89,262.16 L643.3,262.44 L644.59,262.65 L645.71,262.82 L646.72,262.95 L647.66,263.07 L648.51,263.16 L649.28,263.25 L649.94,263.32 L650.5,263.4 L650.5,263.4" stroke="#fa7c7c" stroke-width="3.6"/>
<path d="M392,195.2 L392.4,195.56 L392.82,195.96 L393.28,196.4 L393.77,196.88 L394.3,197.39 L394.86,197.94 L395.45,198.52 L396.09,199.13 L396.75,199.76 L397.46,200.42 L398.2,201.1 L398.98,201.8 L399.84,202.54 L400.8,203.35 L401.84,204.19 L402.95,205.07 L404.07,205.96 L405.22,206.85 L406.39,207.74 L407.55,208.59 L408.67,209.4 L409.32,209.85 L409.99,210.31 L410.66,210.76 L411.36,211.22 L412.07,211.69 L412.81,212.16 L413.57,212.64 L414.37,213.14 L415.2,213.65 L416.06,214.17 L416.95,214.71 L417.88,215.26 L418.84,215.83 L419.81,216.41 L420.81,216.99 L421.83,217.58 L422.85,218.17 L423.89,218.77 L424.93,219.37 L425.96,219.96 L426.97,220.53 L427.98,221.11 L428.97,221.67 L429.93,222.21 L430.87,222.74 L431.78,223.26 L432.66,223.75 L433.5,224.23 L434.32,224.69 L435.11,225.14 L435.88,225.58 L436.63,226.01 L437.36,226.43 L438.09,226.84 L438.79,227.24 L439.49,227.64 L440.51,228.23 L441.83,228.99 L443.1,229.72 L444.29,230.41 L445.4,231.04 L446.42,231.62 L447.36,232.15 L448.22,232.63 L449.03,233.07 L449.79,233.48 L450.51,233.86 L451.2,234.22 L451.9,234.57 L452.59,234.91 L453.29,235.25 L454.02,235.58 L454.78,235.93 L455.59,236.28 L456.48,236.66 L457.44,237.04 L458.42,237.42 L459.4,237.78 L460.4,238.14 L461.41,238.49 L462.42,238.82 L463.42,239.14 L464.43,239.44 L465.42,239.73 L466.41,240.02 L467.4,240.29 L468.39,240.55 L469.36,240.8 L470.35,241.05 L471.32,241.29 L472.3,241.52 L473.31,241.76 L474.32,241.99 L475.33,242.22 L476.34,242.44 L477.35,242.66 L478.36,242.87 L479.37,243.07 L480.38,243.28 L481.38,243.48 L482.39,243.67 L483.39,243.86 L484.4,244.05 L485.4,244.24 L486.4,244.42 L487.41,244.6 L488.41,244.78 L489.42,244.96 L490.43,245.13 L491.44,245.3 L492.45,245.47 L493.46,245.64 L494.47,245.8 L495.48,245.96 L496.5,246.12 L497.51,246.27 L498.53,246.42 L499.54,246.56 L500.55,246.7 L501.56,246.83 L502.57,246.95 L503.57,247.07 L504.57,247.19 L505.57,247.29 L506.54,247.39 L507.51,247.48 L508.47,247.57 L509.43,247.65 L510.39,247.73 L511.36,247.8 L512.33,247.87 L513.32,247.94 L514.31,248.01 L515.33,248.07 L516.35,248.14 L517.4,248.2 L518.47,248.27 L519.55,248.33 L520.65,248.39 L521.57,248.45 L522.49,248.5 L523.4,248.55 L524.31,248.61 L525.23,248.66 L526.14,248.71 L527.07,248.77 L528.02,248.83 L528.98,248.89 L529.97,248.95 L530.98,249.02 L532.03,249.09 L533.1,249.17 L534.21,249.25 L535.34,249.34 L536.49,249.44 L537.66,249.54 L538.84,249.65 L540.04,249.76 L540.93,249.85 L541.84,249.95 L542.77,250.04 L543.73,250.15 L544.69,250.25 L545.68,250.36 L546.68,250.48 L547.71,250.6 L548.76,250.73 L549.84,250.87 L550.92,251.01 L552.02,251.15 L553.13,251.3 L554.23,251.46 L555.33,251.61 L556.42,251.78 L557.49,251.94 L558.53,252.11 L559.55,252.28 L560.55,252.46 L561.53,252.64 L562.48,252.82 L563.41,253.01 L564.32,253.21 L565.21,253.4 L566.07,253.6 L567.22,253.88 L568.34,254.17 L569.42,254.47 L570.48,254.77 L571.5,255.07 L572.5,255.37 L573.46,255.68 L574.39,255.99 L575.31,256.3 L576.2,256.62 L577.09,256.93 L577.95,257.25 L578.82,257.58 L579.69,257.92 L580.56,258.26 L581.45,258.61 L582.34,258.97 L583.25,259.34 L584.18,259.73 L585.1,260.12 L586.03,260.51 L586.96,260.91 L587.9,261.32 L588.84,261.73 L589.78,262.15 L590.72,262.57 L591.67,263 L592.61,263.42 L593.55,263.85 L594.5,264.28 L595.44,264.71 L596.38,265.14 L597.32,265.57 L598.25,265.99 L599.19,266.41 L600.12,266.83 L601.05,267.25 L601.98,267.66 L602.9,268.07 L603.83,268.47 L604.76,268.88 L605.7,269.28 L606.63,269.68 L607.57,270.08 L608.51,270.47 L609.44,270.86 L610.38,271.24 L611.31,271.62 L612.24,271.99 L613.16,272.36 L614.09,272.71 L615.01,273.06 L615.93,273.41 L616.85,273.74 L617.77,274.07 L618.7,274.39 L619.63,274.7 L620.56,275.01 L621.55,275.33 L622.57,275.64 L623.6,275.95 L624.64,276.26 L625.7,276.55 L626.75,276.84 L627.8,277.12 L628.83,277.39 L629.86,277.65 L630.86,277.89 L631.84,278.13 L632.81,278.35 L633.73,278.56 L634.63,278.76 L635.51,278.94 L636.38,279.14 L637.22,279.32 L638.05,279.49 L639.1,279.71 L640.46,279.97 L641.87,280.23 L643.29,280.48 L644.58,280.7 L645.71,280.87 L646.72,281.01 L647.66,281.13 L648.51,281.24 L649.28,281.34 L649.94,281.42 L650.5,281.5 L650.5,281.5" stroke="#fbb9bd" stroke-width="3.6"/>
</g>
<text x="449.9" y="26.9" font-size="9.3" font-weight="bold" textLength="188.3" lengthAdjust="spacingAndGlyphs">2 nm&#160; Au + P(EO-<tspan font-style="italic" font-weight="normal">b</tspan>-IPGE) mixture at 30 &#176;C</text>
<circle cx="493.3" cy="34.7" r="3.35" fill="#9c0000"/>
<text x="503.2" y="37.6" font-size="9" font-weight="bold" textLength="136.7" lengthAdjust="spacingAndGlyphs">P(113-45) 0.1% / P(16-21) 0.5%</text>
<circle cx="493.3" cy="45.6" r="3.35" fill="#cc0000"/>
<text x="503.2" y="48.5" font-size="9" font-weight="bold" textLength="136.7" lengthAdjust="spacingAndGlyphs">P(113-45) 0.1% / P(16-21) 0.4%</text>
<circle cx="493.3" cy="56.8" r="3.35" fill="#ff0000"/>
<text x="503.2" y="59.7" font-size="9" font-weight="bold" textLength="136.7" lengthAdjust="spacingAndGlyphs">P(113-45) 0.1% / P(16-21) 0.3%</text>
<circle cx="493.3" cy="68.3" r="3.35" fill="#ff3c3c"/>
<text x="503.2" y="71.2" font-size="9" font-weight="bold" textLength="136.7" lengthAdjust="spacingAndGlyphs">P(113-45) 0.1% / P(16-21) 0.2%</text>
<circle cx="493.3" cy="79.8" r="3.35" fill="#fa7c7c"/>
<text x="503.2" y="82.7" font-size="9" font-weight="bold" textLength="136.7" lengthAdjust="spacingAndGlyphs">P(113-45) 0.1% / P(16-21) 0.1%</text>
<circle cx="493.3" cy="90.7" r="3.35" fill="#fbb9bd"/>
<text x="503.2" y="93.6" font-size="9" font-weight="bold" textLength="136.7" lengthAdjust="spacingAndGlyphs">P(113-45) 0.1% / P(16-21) 0.0%</text>
<rect x="56.5" y="341" width="264.3" height="290.8" fill="none" stroke="#1a1a1a" stroke-width="1.4"/>
<line x1="56.5" y1="629.2" x2="62.5" y2="629.2" stroke="#1a1a1a" stroke-width="1.3"/>
<text x="51.6" y="634.5" font-size="9.2" font-weight="bold" text-anchor="end">10<tspan font-size="6.2" dy="-5.6" dx="0.8">-1</tspan></text>
<line x1="56.5" y1="614.51" x2="59.5" y2="614.51" stroke="#1a1a1a" stroke-width="1.3"/>
<line x1="56.5" y1="605.92" x2="59.5" y2="605.92" stroke="#1a1a1a" stroke-width="1.3"/>
<line x1="56.5" y1="599.82" x2="59.5" y2="599.82" stroke="#1a1a1a" stroke-width="1.3"/>
<line x1="56.5" y1="595.09" x2="59.5" y2="595.09" stroke="#1a1a1a" stroke-width="1.3"/>
<line x1="56.5" y1="591.23" x2="59.5" y2="591.23" stroke="#1a1a1a" stroke-width="1.3"/>
<line x1="56.5" y1="587.96" x2="59.5" y2="587.96" stroke="#1a1a1a" stroke-width="1.3"/>
<line x1="56.5" y1="585.13" x2="59.5" y2="585.13" stroke="#1a1a1a" stroke-width="1.3"/>
<line x1="56.5" y1="582.63" x2="59.5" y2="582.63" stroke="#1a1a1a" stroke-width="1.3"/>
<line x1="56.5" y1="580.4" x2="62.5" y2="580.4" stroke="#1a1a1a" stroke-width="1.3"/>
<text x="51.6" y="585.7" font-size="9.2" font-weight="bold" text-anchor="end">10<tspan font-size="6.2" dy="-5.6" dx="0.8">0</tspan></text>
<line x1="56.5" y1="565.71" x2="59.5" y2="565.71" stroke="#1a1a1a" stroke-width="1.3"/>
<line x1="56.5" y1="557.12" x2="59.5" y2="557.12" stroke="#1a1a1a" stroke-width="1.3"/>
<line x1="56.5" y1="551.02" x2="59.5" y2="551.02" stroke="#1a1a1a" stroke-width="1.3"/>
<line x1="56.5" y1="546.29" x2="59.5" y2="546.29" stroke="#1a1a1a" stroke-width="1.3"/>
<line x1="56.5" y1="542.43" x2="59.5" y2="542.43" stroke="#1a1a1a" stroke-width="1.3"/>
<line x1="56.5" y1="539.16" x2="59.5" y2="539.16" stroke="#1a1a1a" stroke-width="1.3"/>
<line x1="56.5" y1="536.33" x2="59.5" y2="536.33" stroke="#1a1a1a" stroke-width="1.3"/>
<line x1="56.5" y1="533.83" x2="59.5" y2="533.83" stroke="#1a1a1a" stroke-width="1.3"/>
<line x1="56.5" y1="531.6" x2="62.5" y2="531.6" stroke="#1a1a1a" stroke-width="1.3"/>
<text x="51.6" y="536.9" font-size="9.2" font-weight="bold" text-anchor="end">10<tspan font-size="6.2" dy="-5.6" dx="0.8">1</tspan></text>
<line x1="56.5" y1="516.91" x2="59.5" y2="516.91" stroke="#1a1a1a" stroke-width="1.3"/>
<line x1="56.5" y1="508.32" x2="59.5" y2="508.32" stroke="#1a1a1a" stroke-width="1.3"/>
<line x1="56.5" y1="502.22" x2="59.5" y2="502.22" stroke="#1a1a1a" stroke-width="1.3"/>
<line x1="56.5" y1="497.49" x2="59.5" y2="497.49" stroke="#1a1a1a" stroke-width="1.3"/>
<line x1="56.5" y1="493.63" x2="59.5" y2="493.63" stroke="#1a1a1a" stroke-width="1.3"/>
<line x1="56.5" y1="490.36" x2="59.5" y2="490.36" stroke="#1a1a1a" stroke-width="1.3"/>
<line x1="56.5" y1="487.53" x2="59.5" y2="487.53" stroke="#1a1a1a" stroke-width="1.3"/>
<line x1="56.5" y1="485.03" x2="59.5" y2="485.03" stroke="#1a1a1a" stroke-width="1.3"/>
<line x1="56.5" y1="482.8" x2="62.5" y2="482.8" stroke="#1a1a1a" stroke-width="1.3"/>
<text x="51.6" y="488.1" font-size="9.2" font-weight="bold" text-anchor="end">10<tspan font-size="6.2" dy="-5.6" dx="0.8">2</tspan></text>
<line x1="56.5" y1="468.11" x2="59.5" y2="468.11" stroke="#1a1a1a" stroke-width="1.3"/>
<line x1="56.5" y1="459.52" x2="59.5" y2="459.52" stroke="#1a1a1a" stroke-width="1.3"/>
<line x1="56.5" y1="453.42" x2="59.5" y2="453.42" stroke="#1a1a1a" stroke-width="1.3"/>
<line x1="56.5" y1="448.69" x2="59.5" y2="448.69" stroke="#1a1a1a" stroke-width="1.3"/>
<line x1="56.5" y1="444.83" x2="59.5" y2="444.83" stroke="#1a1a1a" stroke-width="1.3"/>
<line x1="56.5" y1="441.56" x2="59.5" y2="441.56" stroke="#1a1a1a" stroke-width="1.3"/>
<line x1="56.5" y1="438.73" x2="59.5" y2="438.73" stroke="#1a1a1a" stroke-width="1.3"/>
<line x1="56.5" y1="436.23" x2="59.5" y2="436.23" stroke="#1a1a1a" stroke-width="1.3"/>
<line x1="56.5" y1="434" x2="62.5" y2="434" stroke="#1a1a1a" stroke-width="1.3"/>
<text x="51.6" y="439.3" font-size="9.2" font-weight="bold" text-anchor="end">10<tspan font-size="6.2" dy="-5.6" dx="0.8">3</tspan></text>
<line x1="56.5" y1="419.31" x2="59.5" y2="419.31" stroke="#1a1a1a" stroke-width="1.3"/>
<line x1="56.5" y1="410.72" x2="59.5" y2="410.72" stroke="#1a1a1a" stroke-width="1.3"/>
<line x1="56.5" y1="404.62" x2="59.5" y2="404.62" stroke="#1a1a1a" stroke-width="1.3"/>
<line x1="56.5" y1="399.89" x2="59.5" y2="399.89" stroke="#1a1a1a" stroke-width="1.3"/>
<line x1="56.5" y1="396.03" x2="59.5" y2="396.03" stroke="#1a1a1a" stroke-width="1.3"/>
<line x1="56.5" y1="392.76" x2="59.5" y2="392.76" stroke="#1a1a1a" stroke-width="1.3"/>
<line x1="56.5" y1="389.93" x2="59.5" y2="389.93" stroke="#1a1a1a" stroke-width="1.3"/>
<line x1="56.5" y1="387.43" x2="59.5" y2="387.43" stroke="#1a1a1a" stroke-width="1.3"/>
<line x1="56.5" y1="385.2" x2="62.5" y2="385.2" stroke="#1a1a1a" stroke-width="1.3"/>
<text x="51.6" y="390.5" font-size="9.2" font-weight="bold" text-anchor="end">10<tspan font-size="6.2" dy="-5.6" dx="0.8">4</tspan></text>
<line x1="56.5" y1="370.51" x2="59.5" y2="370.51" stroke="#1a1a1a" stroke-width="1.3"/>
<line x1="56.5" y1="361.92" x2="59.5" y2="361.92" stroke="#1a1a1a" stroke-width="1.3"/>
<line x1="56.5" y1="355.82" x2="59.5" y2="355.82" stroke="#1a1a1a" stroke-width="1.3"/>
<line x1="56.5" y1="351.09" x2="59.5" y2="351.09" stroke="#1a1a1a" stroke-width="1.3"/>
<line x1="56.5" y1="347.23" x2="59.5" y2="347.23" stroke="#1a1a1a" stroke-width="1.3"/>
<line x1="56.5" y1="343.96" x2="59.5" y2="343.96" stroke="#1a1a1a" stroke-width="1.3"/>
<line x1="88.38" y1="631.8" x2="88.38" y2="628.8" stroke="#1a1a1a" stroke-width="1.3"/>
<text x="88.38" y="639.8" font-size="6.2" font-weight="bold" text-anchor="middle" fill="#000" >2</text>
<line x1="122.29" y1="631.8" x2="122.29" y2="628.8" stroke="#1a1a1a" stroke-width="1.3"/>
<text x="122.29" y="639.8" font-size="6.2" font-weight="bold" text-anchor="middle" fill="#000" >3</text>
<line x1="146.36" y1="631.8" x2="146.36" y2="628.8" stroke="#1a1a1a" stroke-width="1.3"/>
<text x="146.36" y="639.8" font-size="6.2" font-weight="bold" text-anchor="middle" fill="#000" >4</text>
<line x1="165.02" y1="631.8" x2="165.02" y2="628.8" stroke="#1a1a1a" stroke-width="1.3"/>
<text x="165.02" y="639.8" font-size="6.2" font-weight="bold" text-anchor="middle" fill="#000" >5</text>
<line x1="180.27" y1="631.8" x2="180.27" y2="628.8" stroke="#1a1a1a" stroke-width="1.3"/>
<text x="180.27" y="639.8" font-size="6.2" font-weight="bold" text-anchor="middle" fill="#000" >6</text>
<line x1="193.17" y1="631.8" x2="193.17" y2="628.8" stroke="#1a1a1a" stroke-width="1.3"/>
<text x="193.17" y="639.8" font-size="6.2" font-weight="bold" text-anchor="middle" fill="#000" >7</text>
<line x1="204.34" y1="631.8" x2="204.34" y2="628.8" stroke="#1a1a1a" stroke-width="1.3"/>
<text x="204.34" y="639.8" font-size="6.2" font-weight="bold" text-anchor="middle" fill="#000" >8</text>
<line x1="214.19" y1="631.8" x2="214.19" y2="628.8" stroke="#1a1a1a" stroke-width="1.3"/>
<text x="214.19" y="639.8" font-size="6.2" font-weight="bold" text-anchor="middle" fill="#000" >9</text>
<line x1="223" y1="631.8" x2="223" y2="625.8" stroke="#1a1a1a" stroke-width="1.3"/>
<text x="223" y="647.8" font-size="8.2" font-weight="bold" text-anchor="middle" fill="#000" >0.1</text>
<line x1="280.98" y1="631.8" x2="280.98" y2="628.8" stroke="#1a1a1a" stroke-width="1.3"/>
<text x="280.98" y="639.8" font-size="6.2" font-weight="bold" text-anchor="middle" fill="#000" >2</text>
<line x1="314.89" y1="631.8" x2="314.89" y2="628.8" stroke="#1a1a1a" stroke-width="1.3"/>
<text x="314.89" y="639.8" font-size="6.2" font-weight="bold" text-anchor="middle" fill="#000" >3</text>
<text x="16.1" y="486.2" font-size="9" font-weight="bold" text-anchor="middle" transform="rotate(-90 16.1 486.2)">I(q)</text>
<text x="188.4" y="666.3" font-size="8.2" font-weight="bold" text-anchor="middle">q (&#197;<tspan font-size="5.8" dy="-4.2">-1</tspan><tspan dy="4.2">)</tspan></text>
<text x="0.5" y="351.2" font-size="17.5" font-weight="normal" text-anchor="start" fill="#000" >(c)</text>
<g fill="none" stroke-linecap="round" stroke-linejoin="round">
<path d="M60,388.1 L60.43,388.44 L60.93,388.82 L61.49,389.26 L62.11,389.74 L62.78,390.26 L63.52,390.83 L64.29,391.44 L65.15,392.1 L66.09,392.83 L67.07,393.59 L68.09,394.39 L69.15,395.21 L70.24,396.05 L71.31,396.89 L72.31,397.66 L72.96,398.16 L73.6,398.66 L74.26,399.17 L74.95,399.71 L75.68,400.27 L76.45,400.87 L77.26,401.49 L78.09,402.13 L78.92,402.78 L79.78,403.44 L80.63,404.1 L81.48,404.76 L82.34,405.42 L83.19,406.09 L84.04,406.75 L84.89,407.4 L85.72,408.05 L86.54,408.69 L87.33,409.31 L88.1,409.91 L88.85,410.5 L89.59,411.08 L90.38,411.71 L91.25,412.4 L92.12,413.09 L92.97,413.78 L93.81,414.45 L94.63,415.11 L95.43,415.75 L96.22,416.4 L97,417.03 L97.78,417.66 L98.56,418.29 L99.33,418.92 L100.1,419.54 L100.88,420.17 L101.65,420.79 L102.43,421.41 L103.21,422.03 L104,422.65 L104.79,423.27 L105.59,423.9 L106.4,424.53 L107.2,425.16 L108.01,425.79 L108.82,426.42 L109.63,427.05 L110.44,427.68 L111.25,428.3 L112.06,428.93 L112.87,429.54 L113.68,430.16 L114.49,430.77 L115.3,431.37 L116.1,431.97 L116.9,432.55 L117.7,433.12 L118.49,433.69 L119.28,434.23 L120.07,434.78 L120.91,435.35 L121.79,435.93 L122.68,436.51 L123.56,437.08 L124.44,437.64 L125.31,438.18 L126.18,438.72 L127.04,439.24 L127.91,439.76 L128.78,440.27 L129.64,440.78 L130.5,441.28 L131.37,441.77 L132.23,442.26 L133.09,442.75 L133.95,443.23 L134.81,443.7 L135.68,444.18 L136.58,444.67 L137.49,445.15 L138.4,445.64 L139.31,446.11 L140.21,446.58 L141.11,447.05 L142.01,447.5 L142.92,447.96 L143.82,448.41 L144.73,448.85 L145.63,449.28 L146.53,449.72 L147.42,450.14 L148.32,450.56 L149.21,450.97 L150.12,451.39 L151.03,451.8 L151.98,452.23 L152.9,452.63 L153.79,453.02 L154.65,453.4 L155.49,453.76 L156.32,454.11 L157.15,454.45 L158,454.8 L158.85,455.14 L159.74,455.5 L160.68,455.86 L161.68,456.24 L162.76,456.64 L163.94,457.08 L165.16,457.52 L166.39,457.95 L167.18,458.22 L167.97,458.49 L168.76,458.76 L169.59,459.03 L170.46,459.32 L171.37,459.61 L172.32,459.91 L173.3,460.22 L174.29,460.54 L175.29,460.85 L176.32,461.17 L177.34,461.49 L178.38,461.81 L179.42,462.13 L180.46,462.46 L181.5,462.78 L182.54,463.11 L183.58,463.43 L184.61,463.76 L185.62,464.08 L186.62,464.4 L187.6,464.72 L188.56,465.03 L189.5,465.35 L190.45,465.66 L191.44,466 L192.45,466.34 L193.47,466.69 L194.51,467.05 L195.54,467.41 L196.58,467.78 L197.63,468.15 L198.67,468.52 L199.7,468.88 L200.73,469.25 L201.75,469.62 L202.76,469.98 L203.77,470.34 L204.76,470.7 L205.73,471.05 L206.69,471.39 L207.61,471.72 L208.5,472.04 L209.34,472.34 L210.14,472.63 L210.91,472.9 L211.67,473.16 L212.43,473.42 L213.75,473.86 L215.02,474.28 L216.15,474.63 L217.11,474.91 L217.97,475.16 L218.8,475.4 L219.59,475.64 L220.38,475.88 L221.19,476.14 L222.02,476.42 L222.89,476.75 L223.84,477.13 L224.93,477.61 L226.1,478.17 L226.83,478.53 L227.54,478.9 L228.31,479.3 L229.12,479.74 L229.96,480.21 L230.8,480.7 L231.66,481.19 L232.52,481.7 L233.4,482.23 L234.29,482.77 L235.18,483.31 L236.08,483.87 L236.98,484.43 L237.88,485 L238.78,485.57 L239.68,486.15 L240.58,486.72 L241.47,487.3 L242.37,487.88 L243.25,488.45 L244.11,489.01 L244.93,489.55 L245.76,490.1 L246.63,490.67 L247.51,491.27 L248.4,491.87 L249.3,492.48 L250.19,493.09 L251.09,493.71 L251.99,494.34 L252.88,494.96 L253.77,495.58 L254.65,496.2 L255.52,496.82 L256.37,497.42 L257.21,498.02 L258.02,498.6 L258.82,499.17 L259.59,499.73 L260.31,500.25 L260.97,500.73 L261.55,501.15 L262.12,501.58 L263.35,502.5 L264.48,503.38 L265.4,504.13 L266.21,504.81 L266.96,505.46 L267.65,506.05 L268.31,506.62 L268.95,507.15 L269.59,507.67 L270.26,508.17 L270.97,508.69 L271.82,509.28 L272.69,509.89 L273.47,510.43 L274.22,510.94 L274.95,511.41 L275.71,511.85 L276.52,512.26 L277.43,512.65 L278.53,513.02 L279.88,513.36 L280.94,513.56 L281.65,513.66 L282.42,513.74 L283.28,513.81 L284.21,513.86 L285.19,513.9 L286.18,513.92 L287.21,513.93 L288.26,513.92 L289.34,513.92 L290.42,513.9 L291.51,513.89 L292.61,513.88 L293.72,513.86 L294.82,513.86 L295.92,513.86 L297.01,513.87 L298.09,513.89 L299.09,513.92 L300.1,513.96 L301.17,514 L302.3,514.04 L303.46,514.09 L304.64,514.14 L305.84,514.2 L307.04,514.25 L308.24,514.31 L309.42,514.36 L310.58,514.42 L311.72,514.47 L312.82,514.53 L313.88,514.58 L314.89,514.63 L315.81,514.67 L316.6,514.71 L317.32,514.74 L317.95,514.77 L318.5,514.8 L318.5,514.8" stroke="#9c0000" stroke-width="3.6"/>
<path d="M60,444.5 L60.47,444.79 L61.02,445.13 L61.64,445.52 L62.34,445.96 L63.11,446.44 L63.94,446.96 L64.84,447.52 L65.82,448.12 L66.89,448.76 L67.97,449.41 L69.08,450.07 L70.19,450.71 L71.26,451.32 L72.27,451.89 L73.02,452.31 L73.79,452.74 L74.58,453.18 L75.4,453.63 L76.26,454.11 L77.16,454.61 L78.07,455.11 L79.01,455.62 L79.96,456.12 L80.91,456.61 L81.86,457.09 L82.81,457.55 L83.76,457.98 L84.7,458.39 L85.62,458.76 L86.52,459.11 L87.41,459.42 L88.3,459.7 L89.3,459.98 L90.32,460.24 L91.34,460.46 L92.35,460.65 L93.36,460.81 L94.37,460.95 L95.37,461.06 L96.37,461.16 L97.37,461.23 L98.37,461.29 L99.38,461.34 L100.38,461.38 L101.38,461.42 L102.38,461.44 L103.38,461.46 L104.38,461.46 L105.39,461.46 L106.41,461.44 L107.43,461.41 L108.47,461.36 L109.51,461.3 L110.55,461.23 L111.6,461.15 L112.65,461.06 L113.68,460.98 L114.71,460.9 L115.71,460.82 L116.69,460.76 L117.65,460.71 L118.59,460.67 L119.51,460.65 L120.43,460.63 L121.53,460.62 L122.63,460.63 L123.73,460.64 L124.79,460.66 L125.83,460.69 L126.84,460.75 L127.82,460.82 L128.79,460.92 L129.74,461.05 L130.68,461.21 L131.6,461.42 L132.51,461.68 L133.42,461.99 L134.3,462.35 L135.17,462.76 L136.05,463.24 L136.93,463.79 L137.83,464.41 L138.72,465.07 L139.6,465.77 L140.48,466.48 L141.33,467.19 L142.18,467.88 L142.99,468.53 L143.78,469.12 L144.55,469.68 L145.32,470.2 L146.21,470.76 L147.16,471.32 L148.01,471.79 L148.78,472.19 L149.52,472.54 L150.28,472.87 L151.11,473.19 L152.08,473.54 L153.25,473.9 L154.62,474.28 L155.72,474.56 L156.51,474.74 L157.33,474.91 L158.19,475.07 L159.12,475.24 L160.12,475.4 L161.19,475.57 L162.3,475.74 L163.45,475.91 L164.6,476.07 L165.77,476.23 L166.91,476.39 L168.05,476.54 L169.15,476.69 L170.21,476.83 L171.2,476.96 L172.15,477.09 L173.06,477.22 L173.94,477.33 L175.05,477.48 L176.25,477.63 L177.23,477.75 L178.04,477.84 L178.73,477.93 L179.38,478.01 L180.05,478.1 L180.8,478.21 L181.73,478.38 L182.94,478.62 L184.51,478.97 L186.24,479.41 L186.95,479.6 L187.66,479.8 L188.38,480 L189.15,480.23 L189.98,480.48 L190.89,480.76 L191.87,481.07 L192.89,481.39 L193.96,481.73 L195.04,482.08 L196.13,482.43 L197.24,482.79 L198.35,483.15 L199.46,483.52 L200.58,483.88 L201.69,484.25 L202.8,484.62 L203.89,484.99 L204.97,485.35 L206.03,485.7 L207.05,486.04 L208.02,486.37 L208.93,486.67 L209.78,486.96 L210.56,487.22 L211.3,487.46 L212.02,487.7 L213.11,488.05 L214.58,488.51 L215.9,488.92 L216.97,489.23 L217.88,489.5 L218.71,489.74 L219.49,489.97 L220.23,490.19 L220.97,490.44 L221.73,490.7 L222.52,491 L223.39,491.36 L224.37,491.81 L225.52,492.37 L226.46,492.85 L227.16,493.23 L227.88,493.62 L228.65,494.06 L229.44,494.51 L230.27,495 L231.1,495.49 L231.94,496 L232.79,496.53 L233.65,497.07 L234.51,497.62 L235.38,498.19 L236.27,498.77 L237.14,499.36 L238.02,499.96 L238.9,500.58 L239.78,501.2 L240.66,501.82 L241.53,502.46 L242.4,503.11 L243.28,503.77 L244.13,504.43 L244.87,505.02 L245.62,505.62 L246.4,506.27 L247.21,506.94 L248.03,507.64 L248.84,508.35 L249.67,509.07 L250.49,509.8 L251.31,510.54 L252.14,511.28 L252.95,512.03 L253.77,512.78 L254.57,513.53 L255.37,514.27 L256.15,515.01 L256.92,515.73 L257.68,516.44 L258.42,517.14 L259.13,517.82 L259.83,518.48 L260.49,519.1 L261.08,519.66 L261.62,520.16 L262.14,520.65 L263.26,521.72 L264.31,522.75 L265.18,523.63 L265.95,524.44 L266.65,525.18 L267.32,525.89 L267.94,526.55 L268.55,527.17 L269.14,527.77 L269.73,528.33 L270.33,528.88 L270.97,529.42 L271.79,530.07 L272.74,530.79 L273.68,531.46 L274.58,532.06 L275.49,532.62 L276.39,533.13 L277.29,533.61 L278.18,534.03 L279.07,534.4 L279.98,534.72 L280.95,535 L281.87,535.21 L282.7,535.34 L283.49,535.41 L284.29,535.44 L285.18,535.44 L286.18,535.42 L287.38,535.37 L288.91,535.32 L290.04,535.28 L290.77,535.26 L291.58,535.22 L292.51,535.18 L293.53,535.12 L294.59,535.06 L295.68,535 L296.8,534.93 L297.92,534.86 L299.06,534.78 L300.19,534.71 L301.31,534.65 L302.43,534.59 L303.51,534.53 L304.55,534.48 L305.53,534.45 L306.38,534.43 L307.14,534.41 L308.21,534.42 L309.7,534.46 L311.07,534.52 L312.31,534.62 L313.5,534.73 L314.62,534.84 L315.65,534.96 L316.51,535.07 L317.28,535.16 L317.94,535.24 L318.5,535.3 L318.5,535.3" stroke="#cc0000" stroke-width="3.6"/>
<path d="M60,453.2 L60.55,453.47 L61.27,453.81 L62.13,454.23 L63.12,454.71 L64.22,455.25 L65.39,455.82 L66.54,456.39 L67.61,456.92 L68.56,457.39 L69.48,457.85 L70.39,458.31 L71.31,458.78 L72.25,459.25 L73.19,459.74 L74.14,460.23 L75.09,460.73 L76.03,461.23 L76.92,461.7 L77.8,462.18 L78.67,462.66 L79.56,463.14 L80.44,463.63 L81.33,464.12 L82.22,464.61 L83.11,465.11 L84,465.6 L84.89,466.1 L85.77,466.59 L86.66,467.09 L87.55,467.59 L88.44,468.09 L89.33,468.59 L90.22,469.09 L91.11,469.6 L92,470.1 L92.88,470.61 L93.77,471.11 L94.66,471.62 L95.55,472.13 L96.44,472.64 L97.33,473.16 L98.22,473.67 L99.11,474.19 L99.99,474.7 L100.88,475.22 L101.77,475.74 L102.66,476.26 L103.55,476.79 L104.45,477.31 L105.34,477.84 L106.23,478.36 L107.12,478.88 L108.01,479.4 L108.9,479.91 L109.78,480.43 L110.67,480.94 L111.56,481.45 L112.45,481.96 L113.33,482.47 L114.22,482.98 L115.11,483.49 L116,484 L116.89,484.51 L117.78,485.02 L118.67,485.54 L119.56,486.05 L120.45,486.56 L121.34,487.07 L122.23,487.58 L123.11,488.09 L124,488.6 L124.89,489.11 L125.78,489.61 L126.67,490.12 L127.56,490.62 L128.45,491.12 L129.35,491.62 L130.24,492.12 L131.13,492.61 L132.02,493.09 L132.9,493.57 L133.79,494.05 L134.68,494.52 L135.56,494.99 L136.44,495.45 L137.32,495.91 L138.19,496.36 L139.07,496.82 L139.96,497.28 L140.9,497.77 L141.85,498.26 L142.81,498.75 L143.76,499.25 L144.71,499.73 L145.66,500.21 L146.6,500.69 L147.54,501.16 L148.48,501.63 L149.42,502.09 L150.37,502.55 L151.31,503 L152.25,503.45 L153.19,503.89 L154.13,504.33 L155.08,504.76 L156.02,505.19 L156.96,505.61 L157.9,506.03 L158.84,506.44 L159.78,506.84 L160.72,507.24 L161.66,507.63 L162.6,508.02 L163.54,508.4 L164.49,508.78 L165.43,509.15 L166.37,509.51 L167.3,509.87 L168.24,510.22 L169.17,510.57 L170.1,510.91 L171.03,511.24 L171.96,511.57 L172.97,511.92 L173.98,512.27 L174.99,512.61 L176,512.94 L177.01,513.26 L178.02,513.58 L179.02,513.88 L180.02,514.18 L181.02,514.47 L182.02,514.75 L183.02,515.03 L184.01,515.29 L185.01,515.55 L186.01,515.8 L187.01,516.05 L188.01,516.28 L189.01,516.51 L190.01,516.73 L191.01,516.95 L192.02,517.15 L193.02,517.35 L194.02,517.53 L195.02,517.71 L196.02,517.88 L197.01,518.03 L198,518.17 L198.99,518.31 L199.98,518.42 L200.98,518.53 L202,518.62 L203.04,518.69 L204.07,518.74 L204.99,518.77 L205.88,518.79 L206.74,518.78 L207.62,518.77 L208.55,518.74 L209.57,518.69 L210.72,518.62 L211.98,518.54 L213.06,518.46 L213.96,518.39 L214.93,518.31 L215.99,518.21 L217.14,518.11 L218.33,518 L219.51,517.89 L220.68,517.76 L221.84,517.63 L222.93,517.49 L223.92,517.35 L224.74,517.22 L225.46,517.08 L226.66,516.76 L228.14,516.21 L229.08,515.74 L229.8,515.32 L230.5,514.91 L231.33,514.46 L232.34,513.95 L233.42,513.44 L234.48,513.01 L235.54,512.75 L236.56,512.71 L237.37,512.83 L237.95,513 L238.48,513.24 L239.03,513.57 L239.71,514.09 L240.61,514.99 L241.87,516.55 L242.64,517.62 L242.97,518.1 L243.34,518.66 L243.77,519.34 L244.26,520.13 L244.77,520.97 L245.3,521.86 L245.84,522.78 L246.39,523.73 L246.95,524.7 L247.51,525.68 L248.08,526.67 L248.65,527.66 L249.22,528.65 L249.79,529.63 L250.35,530.6 L250.91,531.55 L251.45,532.47 L251.98,533.34 L252.47,534.13 L252.93,534.86 L253.48,535.72 L254.14,536.76 L254.78,537.74 L255.39,538.67 L255.99,539.57 L256.58,540.46 L257.17,541.32 L257.74,542.16 L258.31,542.96 L258.88,543.75 L259.45,544.52 L260.02,545.26 L260.59,545.98 L261.14,546.65 L261.68,547.28 L262.23,547.9 L263.06,548.78 L263.91,549.64 L264.71,550.41 L265.51,551.13 L266.3,551.8 L267.1,552.44 L267.89,553.02 L268.68,553.57 L269.46,554.08 L270.22,554.53 L270.96,554.94 L271.86,555.37 L272.91,555.79 L273.94,556.13 L274.93,556.38 L275.92,556.57 L276.9,556.72 L277.9,556.85 L278.91,556.95 L279.93,557.05 L280.96,557.15 L281.87,557.22 L282.69,557.27 L283.49,557.3 L284.29,557.32 L285.17,557.31 L286.17,557.28 L287.38,557.23 L288.91,557.13 L290.04,557.05 L290.77,556.99 L291.57,556.91 L292.5,556.81 L293.53,556.69 L294.59,556.57 L295.68,556.44 L296.8,556.3 L297.92,556.16 L299.06,556.02 L300.19,555.88 L301.31,555.75 L302.43,555.63 L303.51,555.52 L304.55,555.42 L305.53,555.34 L306.38,555.28 L307.14,555.24 L308.21,555.21 L309.7,555.22 L311.07,555.28 L312.31,555.38 L313.5,555.5 L314.61,555.64 L315.65,555.79 L316.51,555.92 L317.28,556.04 L317.94,556.13 L318.5,556.2 L318.5,556.2" stroke="#ff0000" stroke-width="3.6"/>
<path d="M60,476.9 L60.48,477.26 L61.1,477.71 L61.85,478.26 L62.69,478.88 L63.63,479.57 L64.66,480.33 L65.73,481.12 L66.76,481.89 L67.7,482.58 L68.52,483.19 L69.29,483.76 L70.06,484.34 L70.83,484.92 L71.61,485.5 L72.4,486.1 L73.2,486.7 L73.99,487.29 L74.8,487.9 L75.6,488.5 L76.4,489.1 L77.2,489.7 L78.01,490.31 L78.8,490.9 L79.6,491.5 L80.4,492.1 L81.19,492.7 L81.98,493.29 L82.77,493.88 L83.57,494.48 L84.39,495.09 L85.24,495.72 L86.09,496.35 L86.94,496.98 L87.79,497.6 L88.63,498.23 L89.48,498.85 L90.32,499.47 L91.16,500.08 L92,500.7 L92.85,501.32 L93.69,501.93 L94.53,502.54 L95.37,503.15 L96.21,503.76 L97.06,504.37 L97.9,504.98 L98.74,505.59 L99.58,506.2 L100.42,506.8 L101.27,507.41 L102.11,508.01 L102.95,508.62 L103.8,509.22 L104.64,509.82 L105.48,510.42 L106.32,511.01 L107.17,511.61 L108.01,512.2 L108.85,512.79 L109.69,513.37 L110.53,513.96 L111.38,514.54 L112.22,515.12 L113.06,515.7 L113.9,516.27 L114.75,516.84 L115.59,517.41 L116.43,517.98 L117.27,518.55 L118.11,519.11 L118.95,519.67 L119.79,520.23 L120.63,520.79 L121.46,521.33 L122.3,521.88 L123.13,522.43 L123.97,522.97 L124.86,523.55 L125.76,524.13 L126.66,524.71 L127.56,525.29 L128.45,525.86 L129.34,526.43 L130.24,526.99 L131.12,527.54 L132.01,528.1 L132.9,528.65 L133.79,529.19 L134.68,529.73 L135.57,530.27 L136.46,530.81 L137.35,531.34 L138.24,531.86 L139.13,532.38 L140.02,532.89 L140.91,533.4 L141.8,533.91 L142.68,534.4 L143.57,534.89 L144.45,535.38 L145.33,535.86 L146.2,536.33 L147.08,536.8 L147.96,537.27 L148.91,537.77 L149.86,538.28 L150.82,538.77 L151.77,539.27 L152.72,539.75 L153.67,540.23 L154.61,540.7 L155.55,541.16 L156.49,541.61 L157.43,542.06 L158.37,542.5 L159.31,542.93 L160.25,543.35 L161.19,543.77 L162.13,544.18 L163.07,544.59 L164.01,544.99 L164.96,545.39 L165.9,545.78 L166.84,546.17 L167.77,546.55 L168.71,546.92 L169.64,547.28 L170.57,547.64 L171.5,547.99 L172.47,548.35 L173.48,548.71 L174.49,549.07 L175.5,549.42 L176.51,549.76 L177.52,550.09 L178.52,550.42 L179.52,550.73 L180.52,551.04 L181.52,551.34 L182.52,551.63 L183.52,551.91 L184.52,552.19 L185.52,552.45 L186.52,552.71 L187.52,552.95 L188.52,553.18 L189.52,553.4 L190.52,553.61 L191.52,553.81 L192.51,553.99 L193.51,554.17 L194.52,554.34 L195.52,554.51 L196.51,554.66 L197.5,554.81 L198.49,554.95 L199.48,555.08 L200.48,555.21 L201.49,555.33 L202.52,555.44 L203.55,555.55 L204.53,555.64 L205.44,555.72 L206.32,555.79 L207.19,555.85 L208.09,555.9 L209.07,555.93 L210.16,555.94 L211.37,555.92 L212.66,555.85 L213.51,555.79 L214.37,555.72 L215.31,555.62 L216.33,555.51 L217.42,555.38 L218.54,555.23 L219.67,555.06 L220.76,554.88 L221.85,554.68 L222.89,554.46 L223.87,554.23 L224.74,553.98 L225.52,553.73 L226.46,553.35 L227.56,552.81 L228.51,552.23 L229.33,551.64 L230.09,551.01 L230.81,550.37 L231.51,549.71 L232.19,549.05 L232.88,548.38 L233.6,547.66 L234.4,546.78 L235.2,545.79 L235.99,544.76 L236.78,543.76 L237.57,542.9 L238.35,542.29 L239.05,541.96 L239.66,541.86 L240.22,541.92 L240.84,542.14 L241.52,542.55 L242.25,543.18 L243,543.97 L243.74,544.88 L244.5,545.89 L245.31,547.03 L246.08,548.15 L246.5,548.78 L246.92,549.46 L247.37,550.22 L247.84,551.06 L248.32,551.95 L248.81,552.87 L249.3,553.81 L249.8,554.77 L250.3,555.73 L250.81,556.68 L251.33,557.63 L251.86,558.55 L252.4,559.44 L252.94,560.28 L253.49,561.1 L254.09,561.95 L254.71,562.82 L255.35,563.67 L255.99,564.53 L256.65,565.37 L257.31,566.2 L257.99,567.02 L258.66,567.81 L259.34,568.58 L260.01,569.32 L260.68,570.02 L261.32,570.65 L261.93,571.24 L262.69,571.91 L263.61,572.66 L264.51,573.34 L265.38,573.94 L266.25,574.48 L267.11,574.98 L267.97,575.44 L268.83,575.87 L269.68,576.26 L270.53,576.63 L271.41,576.99 L272.4,577.36 L273.29,577.67 L274.09,577.91 L274.88,578.12 L275.69,578.29 L276.59,578.44 L277.66,578.58 L279.04,578.7 L280.61,578.8 L281.32,578.83 L282.03,578.85 L282.84,578.86 L283.73,578.86 L284.69,578.86 L285.68,578.84 L286.69,578.82 L287.73,578.79 L288.79,578.76 L289.88,578.73 L290.96,578.69 L292.06,578.66 L293.16,578.62 L294.27,578.59 L295.37,578.56 L296.47,578.53 L297.56,578.52 L298.61,578.5 L299.59,578.49 L300.63,578.49 L301.73,578.48 L302.88,578.48 L304.05,578.48 L305.24,578.48 L306.44,578.48 L307.64,578.48 L308.83,578.48 L310,578.48 L311.15,578.48 L312.27,578.49 L313.35,578.49 L314.38,578.49 L315.36,578.49 L316.21,578.5 L316.97,578.5 L317.65,578.5 L318.24,578.5 L318.5,578.5" stroke="#ff3c3c" stroke-width="3.6"/>
<path d="M60,498.2 L60.45,498.55 L61.04,498.99 L61.73,499.52 L62.51,500.12 L63.39,500.79 L64.34,501.52 L65.33,502.27 L66.32,503.02 L67.24,503.72 L68.07,504.34 L68.89,504.96 L69.72,505.58 L70.55,506.2 L71.38,506.81 L72.22,507.43 L73.06,508.05 L73.9,508.67 L74.75,509.28 L75.59,509.89 L76.43,510.5 L77.27,511.11 L78.11,511.72 L78.95,512.32 L79.8,512.92 L80.64,513.52 L81.48,514.11 L82.32,514.71 L83.16,515.31 L84,515.9 L84.84,516.5 L85.69,517.09 L86.53,517.69 L87.37,518.28 L88.22,518.87 L89.06,519.46 L89.91,520.05 L90.75,520.63 L91.59,521.21 L92.44,521.78 L93.28,522.35 L94.12,522.92 L94.96,523.48 L95.8,524.04 L96.63,524.59 L97.46,525.14 L98.29,525.68 L99.13,526.23 L99.97,526.77 L100.86,527.35 L101.76,527.93 L102.66,528.51 L103.56,529.09 L104.45,529.66 L105.35,530.23 L106.24,530.79 L107.13,531.34 L108.01,531.9 L108.9,532.44 L109.79,532.99 L110.68,533.53 L111.57,534.06 L112.45,534.59 L113.34,535.12 L114.23,535.65 L115.12,536.18 L116.01,536.7 L116.89,537.22 L117.78,537.74 L118.68,538.26 L119.57,538.78 L120.46,539.29 L121.35,539.8 L122.24,540.3 L123.13,540.8 L124.02,541.29 L124.91,541.78 L125.8,542.26 L126.68,542.73 L127.57,543.2 L128.45,543.67 L129.33,544.12 L130.2,544.57 L131.08,545.02 L131.97,545.47 L132.91,545.95 L133.86,546.42 L134.82,546.9 L135.77,547.36 L136.71,547.82 L137.66,548.28 L138.6,548.73 L139.54,549.17 L140.48,549.62 L141.42,550.06 L142.37,550.49 L143.31,550.92 L144.25,551.35 L145.2,551.77 L146.14,552.18 L147.08,552.59 L148.02,552.98 L148.96,553.37 L149.9,553.76 L150.84,554.13 L151.77,554.5 L152.7,554.85 L153.63,555.21 L154.56,555.56 L155.49,555.9 L156.46,556.26 L157.47,556.63 L158.48,556.99 L159.5,557.36 L160.51,557.71 L161.52,558.06 L162.52,558.39 L163.52,558.72 L164.52,559.04 L165.52,559.35 L166.52,559.66 L167.52,559.95 L168.52,560.24 L169.52,560.52 L170.52,560.79 L171.52,561.05 L172.52,561.31 L173.51,561.55 L174.51,561.79 L175.51,562.03 L176.51,562.25 L177.51,562.47 L178.51,562.68 L179.51,562.89 L180.51,563.09 L181.51,563.28 L182.51,563.47 L183.51,563.65 L184.51,563.82 L185.51,563.99 L186.51,564.15 L187.51,564.3 L188.51,564.45 L189.51,564.59 L190.51,564.72 L191.51,564.84 L192.52,564.95 L193.52,565.05 L194.52,565.14 L195.52,565.23 L196.51,565.3 L197.51,565.36 L198.49,565.41 L199.47,565.45 L200.46,565.49 L201.46,565.53 L202.48,565.57 L203.5,565.63 L204.5,565.69 L205.45,565.75 L206.38,565.82 L207.31,565.89 L208.27,565.95 L209.27,566 L210.35,566.02 L211.48,565.99 L212.65,565.92 L213.53,565.83 L214.42,565.71 L215.36,565.57 L216.34,565.39 L217.38,565.18 L218.43,564.94 L219.48,564.67 L220.52,564.37 L221.55,564.02 L222.56,563.62 L223.53,563.17 L224.38,562.71 L225.17,562.18 L226,561.53 L226.84,560.78 L227.68,559.96 L228.51,559.11 L229.33,558.27 L230.15,557.46 L230.97,556.71 L231.77,556.07 L232.54,555.59 L233.25,555.28 L233.9,555.12 L234.58,555.1 L235.3,555.22 L236,555.48 L236.7,555.89 L237.4,556.44 L238.1,557.13 L238.81,557.94 L239.54,558.85 L240.27,559.82 L241.09,560.91 L241.99,562.1 L242.64,562.95 L243.07,563.53 L243.55,564.18 L244.07,564.93 L244.63,565.74 L245.19,566.59 L245.77,567.46 L246.36,568.37 L246.95,569.28 L247.54,570.21 L248.13,571.14 L248.72,572.07 L249.31,573 L249.9,573.91 L250.49,574.82 L251.06,575.69 L251.63,576.54 L252.16,577.32 L252.66,578.03 L253.15,578.72 L253.87,579.7 L254.61,580.68 L255.29,581.58 L255.96,582.44 L256.61,583.26 L257.25,584.06 L257.89,584.83 L258.52,585.58 L259.14,586.3 L259.77,587.01 L260.4,587.7 L261.01,588.36 L261.62,589 L262.25,589.63 L263.06,590.44 L263.89,591.23 L264.7,591.98 L265.5,592.69 L266.29,593.38 L267.09,594.03 L267.88,594.65 L268.67,595.23 L269.46,595.78 L270.22,596.28 L270.99,596.74 L271.89,597.25 L272.85,597.76 L273.7,598.17 L274.5,598.51 L275.3,598.8 L276.16,599.06 L277.12,599.28 L278.3,599.47 L279.83,599.63 L280.97,599.71 L281.66,599.73 L282.42,599.73 L283.28,599.71 L284.21,599.68 L285.18,599.63 L286.18,599.56 L287.21,599.49 L288.26,599.41 L289.34,599.32 L290.42,599.23 L291.51,599.15 L292.61,599.06 L293.72,598.99 L294.82,598.92 L295.92,598.87 L297.01,598.83 L298.09,598.81 L299.09,598.81 L300.1,598.82 L301.17,598.84 L302.3,598.87 L303.46,598.91 L304.64,598.95 L305.84,599 L307.04,599.06 L308.24,599.12 L309.42,599.18 L310.58,599.24 L311.72,599.31 L312.82,599.37 L313.88,599.44 L314.89,599.5 L315.81,599.55 L316.6,599.6 L317.32,599.64 L317.95,599.67 L318.5,599.7 L318.5,599.7" stroke="#fa7c7c" stroke-width="3.6"/>
<path d="M60,519.8 L60.51,520.09 L61.18,520.46 L61.98,520.9 L62.89,521.4 L63.9,521.97 L64.99,522.59 L66.09,523.22 L67.14,523.82 L68.08,524.37 L68.95,524.88 L69.82,525.39 L70.68,525.91 L71.56,526.44 L72.44,526.98 L73.33,527.54 L74.23,528.1 L75.13,528.66 L76.02,529.23 L76.86,529.77 L77.7,530.31 L78.53,530.85 L79.36,531.4 L80.2,531.95 L81.04,532.51 L81.88,533.07 L82.73,533.64 L83.57,534.21 L84.41,534.79 L85.25,535.37 L86.09,535.95 L86.94,536.53 L87.78,537.12 L88.62,537.71 L89.46,538.3 L90.3,538.9 L91.14,539.5 L91.98,540.1 L92.83,540.71 L93.67,541.32 L94.51,541.94 L95.36,542.56 L96.21,543.19 L97.05,543.81 L97.9,544.44 L98.74,545.06 L99.58,545.69 L100.42,546.31 L101.27,546.93 L102.11,547.55 L102.95,548.17 L103.79,548.79 L104.64,549.41 L105.49,550.04 L106.34,550.67 L107.19,551.3 L108.04,551.93 L108.83,552.52 L109.62,553.11 L110.41,553.71 L111.21,554.3 L112,554.9 L112.8,555.5 L113.6,556.1 L114.4,556.7 L115.2,557.3 L116,557.9 L116.8,558.5 L117.6,559.1 L118.4,559.7 L119.2,560.3 L120,560.9 L120.79,561.5 L121.59,562.09 L122.38,562.69 L123.17,563.28 L123.96,563.87 L124.81,564.5 L125.66,565.14 L126.51,565.77 L127.37,566.4 L128.22,567.03 L129.06,567.65 L129.91,568.27 L130.75,568.89 L131.59,569.5 L132.44,570.1 L133.28,570.7 L134.12,571.3 L134.96,571.9 L135.8,572.49 L136.64,573.08 L137.49,573.66 L138.33,574.24 L139.17,574.82 L140.01,575.4 L140.85,575.97 L141.7,576.54 L142.54,577.1 L143.38,577.67 L144.22,578.22 L145.05,578.77 L145.88,579.32 L146.71,579.86 L147.55,580.4 L148.41,580.96 L149.31,581.53 L150.21,582.11 L151.11,582.68 L152.01,583.24 L152.91,583.8 L153.8,584.35 L154.69,584.89 L155.58,585.43 L156.47,585.96 L157.35,586.48 L158.24,587 L159.13,587.51 L160.02,588.01 L160.9,588.5 L161.78,588.99 L162.66,589.46 L163.54,589.93 L164.45,590.41 L165.4,590.9 L166.35,591.39 L167.31,591.86 L168.25,592.33 L169.2,592.78 L170.14,593.22 L171.08,593.66 L172.02,594.09 L172.96,594.51 L173.91,594.92 L174.85,595.32 L175.78,595.72 L176.72,596.1 L177.64,596.47 L178.57,596.83 L179.51,597.19 L180.48,597.55 L181.48,597.91 L182.5,598.26 L183.51,598.6 L184.52,598.93 L185.52,599.24 L186.53,599.54 L187.53,599.83 L188.52,600.11 L189.52,600.37 L190.52,600.62 L191.52,600.86 L192.52,601.08 L193.53,601.3 L194.53,601.49 L195.53,601.68 L196.52,601.84 L197.51,602 L198.5,602.14 L199.48,602.26 L200.48,602.38 L201.49,602.48 L202.51,602.58 L203.54,602.68 L204.53,602.77 L205.44,602.85 L206.31,602.93 L207.19,602.99 L208.09,603.03 L209.07,603.04 L210.15,603 L211.36,602.88 L212.65,602.68 L213.46,602.5 L214.29,602.29 L215.18,602.03 L216.16,601.71 L217.21,601.34 L218.3,600.94 L219.37,600.52 L220.44,600.09 L221.49,599.64 L222.52,599.19 L223.5,598.74 L224.38,598.32 L225.16,597.92 L225.9,597.53 L227.03,596.85 L228.08,596.16 L228.95,595.5 L229.74,594.85 L230.47,594.19 L231.17,593.54 L231.85,592.88 L232.53,592.22 L233.22,591.54 L234,590.73 L234.8,589.79 L235.6,588.78 L236.39,587.77 L237.18,586.86 L237.96,586.14 L238.69,585.69 L239.33,585.49 L239.93,585.47 L240.57,585.62 L241.27,585.97 L242.03,586.54 L242.82,587.32 L243.61,588.25 L244.41,589.29 L245.27,590.48 L246.09,591.66 L246.51,592.29 L246.92,592.95 L247.37,593.71 L247.84,594.55 L248.32,595.44 L248.81,596.36 L249.3,597.31 L249.8,598.27 L250.3,599.22 L250.81,600.18 L251.33,601.12 L251.86,602.05 L252.4,602.93 L252.94,603.78 L253.49,604.6 L254.09,605.45 L254.71,606.33 L255.34,607.19 L255.99,608.05 L256.65,608.91 L257.31,609.75 L257.99,610.57 L258.67,611.37 L259.35,612.14 L260.02,612.88 L260.69,613.56 L261.31,614.18 L261.93,614.74 L262.71,615.39 L263.68,616.12 L264.63,616.75 L265.54,617.28 L266.44,617.74 L267.35,618.16 L268.24,618.54 L269.15,618.89 L270.08,619.23 L271.07,619.61 L272.06,620 L272.73,620.28 L273.16,620.46 L273.52,620.6 L273.91,620.75 L274.47,620.91 L275.4,621.1 L276.93,621.29 L279.53,621.46 L281.11,621.52 L281.59,621.53 L282.16,621.55 L282.87,621.56 L283.71,621.58 L284.64,621.59 L285.6,621.6 L286.61,621.61 L287.65,621.62 L288.73,621.63 L289.85,621.63 L290.98,621.63 L292.14,621.63 L293.31,621.63 L294.51,621.63 L295.72,621.63 L296.95,621.62 L298.17,621.62 L299.4,621.62 L300.63,621.61 L301.86,621.6 L303.07,621.6 L304.27,621.59 L305.45,621.58 L306.62,621.57 L307.76,621.57 L308.88,621.56 L309.97,621.55 L311.02,621.54 L312.05,621.53 L313.02,621.53 L313.96,621.52 L314.86,621.52 L315.69,621.51 L316.41,621.51 L317.08,621.5 L317.69,621.5 L318.24,621.5 L318.5,621.5" stroke="#fbb9bd" stroke-width="3.6"/>
</g>
<text x="122.1" y="361.9" font-size="9.3" font-weight="bold" textLength="187.7" lengthAdjust="spacingAndGlyphs">4 nm Au + P(EO-<tspan font-style="italic" font-weight="normal">b</tspan>-IPGE) mixture at 30 &#176;C</text>
<circle cx="164.3" cy="370.4" r="3.35" fill="#9c0000"/>
<text x="174.1" y="373.3" font-size="9" font-weight="bold" textLength="136.7" lengthAdjust="spacingAndGlyphs">P(113-45) 0.1% / P(16-21) 0.5%</text>
<circle cx="164.3" cy="381.2" r="3.35" fill="#cc0000"/>
<text x="174.1" y="384.1" font-size="9" font-weight="bold" textLength="136.7" lengthAdjust="spacingAndGlyphs">P(113-45) 0.1% / P(16-21) 0.4%</text>
<circle cx="164.3" cy="393.4" r="3.35" fill="#ff0000"/>
<text x="174.1" y="396.3" font-size="9" font-weight="bold" textLength="136.7" lengthAdjust="spacingAndGlyphs">P(113-45) 0.1% / P(16-21) 0.3%</text>
<circle cx="164.3" cy="404.3" r="3.35" fill="#ff3c3c"/>
<text x="174.1" y="407.2" font-size="9" font-weight="bold" textLength="136.7" lengthAdjust="spacingAndGlyphs">P(113-45) 0.1% / P(16-21) 0.2%</text>
<circle cx="164.3" cy="415.8" r="3.35" fill="#fa7c7c"/>
<text x="174.1" y="418.7" font-size="9" font-weight="bold" textLength="136.7" lengthAdjust="spacingAndGlyphs">P(113-45) 0.1% / P(16-21) 0.1%</text>
<circle cx="164.3" cy="426.7" r="3.35" fill="#fbb9bd"/>
<text x="174.1" y="429.6" font-size="9" font-weight="bold" textLength="136.7" lengthAdjust="spacingAndGlyphs">P(113-45) 0.1% / P(16-21) 0.0%</text>
<rect x="389.5" y="339.7" width="263.7" height="292.2" fill="none" stroke="#1a1a1a" stroke-width="1.4"/>
<line x1="389.5" y1="631.04" x2="392.5" y2="631.04" stroke="#1a1a1a" stroke-width="1.3"/>
<line x1="389.5" y1="628.8" x2="395.5" y2="628.8" stroke="#1a1a1a" stroke-width="1.3"/>
<text x="384.6" y="634.1" font-size="9.2" font-weight="bold" text-anchor="end">10<tspan font-size="6.2" dy="-5.6" dx="0.8">-1</tspan></text>
<line x1="389.5" y1="614.05" x2="392.5" y2="614.05" stroke="#1a1a1a" stroke-width="1.3"/>
<line x1="389.5" y1="605.42" x2="392.5" y2="605.42" stroke="#1a1a1a" stroke-width="1.3"/>
<line x1="389.5" y1="599.3" x2="392.5" y2="599.3" stroke="#1a1a1a" stroke-width="1.3"/>
<line x1="389.5" y1="594.55" x2="392.5" y2="594.55" stroke="#1a1a1a" stroke-width="1.3"/>
<line x1="389.5" y1="590.67" x2="392.5" y2="590.67" stroke="#1a1a1a" stroke-width="1.3"/>
<line x1="389.5" y1="587.39" x2="392.5" y2="587.39" stroke="#1a1a1a" stroke-width="1.3"/>
<line x1="389.5" y1="584.55" x2="392.5" y2="584.55" stroke="#1a1a1a" stroke-width="1.3"/>
<line x1="389.5" y1="582.04" x2="392.5" y2="582.04" stroke="#1a1a1a" stroke-width="1.3"/>
<line x1="389.5" y1="579.8" x2="395.5" y2="579.8" stroke="#1a1a1a" stroke-width="1.3"/>
<text x="384.6" y="585.1" font-size="9.2" font-weight="bold" text-anchor="end">10<tspan font-size="6.2" dy="-5.6" dx="0.8">0</tspan></text>
<line x1="389.5" y1="565.05" x2="392.5" y2="565.05" stroke="#1a1a1a" stroke-width="1.3"/>
<line x1="389.5" y1="556.42" x2="392.5" y2="556.42" stroke="#1a1a1a" stroke-width="1.3"/>
<line x1="389.5" y1="550.3" x2="392.5" y2="550.3" stroke="#1a1a1a" stroke-width="1.3"/>
<line x1="389.5" y1="545.55" x2="392.5" y2="545.55" stroke="#1a1a1a" stroke-width="1.3"/>
<line x1="389.5" y1="541.67" x2="392.5" y2="541.67" stroke="#1a1a1a" stroke-width="1.3"/>
<line x1="389.5" y1="538.39" x2="392.5" y2="538.39" stroke="#1a1a1a" stroke-width="1.3"/>
<line x1="389.5" y1="535.55" x2="392.5" y2="535.55" stroke="#1a1a1a" stroke-width="1.3"/>
<line x1="389.5" y1="533.04" x2="392.5" y2="533.04" stroke="#1a1a1a" stroke-width="1.3"/>
<line x1="389.5" y1="530.8" x2="395.5" y2="530.8" stroke="#1a1a1a" stroke-width="1.3"/>
<text x="384.6" y="536.1" font-size="9.2" font-weight="bold" text-anchor="end">10<tspan font-size="6.2" dy="-5.6" dx="0.8">1</tspan></text>
<line x1="389.5" y1="516.05" x2="392.5" y2="516.05" stroke="#1a1a1a" stroke-width="1.3"/>
<line x1="389.5" y1="507.42" x2="392.5" y2="507.42" stroke="#1a1a1a" stroke-width="1.3"/>
<line x1="389.5" y1="501.3" x2="392.5" y2="501.3" stroke="#1a1a1a" stroke-width="1.3"/>
<line x1="389.5" y1="496.55" x2="392.5" y2="496.55" stroke="#1a1a1a" stroke-width="1.3"/>
<line x1="389.5" y1="492.67" x2="392.5" y2="492.67" stroke="#1a1a1a" stroke-width="1.3"/>
<line x1="389.5" y1="489.39" x2="392.5" y2="489.39" stroke="#1a1a1a" stroke-width="1.3"/>
<line x1="389.5" y1="486.55" x2="392.5" y2="486.55" stroke="#1a1a1a" stroke-width="1.3"/>
<line x1="389.5" y1="484.04" x2="392.5" y2="484.04" stroke="#1a1a1a" stroke-width="1.3"/>
<line x1="389.5" y1="481.8" x2="395.5" y2="481.8" stroke="#1a1a1a" stroke-width="1.3"/>
<text x="384.6" y="487.1" font-size="9.2" font-weight="bold" text-anchor="end">10<tspan font-size="6.2" dy="-5.6" dx="0.8">2</tspan></text>
<line x1="389.5" y1="467.05" x2="392.5" y2="467.05" stroke="#1a1a1a" stroke-width="1.3"/>
<line x1="389.5" y1="458.42" x2="392.5" y2="458.42" stroke="#1a1a1a" stroke-width="1.3"/>
<line x1="389.5" y1="452.3" x2="392.5" y2="452.3" stroke="#1a1a1a" stroke-width="1.3"/>
<line x1="389.5" y1="447.55" x2="392.5" y2="447.55" stroke="#1a1a1a" stroke-width="1.3"/>
<line x1="389.5" y1="443.67" x2="392.5" y2="443.67" stroke="#1a1a1a" stroke-width="1.3"/>
<line x1="389.5" y1="440.39" x2="392.5" y2="440.39" stroke="#1a1a1a" stroke-width="1.3"/>
<line x1="389.5" y1="437.55" x2="392.5" y2="437.55" stroke="#1a1a1a" stroke-width="1.3"/>
<line x1="389.5" y1="435.04" x2="392.5" y2="435.04" stroke="#1a1a1a" stroke-width="1.3"/>
<line x1="389.5" y1="432.8" x2="395.5" y2="432.8" stroke="#1a1a1a" stroke-width="1.3"/>
<text x="384.6" y="438.1" font-size="9.2" font-weight="bold" text-anchor="end">10<tspan font-size="6.2" dy="-5.6" dx="0.8">3</tspan></text>
<line x1="389.5" y1="418.05" x2="392.5" y2="418.05" stroke="#1a1a1a" stroke-width="1.3"/>
<line x1="389.5" y1="409.42" x2="392.5" y2="409.42" stroke="#1a1a1a" stroke-width="1.3"/>
<line x1="389.5" y1="403.3" x2="392.5" y2="403.3" stroke="#1a1a1a" stroke-width="1.3"/>
<line x1="389.5" y1="398.55" x2="392.5" y2="398.55" stroke="#1a1a1a" stroke-width="1.3"/>
<line x1="389.5" y1="394.67" x2="392.5" y2="394.67" stroke="#1a1a1a" stroke-width="1.3"/>
<line x1="389.5" y1="391.39" x2="392.5" y2="391.39" stroke="#1a1a1a" stroke-width="1.3"/>
<line x1="389.5" y1="388.55" x2="392.5" y2="388.55" stroke="#1a1a1a" stroke-width="1.3"/>
<line x1="389.5" y1="386.04" x2="392.5" y2="386.04" stroke="#1a1a1a" stroke-width="1.3"/>
<line x1="389.5" y1="383.8" x2="395.5" y2="383.8" stroke="#1a1a1a" stroke-width="1.3"/>
<text x="384.6" y="389.1" font-size="9.2" font-weight="bold" text-anchor="end">10<tspan font-size="6.2" dy="-5.6" dx="0.8">4</tspan></text>
<line x1="389.5" y1="369.05" x2="392.5" y2="369.05" stroke="#1a1a1a" stroke-width="1.3"/>
<line x1="389.5" y1="360.42" x2="392.5" y2="360.42" stroke="#1a1a1a" stroke-width="1.3"/>
<line x1="389.5" y1="354.3" x2="392.5" y2="354.3" stroke="#1a1a1a" stroke-width="1.3"/>
<line x1="389.5" y1="349.55" x2="392.5" y2="349.55" stroke="#1a1a1a" stroke-width="1.3"/>
<line x1="389.5" y1="345.67" x2="392.5" y2="345.67" stroke="#1a1a1a" stroke-width="1.3"/>
<line x1="389.5" y1="342.39" x2="392.5" y2="342.39" stroke="#1a1a1a" stroke-width="1.3"/>
<line x1="422.34" y1="631.9" x2="422.34" y2="628.9" stroke="#1a1a1a" stroke-width="1.3"/>
<text x="422.34" y="639.9" font-size="6.2" font-weight="bold" text-anchor="middle" fill="#000" >2</text>
<line x1="456.47" y1="631.9" x2="456.47" y2="628.9" stroke="#1a1a1a" stroke-width="1.3"/>
<text x="456.47" y="639.9" font-size="6.2" font-weight="bold" text-anchor="middle" fill="#000" >3</text>
<line x1="480.68" y1="631.9" x2="480.68" y2="628.9" stroke="#1a1a1a" stroke-width="1.3"/>
<text x="480.68" y="639.9" font-size="6.2" font-weight="bold" text-anchor="middle" fill="#000" >4</text>
<line x1="499.46" y1="631.9" x2="499.46" y2="628.9" stroke="#1a1a1a" stroke-width="1.3"/>
<text x="499.46" y="639.9" font-size="6.2" font-weight="bold" text-anchor="middle" fill="#000" >5</text>
<line x1="514.81" y1="631.9" x2="514.81" y2="628.9" stroke="#1a1a1a" stroke-width="1.3"/>
<text x="514.81" y="639.9" font-size="6.2" font-weight="bold" text-anchor="middle" fill="#000" >6</text>
<line x1="527.78" y1="631.9" x2="527.78" y2="628.9" stroke="#1a1a1a" stroke-width="1.3"/>
<text x="527.78" y="639.9" font-size="6.2" font-weight="bold" text-anchor="middle" fill="#000" >7</text>
<line x1="539.02" y1="631.9" x2="539.02" y2="628.9" stroke="#1a1a1a" stroke-width="1.3"/>
<text x="539.02" y="639.9" font-size="6.2" font-weight="bold" text-anchor="middle" fill="#000" >8</text>
<line x1="548.93" y1="631.9" x2="548.93" y2="628.9" stroke="#1a1a1a" stroke-width="1.3"/>
<text x="548.93" y="639.9" font-size="6.2" font-weight="bold" text-anchor="middle" fill="#000" >9</text>
<line x1="557.8" y1="631.9" x2="557.8" y2="625.9" stroke="#1a1a1a" stroke-width="1.3"/>
<text x="557.8" y="647.9" font-size="8.2" font-weight="bold" text-anchor="middle" fill="#000" >0.1</text>
<line x1="616.14" y1="631.9" x2="616.14" y2="628.9" stroke="#1a1a1a" stroke-width="1.3"/>
<text x="616.14" y="639.9" font-size="6.2" font-weight="bold" text-anchor="middle" fill="#000" >2</text>
<line x1="650.27" y1="631.9" x2="650.27" y2="628.9" stroke="#1a1a1a" stroke-width="1.3"/>
<text x="650.27" y="639.9" font-size="6.2" font-weight="bold" text-anchor="middle" fill="#000" >3</text>
<text x="348.9" y="485.4" font-size="9" font-weight="bold" text-anchor="middle" transform="rotate(-90 348.9 485.4)">I(q)</text>
<text x="521.3" y="665.6" font-size="8.2" font-weight="bold" text-anchor="middle">q (&#197;<tspan font-size="5.8" dy="-4.2">-1</tspan><tspan dy="4.2">)</tspan></text>
<text x="336.5" y="351.2" font-size="17.5" font-weight="normal" text-anchor="start" fill="#000" >(d)</text>
<g fill="none" stroke-linecap="round" stroke-linejoin="round">
<path d="M394,378.1 L394.46,378.48 L395.04,378.97 L395.73,379.54 L396.51,380.2 L397.38,380.93 L398.34,381.73 L399.34,382.56 L400.34,383.4 L401.25,384.18 L402.09,384.88 L402.87,385.54 L403.64,386.19 L404.42,386.85 L405.21,387.52 L406,388.19 L406.8,388.87 L407.61,389.56 L408.42,390.25 L409.23,390.94 L410.03,391.63 L410.79,392.28 L411.54,392.93 L412.3,393.58 L413.05,394.23 L413.81,394.88 L414.57,395.54 L415.33,396.2 L416.1,396.85 L416.86,397.51 L417.62,398.17 L418.38,398.83 L419.14,399.49 L419.9,400.15 L420.67,400.8 L421.43,401.46 L422.19,402.12 L422.95,402.77 L423.7,403.42 L424.46,404.07 L425.21,404.72 L425.97,405.37 L426.77,406.06 L427.58,406.75 L428.39,407.45 L429.2,408.14 L430,408.82 L430.81,409.51 L431.61,410.19 L432.41,410.86 L433.21,411.53 L434.01,412.2 L434.81,412.86 L435.61,413.53 L436.41,414.18 L437.21,414.84 L438.01,415.49 L438.81,416.14 L439.61,416.78 L440.41,417.42 L441.21,418.06 L442.01,418.7 L442.81,419.33 L443.61,419.96 L444.41,420.59 L445.21,421.22 L446.01,421.84 L446.8,422.45 L447.59,423.06 L448.38,423.66 L449.18,424.27 L449.97,424.87 L450.82,425.51 L451.67,426.15 L452.52,426.79 L453.38,427.43 L454.23,428.06 L455.07,428.68 L455.92,429.3 L456.76,429.9 L457.61,430.5 L458.45,431.09 L459.29,431.67 L460.13,432.25 L460.97,432.81 L461.81,433.37 L462.64,433.93 L463.48,434.47 L464.31,435.01 L465.14,435.54 L465.98,436.07 L466.87,436.63 L467.77,437.19 L468.67,437.75 L469.57,438.3 L470.46,438.83 L471.35,439.36 L472.23,439.87 L473.11,440.37 L473.99,440.86 L474.94,441.38 L475.89,441.88 L476.84,442.37 L477.79,442.85 L478.73,443.32 L479.67,443.78 L480.61,444.23 L481.55,444.67 L482.49,445.11 L483.43,445.54 L484.38,445.96 L485.32,446.37 L486.26,446.78 L487.19,447.17 L488.12,447.54 L489.05,447.9 L489.99,448.25 L490.99,448.6 L492,448.95 L493.02,449.27 L494.04,449.59 L495.06,449.89 L496.08,450.17 L497.09,450.45 L498.08,450.71 L499.02,450.94 L499.89,451.15 L500.73,451.34 L501.59,451.52 L502.51,451.69 L503.55,451.86 L504.74,452.01 L506.04,452.14 L506.89,452.2 L507.79,452.25 L508.73,452.3 L509.74,452.32 L510.83,452.34 L511.96,452.35 L513.12,452.34 L514.28,452.31 L515.4,452.27 L516.47,452.2 L517.5,452.11 L518.45,452 L519.37,451.87 L520.47,451.66 L521.54,451.42 L522.55,451.15 L523.5,450.85 L524.42,450.53 L525.33,450.18 L526.23,449.79 L527.14,449.38 L528.07,448.92 L529.02,448.44 L529.91,447.96 L530.76,447.47 L531.65,446.94 L532.56,446.36 L533.48,445.75 L534.39,445.13 L535.29,444.49 L536.18,443.85 L537.04,443.21 L537.84,442.59 L538.54,442.04 L539.18,441.52 L539.99,440.81 L540.95,439.88 L541.74,439.01 L542.41,438.21 L543.04,437.46 L543.65,436.78 L544.27,436.17 L544.96,435.6 L545.89,434.92 L546.92,434.28 L547.95,433.74 L548.99,433.35 L550.02,433.16 L551.02,433.17 L551.84,433.33 L552.48,433.55 L553.1,433.84 L553.74,434.22 L554.42,434.74 L555.15,435.44 L555.93,436.37 L556.86,437.73 L557.83,439.39 L558.1,439.92 L558.37,440.48 L558.67,441.13 L559.01,441.9 L559.37,442.76 L559.73,443.65 L560.09,444.57 L560.46,445.53 L560.83,446.52 L561.2,447.53 L561.58,448.56 L561.96,449.6 L562.35,450.65 L562.74,451.7 L563.13,452.76 L563.53,453.81 L563.93,454.85 L564.34,455.88 L564.75,456.89 L565.17,457.88 L565.58,458.83 L566,459.74 L566.42,460.65 L566.87,461.6 L567.34,462.56 L567.81,463.52 L568.28,464.49 L568.77,465.46 L569.26,466.43 L569.75,467.39 L570.25,468.35 L570.75,469.3 L571.26,470.25 L571.77,471.19 L572.28,472.1 L572.79,473 L573.3,473.89 L573.81,474.74 L574.32,475.58 L574.84,476.4 L575.34,477.17 L575.81,477.88 L576.26,478.53 L576.72,479.16 L577.51,480.22 L578.33,481.25 L579.1,482.16 L579.84,483.01 L580.6,483.81 L581.35,484.56 L582.1,485.26 L582.85,485.91 L583.6,486.51 L584.35,487.06 L585.09,487.55 L585.81,487.99 L586.51,488.37 L587.23,488.71 L588.28,489.09 L589.33,489.36 L590.34,489.51 L591.34,489.57 L592.34,489.55 L593.34,489.47 L594.36,489.34 L595.37,489.19 L596.38,489.03 L597.38,488.87 L598.38,488.69 L599.38,488.46 L600.4,488.18 L601.42,487.86 L602.45,487.5 L603.47,487.14 L604.49,486.8 L605.51,486.5 L606.52,486.27 L607.52,486.12 L608.51,486.07 L609.49,486.11 L610.48,486.22 L611.47,486.41 L612.47,486.66 L613.47,486.96 L614.48,487.29 L615.49,487.63 L616.49,487.98 L617.52,488.33 L618.55,488.66 L619.53,488.98 L620.41,489.27 L621.24,489.57 L622.03,489.87 L622.83,490.17 L623.64,490.48 L624.5,490.78 L625.44,491.08 L626.47,491.36 L627.68,491.64 L629.15,491.9 L630.23,492.05 L630.97,492.13 L631.8,492.21 L632.78,492.29 L633.85,492.37 L634.98,492.44 L636.13,492.5 L637.32,492.56 L638.52,492.61 L639.72,492.66 L640.93,492.7 L642.12,492.74 L643.3,492.77 L644.45,492.81 L645.55,492.84 L646.61,492.87 L647.62,492.9 L648.49,492.92 L649.26,492.94 L649.95,492.97 L650.54,492.99 L650.8,493" stroke="#9c0000" stroke-width="3.6"/>
<path d="M394,416.7 L394.43,417.1 L394.98,417.6 L395.62,418.2 L396.35,418.88 L397.17,419.63 L398.06,420.46 L399.01,421.33 L399.96,422.22 L400.87,423.06 L401.71,423.83 L402.46,424.53 L403.2,425.21 L403.94,425.89 L404.69,426.58 L405.44,427.28 L406.19,427.98 L406.95,428.68 L407.71,429.39 L408.48,430.09 L409.24,430.8 L410,431.5 L410.76,432.21 L411.52,432.91 L412.29,433.62 L413.05,434.32 L413.81,435.03 L414.57,435.74 L415.34,436.44 L416.1,437.15 L416.86,437.85 L417.62,438.55 L418.38,439.25 L419.14,439.95 L419.91,440.65 L420.67,441.35 L421.43,442.05 L422.2,442.75 L422.96,443.45 L423.73,444.14 L424.49,444.83 L425.25,445.52 L426.01,446.2 L426.77,446.88 L427.53,447.56 L428.3,448.24 L429.06,448.91 L429.82,449.58 L430.58,450.24 L431.34,450.9 L432.09,451.55 L432.85,452.2 L433.6,452.85 L434.38,453.51 L435.19,454.19 L436,454.87 L436.8,455.54 L437.61,456.21 L438.41,456.87 L439.21,457.53 L440.01,458.18 L440.81,458.83 L441.61,459.48 L442.41,460.12 L443.21,460.77 L444.01,461.41 L444.81,462.06 L445.62,462.69 L446.42,463.33 L447.21,463.95 L448.01,464.57 L448.8,465.17 L449.6,465.77 L450.42,466.38 L451.27,467 L452.11,467.62 L452.96,468.23 L453.81,468.82 L454.64,469.4 L455.48,469.98 L456.31,470.55 L457.14,471.11 L457.97,471.67 L458.87,472.27 L459.77,472.86 L460.67,473.46 L461.57,474.04 L462.47,474.61 L463.37,475.18 L464.26,475.73 L465.15,476.26 L466.04,476.79 L466.93,477.3 L467.82,477.8 L468.7,478.28 L469.59,478.76 L470.47,479.22 L471.35,479.67 L472.22,480.11 L473.1,480.54 L473.99,480.96 L474.93,481.41 L475.88,481.84 L476.83,482.27 L477.78,482.68 L478.72,483.07 L479.65,483.46 L480.58,483.82 L481.51,484.18 L482.48,484.54 L483.49,484.9 L484.5,485.25 L485.52,485.58 L486.53,485.89 L487.53,486.19 L488.53,486.47 L489.53,486.73 L490.53,486.97 L491.54,487.19 L492.55,487.4 L493.58,487.59 L494.6,487.77 L495.61,487.94 L496.6,488.1 L497.57,488.26 L498.54,488.41 L499.46,488.55 L500.31,488.66 L501.17,488.77 L502.12,488.85 L503.25,488.91 L504.61,488.91 L505.76,488.87 L506.58,488.82 L507.45,488.74 L508.36,488.64 L509.35,488.51 L510.42,488.36 L511.55,488.18 L512.7,487.99 L513.86,487.78 L514.97,487.57 L516.06,487.34 L517.08,487.1 L518.03,486.86 L518.93,486.61 L519.9,486.31 L520.99,485.95 L521.99,485.58 L522.93,485.2 L523.82,484.81 L524.69,484.39 L525.55,483.95 L526.39,483.47 L527.25,482.96 L528.14,482.4 L529.06,481.78 L529.89,481.2 L530.62,480.65 L531.4,480.04 L532.2,479.38 L533.02,478.68 L533.84,477.95 L534.64,477.21 L535.45,476.46 L536.23,475.72 L536.98,474.99 L537.71,474.28 L538.36,473.63 L538.94,473.05 L539.48,472.5 L540.44,471.47 L541.31,470.46 L542.03,469.55 L542.67,468.73 L543.27,467.96 L543.82,467.28 L544.36,466.68 L544.92,466.1 L545.87,465.2 L546.82,464.37 L547.7,463.81 L548.58,463.51 L549.55,463.49 L550.37,463.67 L550.94,463.91 L551.54,464.23 L552.21,464.67 L552.95,465.22 L553.71,465.88 L554.49,466.63 L555.29,467.5 L556.09,468.49 L556.96,469.71 L557.79,471.01 L558.14,471.6 L558.48,472.24 L558.84,472.97 L559.24,473.8 L559.64,474.7 L560.04,475.63 L560.44,476.59 L560.85,477.58 L561.26,478.6 L561.66,479.62 L562.07,480.66 L562.49,481.7 L562.91,482.73 L563.33,483.77 L563.76,484.79 L564.19,485.79 L564.64,486.78 L565.09,487.72 L565.53,488.61 L565.97,489.45 L566.45,490.33 L567,491.29 L567.57,492.24 L568.14,493.18 L568.71,494.11 L569.3,495.03 L569.89,495.94 L570.49,496.83 L571.09,497.71 L571.7,498.56 L572.31,499.4 L572.92,500.21 L573.53,500.99 L574.14,501.75 L574.75,502.47 L575.34,503.14 L575.9,503.75 L576.44,504.31 L577.17,505.02 L578.12,505.86 L579.04,506.6 L579.92,507.24 L580.79,507.8 L581.66,508.31 L582.52,508.76 L583.39,509.16 L584.26,509.53 L585.12,509.86 L585.97,510.16 L586.83,510.43 L587.77,510.69 L588.8,510.92 L589.83,511.09 L590.83,511.2 L591.84,511.26 L592.85,511.28 L593.86,511.26 L594.87,511.22 L595.88,511.15 L596.91,511.07 L597.94,510.96 L598.9,510.81 L599.78,510.62 L600.62,510.4 L601.44,510.14 L602.27,509.88 L603.15,509.61 L604.09,509.36 L605.14,509.15 L606.39,509 L607.95,508.93 L609.08,508.95 L609.76,509 L610.51,509.06 L611.37,509.16 L612.29,509.28 L613.25,509.42 L614.24,509.57 L615.26,509.74 L616.3,509.92 L617.36,510.11 L618.43,510.3 L619.51,510.5 L620.6,510.7 L621.7,510.9 L622.8,511.09 L623.89,511.28 L624.98,511.46 L626.07,511.63 L627.13,511.78 L628.18,511.92 L629.2,512.04 L630.19,512.14 L631.23,512.23 L632.32,512.32 L633.44,512.4 L634.59,512.47 L635.76,512.54 L636.93,512.6 L638.11,512.66 L639.29,512.71 L640.45,512.76 L641.6,512.8 L642.72,512.84 L643.83,512.87 L644.89,512.91 L645.91,512.94 L646.89,512.97 L647.81,513 L648.6,513.02 L649.32,513.04 L649.97,513.07 L650.54,513.09 L650.8,513.1" stroke="#cc0000" stroke-width="3.6"/>
<path d="M394,424.2 L394.39,424.61 L394.88,425.13 L395.45,425.74 L396.09,426.43 L396.8,427.19 L397.59,428.02 L398.43,428.92 L399.31,429.86 L400.18,430.78 L400.99,431.63 L401.74,432.42 L402.43,433.14 L403.1,433.85 L403.78,434.56 L404.45,435.27 L405.14,435.99 L405.84,436.71 L406.53,437.43 L407.22,438.15 L407.91,438.86 L408.6,439.57 L409.29,440.27 L409.98,440.97 L410.72,441.71 L411.45,442.45 L412.18,443.18 L412.92,443.91 L413.65,444.64 L414.37,445.35 L415.1,446.07 L415.83,446.78 L416.55,447.49 L417.28,448.2 L418.01,448.9 L418.74,449.61 L419.46,450.31 L420.19,451.01 L420.92,451.7 L421.65,452.4 L422.37,453.09 L423.1,453.77 L423.82,454.45 L424.54,455.13 L425.26,455.8 L425.98,456.47 L426.75,457.18 L427.52,457.89 L428.29,458.59 L429.06,459.29 L429.82,459.98 L430.58,460.67 L431.34,461.35 L432.1,462.02 L432.85,462.68 L433.61,463.34 L434.39,464.02 L435.19,464.71 L436,465.41 L436.81,466.09 L437.61,466.77 L438.42,467.44 L439.22,468.11 L440.01,468.77 L440.81,469.42 L441.61,470.08 L442.41,470.73 L443.21,471.37 L444.01,472.02 L444.82,472.66 L445.62,473.3 L446.42,473.92 L447.21,474.55 L448,475.16 L448.8,475.77 L449.59,476.37 L450.41,476.99 L451.26,477.62 L452.11,478.24 L452.96,478.86 L453.81,479.46 L454.65,480.06 L455.49,480.66 L456.34,481.24 L457.18,481.82 L458.02,482.4 L458.86,482.97 L459.7,483.54 L460.55,484.1 L461.39,484.65 L462.23,485.2 L463.06,485.74 L463.9,486.27 L464.73,486.79 L465.56,487.31 L466.43,487.84 L467.32,488.38 L468.22,488.92 L469.12,489.45 L470.02,489.97 L470.9,490.47 L471.78,490.97 L472.66,491.45 L473.54,491.93 L474.46,492.41 L475.4,492.91 L476.36,493.39 L477.31,493.87 L478.26,494.34 L479.2,494.79 L480.15,495.23 L481.09,495.66 L482.03,496.08 L482.97,496.5 L483.91,496.9 L484.85,497.29 L485.78,497.67 L486.72,498.04 L487.64,498.4 L488.57,498.75 L489.5,499.09 L490.47,499.44 L491.48,499.79 L492.5,500.13 L493.52,500.46 L494.54,500.78 L495.56,501.09 L496.58,501.39 L497.59,501.68 L498.56,501.94 L499.46,502.18 L500.31,502.4 L501.16,502.6 L502.05,502.78 L503.03,502.96 L504.13,503.13 L505.38,503.27 L506.46,503.36 L507.33,503.41 L508.26,503.44 L509.22,503.46 L510.27,503.47 L511.39,503.46 L512.54,503.43 L513.7,503.39 L514.83,503.32 L515.94,503.22 L517,503.09 L517.99,502.94 L518.92,502.76 L519.9,502.53 L520.95,502.23 L521.93,501.9 L522.86,501.54 L523.76,501.14 L524.64,500.71 L525.5,500.25 L526.36,499.74 L527.23,499.19 L528.14,498.57 L529.07,497.9 L529.88,497.28 L530.58,496.7 L531.32,496.06 L532.1,495.35 L532.89,494.59 L533.67,493.81 L534.46,493.01 L535.23,492.2 L535.99,491.39 L536.73,490.59 L537.45,489.82 L538.12,489.09 L538.7,488.46 L539.24,487.88 L539.98,487.07 L540.91,486.01 L541.66,485.11 L542.29,484.33 L542.88,483.62 L543.43,482.97 L543.99,482.37 L544.6,481.79 L545.35,481.13 L546.28,480.37 L547.26,479.63 L548.24,478.99 L549.22,478.53 L550.17,478.31 L551.06,478.32 L551.78,478.48 L552.34,478.71 L552.9,479.03 L553.48,479.45 L554.09,480.01 L554.75,480.72 L555.43,481.62 L556.14,482.72 L556.97,484.19 L557.82,485.9 L558.07,486.45 L558.32,487.02 L558.59,487.69 L558.9,488.48 L559.23,489.34 L559.56,490.24 L559.89,491.18 L560.22,492.15 L560.56,493.14 L560.9,494.16 L561.24,495.2 L561.59,496.24 L561.94,497.3 L562.29,498.37 L562.65,499.44 L563.01,500.51 L563.38,501.57 L563.75,502.62 L564.12,503.66 L564.49,504.68 L564.88,505.68 L565.26,506.65 L565.63,507.56 L566,508.43 L566.41,509.35 L566.87,510.35 L567.34,511.36 L567.81,512.35 L568.29,513.34 L568.77,514.32 L569.26,515.29 L569.75,516.26 L570.25,517.21 L570.75,518.16 L571.26,519.09 L571.77,520.01 L572.28,520.92 L572.79,521.8 L573.3,522.66 L573.81,523.5 L574.32,524.32 L574.83,525.12 L575.33,525.88 L575.81,526.59 L576.26,527.23 L576.71,527.86 L577.51,528.92 L578.32,529.96 L579.09,530.88 L579.84,531.74 L580.6,532.55 L581.35,533.32 L582.1,534.03 L582.86,534.68 L583.61,535.29 L584.36,535.84 L585.1,536.32 L585.82,536.75 L586.52,537.1 L587.24,537.4 L588.27,537.7 L589.31,537.88 L590.32,537.91 L591.31,537.85 L592.32,537.69 L593.33,537.48 L594.36,537.23 L595.38,536.97 L596.4,536.72 L597.4,536.5 L598.4,536.3 L599.4,536.09 L600.42,535.84 L601.43,535.57 L602.45,535.3 L603.47,535.03 L604.49,534.78 L605.5,534.58 L606.51,534.43 L607.5,534.36 L608.49,534.36 L609.48,534.45 L610.48,534.62 L611.47,534.86 L612.47,535.15 L613.48,535.49 L614.48,535.86 L615.49,536.24 L616.49,536.62 L617.52,536.99 L618.55,537.35 L619.53,537.69 L620.42,538 L621.23,538.31 L622.03,538.62 L622.83,538.93 L623.64,539.24 L624.51,539.54 L625.44,539.83 L626.47,540.11 L627.68,540.37 L629.15,540.61 L630.23,540.74 L630.97,540.8 L631.8,540.86 L632.78,540.92 L633.85,540.97 L634.98,541.01 L636.13,541.04 L637.32,541.06 L638.52,541.08 L639.72,541.09 L640.93,541.1 L642.12,541.1 L643.3,541.1 L644.45,541.1 L645.55,541.1 L646.61,541.09 L647.62,541.09 L648.49,541.09 L649.26,541.09 L649.95,541.09 L650.54,541.1 L650.8,541.1" stroke="#ff0000" stroke-width="3.6"/>
<path d="M394,462 L394.59,462.2 L395.37,462.47 L396.31,462.79 L397.38,463.16 L398.59,463.58 L399.86,464.04 L401.06,464.48 L402.14,464.87 L403.06,465.22 L403.96,465.57 L404.87,465.92 L405.78,466.28 L406.7,466.65 L407.64,467.03 L408.58,467.42 L409.52,467.81 L410.46,468.21 L411.4,468.6 L412.34,469.01 L413.28,469.42 L414.23,469.83 L415.17,470.24 L416.11,470.66 L417.05,471.08 L417.99,471.5 L418.93,471.93 L419.87,472.36 L420.82,472.79 L421.76,473.22 L422.7,473.66 L423.64,474.09 L424.58,474.54 L425.52,474.98 L426.46,475.43 L427.4,475.88 L428.34,476.33 L429.29,476.79 L430.23,477.25 L431.17,477.71 L432.11,478.17 L433.06,478.64 L434,479.1 L434.94,479.57 L435.88,480.03 L436.82,480.5 L437.76,480.97 L438.7,481.44 L439.64,481.91 L440.58,482.39 L441.53,482.86 L442.47,483.34 L443.41,483.82 L444.35,484.3 L445.29,484.78 L446.24,485.26 L447.19,485.75 L448.14,486.24 L449.09,486.74 L450.04,487.23 L450.92,487.69 L451.8,488.15 L452.68,488.61 L453.56,489.07 L454.44,489.54 L455.32,490 L456.2,490.46 L457.08,490.91 L457.97,491.37 L458.91,491.85 L459.86,492.33 L460.81,492.81 L461.76,493.29 L462.7,493.76 L463.65,494.23 L464.59,494.7 L465.53,495.17 L466.47,495.64 L467.41,496.11 L468.35,496.58 L469.3,497.06 L470.24,497.53 L471.18,498 L472.13,498.47 L473.07,498.93 L474.01,499.4 L474.95,499.85 L475.89,500.31 L476.83,500.76 L477.78,501.21 L478.72,501.66 L479.66,502.1 L480.6,502.54 L481.54,502.98 L482.48,503.41 L483.43,503.83 L484.37,504.25 L485.31,504.67 L486.24,505.08 L487.18,505.49 L488.12,505.89 L489.06,506.3 L490.01,506.7 L490.95,507.1 L491.89,507.5 L492.83,507.89 L493.78,508.28 L494.72,508.67 L495.66,509.05 L496.6,509.43 L497.55,509.8 L498.49,510.17 L499.43,510.53 L500.37,510.88 L501.3,511.23 L502.24,511.57 L503.17,511.9 L504.1,512.23 L505.03,512.55 L505.96,512.87 L506.96,513.21 L507.97,513.54 L508.99,513.87 L510,514.19 L511.01,514.5 L512.01,514.8 L513.01,515.1 L514.01,515.39 L515.01,515.68 L516.01,515.96 L517.01,516.23 L518.01,516.5 L519,516.76 L520,517.01 L521,517.26 L522,517.5 L523,517.72 L524,517.95 L525,518.16 L526,518.37 L527,518.57 L528,518.75 L529,518.93 L530,519.09 L531,519.24 L532.02,519.37 L533.05,519.5 L534.07,519.61 L535.09,519.71 L536.08,519.81 L537.05,519.9 L537.99,519.98 L539.05,520.03 L540.05,520.05 L541,520.05 L541.92,520.08 L542.88,520.17 L543.94,520.35 L545.09,520.65 L545.89,520.89 L546.63,521.12 L547.39,521.37 L548.16,521.66 L548.98,522.02 L549.84,522.5 L550.76,523.12 L551.81,524.02 L553.09,525.37 L553.86,526.3 L554.22,526.78 L554.61,527.32 L555.06,527.98 L555.56,528.72 L556.07,529.52 L556.59,530.35 L557.12,531.22 L557.66,532.11 L558.2,533.03 L558.75,533.98 L559.3,534.94 L559.85,535.9 L560.4,536.88 L560.96,537.87 L561.51,538.85 L562.06,539.83 L562.61,540.8 L563.15,541.76 L563.69,542.71 L564.22,543.64 L564.74,544.53 L565.24,545.38 L565.7,546.17 L566.16,546.93 L566.76,547.93 L567.37,548.95 L567.95,549.94 L568.52,550.91 L569.07,551.88 L569.63,552.84 L570.17,553.78 L570.71,554.72 L571.25,555.65 L571.79,556.55 L572.32,557.44 L572.85,558.3 L573.37,559.14 L573.9,559.96 L574.44,560.75 L574.96,561.51 L575.48,562.22 L575.97,562.86 L576.46,563.46 L577.15,564.26 L578.07,565.25 L578.95,566.11 L579.79,566.87 L580.64,567.57 L581.47,568.2 L582.31,568.78 L583.14,569.31 L583.97,569.8 L584.8,570.24 L585.62,570.65 L586.43,571.01 L587.25,571.35 L588.28,571.71 L589.33,572.02 L590.35,572.25 L591.35,572.41 L592.35,572.52 L593.36,572.58 L594.36,572.59 L595.37,572.57 L596.4,572.51 L597.43,572.41 L598.4,572.25 L599.27,572.02 L600.08,571.73 L600.88,571.38 L601.68,570.98 L602.5,570.58 L603.37,570.18 L604.29,569.82 L605.3,569.52 L606.5,569.32 L607.97,569.24 L609.05,569.29 L609.73,569.36 L610.46,569.48 L611.28,569.63 L612.18,569.83 L613.12,570.06 L614.09,570.31 L615.08,570.58 L616.09,570.88 L617.13,571.18 L618.17,571.5 L619.22,571.82 L620.29,572.14 L621.36,572.46 L622.43,572.78 L623.5,573.08 L624.57,573.37 L625.63,573.65 L626.68,573.9 L627.71,574.12 L628.72,574.32 L629.69,574.48 L630.7,574.63 L631.77,574.76 L632.88,574.88 L634.02,574.98 L635.17,575.07 L636.35,575.15 L637.52,575.21 L638.7,575.27 L639.87,575.32 L641.03,575.36 L642.16,575.4 L643.28,575.42 L644.36,575.45 L645.41,575.47 L646.4,575.49 L647.36,575.51 L648.22,575.53 L648.97,575.54 L649.65,575.56 L650.26,575.58 L650.8,575.6 L650.8,575.6" stroke="#ff3c3c" stroke-width="3.6"/>
<path d="M394,512.2 L394.55,512.44 L395.27,512.76 L396.13,513.14 L397.12,513.57 L398.23,514.05 L399.4,514.57 L400.55,515.07 L401.63,515.53 L402.58,515.94 L403.49,516.34 L404.41,516.73 L405.32,517.12 L406.25,517.51 L407.18,517.9 L408.12,518.3 L409.06,518.7 L410,519.1 L410.94,519.5 L411.88,519.9 L412.82,520.3 L413.77,520.7 L414.71,521.11 L415.65,521.5 L416.59,521.9 L417.53,522.3 L418.48,522.69 L419.42,523.08 L420.36,523.48 L421.3,523.86 L422.24,524.25 L423.18,524.64 L424.12,525.03 L425.06,525.41 L426,525.8 L426.94,526.19 L427.88,526.58 L428.82,526.97 L429.77,527.36 L430.71,527.75 L431.65,528.13 L432.59,528.52 L433.53,528.9 L434.48,529.29 L435.42,529.67 L436.36,530.05 L437.3,530.42 L438.24,530.8 L439.18,531.17 L440.12,531.55 L441.06,531.93 L442,532.3 L442.94,532.68 L443.88,533.06 L444.82,533.43 L445.77,533.81 L446.71,534.19 L447.65,534.56 L448.59,534.94 L449.53,535.31 L450.48,535.68 L451.42,536.05 L452.36,536.42 L453.3,536.78 L454.24,537.15 L455.18,537.51 L456.12,537.87 L457.06,538.24 L458,538.6 L458.94,538.97 L459.88,539.33 L460.82,539.7 L461.77,540.06 L462.71,540.43 L463.65,540.79 L464.59,541.16 L465.53,541.52 L466.48,541.87 L467.42,542.23 L468.36,542.59 L469.3,542.94 L470.24,543.29 L471.18,543.64 L472.12,544 L473.06,544.35 L474,544.7 L474.94,545.05 L475.88,545.41 L476.82,545.76 L477.76,546.11 L478.71,546.46 L479.65,546.82 L480.59,547.17 L481.53,547.52 L482.47,547.88 L483.41,548.23 L484.35,548.59 L485.29,548.94 L486.23,549.29 L487.16,549.64 L488.09,549.99 L489.02,550.33 L489.96,550.67 L490.96,551.03 L491.97,551.39 L492.99,551.75 L494,552.1 L495.02,552.46 L496.03,552.81 L497.04,553.17 L498.04,553.53 L498.98,553.86 L499.91,554.19 L500.84,554.53 L501.77,554.87 L502.7,555.2 L503.62,555.54 L504.55,555.87 L505.48,556.21 L506.45,556.55 L507.46,556.91 L508.48,557.27 L509.49,557.63 L510.49,557.98 L511.5,558.33 L512.5,558.68 L513.5,559.03 L514.5,559.37 L515.5,559.71 L516.5,560.05 L517.5,560.39 L518.5,560.72 L519.5,561.06 L520.5,561.4 L521.5,561.73 L522.5,562.07 L523.5,562.41 L524.5,562.74 L525.5,563.08 L526.5,563.42 L527.5,563.76 L528.5,564.09 L529.5,564.43 L530.5,564.77 L531.51,565.1 L532.53,565.44 L533.56,565.78 L534.58,566.12 L535.59,566.47 L536.59,566.81 L537.56,567.14 L538.54,567.48 L539.45,567.78 L540.29,568.05 L541.09,568.32 L541.9,568.61 L542.81,568.97 L543.89,569.46 L545.11,570.07 L545.8,570.43 L546.49,570.8 L547.25,571.2 L548.07,571.64 L548.93,572.12 L549.81,572.62 L550.7,573.17 L551.6,573.75 L552.49,574.38 L553.39,575.06 L554.3,575.82 L555.23,576.68 L555.95,577.4 L556.51,578.01 L557.08,578.67 L557.69,579.4 L558.29,580.17 L558.9,580.97 L559.51,581.81 L560.12,582.66 L560.74,583.54 L561.35,584.42 L561.96,585.32 L562.56,586.22 L563.17,587.12 L563.78,588.02 L564.39,588.91 L565,589.79 L565.61,590.67 L566.21,591.51 L566.79,592.32 L567.39,593.14 L567.98,593.97 L568.59,594.82 L569.2,595.68 L569.81,596.53 L570.42,597.38 L571.03,598.24 L571.64,599.09 L572.25,599.94 L572.85,600.78 L573.44,601.61 L574.03,602.43 L574.61,603.24 L575.17,604.03 L575.72,604.79 L576.23,605.51 L576.74,606.23 L577.41,607.21 L578.06,608.22 L578.67,609.2 L579.24,610.17 L579.8,611.13 L580.35,612.07 L580.9,612.98 L581.46,613.85 L582.03,614.68 L582.61,615.45 L583.22,616.15 L583.85,616.78 L584.5,617.33 L585.2,617.8 L586.07,618.26 L587,618.64 L587.98,618.92 L589,619.13 L590.06,619.26 L591.14,619.34 L592.22,619.36 L593.31,619.34 L594.4,619.28 L595.46,619.21 L596.47,619.13 L597.41,619.03 L598.39,618.9 L599.43,618.7 L600.45,618.44 L601.43,618.12 L602.4,617.77 L603.35,617.39 L604.29,617.02 L605.23,616.67 L606.16,616.36 L607.09,616.11 L608.02,615.92 L608.99,615.81 L610,615.75 L611,615.75 L612,615.8 L612.99,615.89 L613.99,616.01 L614.98,616.16 L615.98,616.32 L616.99,616.51 L618.02,616.71 L619.05,616.93 L619.98,617.17 L620.82,617.41 L621.62,617.68 L622.42,617.97 L623.22,618.26 L624.06,618.57 L624.96,618.89 L625.93,619.19 L627.05,619.48 L628.4,619.77 L629.87,620 L630.59,620.09 L631.37,620.17 L632.27,620.26 L633.31,620.34 L634.41,620.42 L635.55,620.49 L636.72,620.55 L637.91,620.61 L639.12,620.67 L640.33,620.72 L641.53,620.77 L642.71,620.81 L643.87,620.85 L645,620.89 L646.09,620.93 L647.13,620.96 L648.08,620.99 L648.89,621.02 L649.62,621.05 L650.25,621.07 L650.8,621.1 L650.8,621.1" stroke="#fbb9bd" stroke-width="3.6"/>
</g>
<text x="453.8" y="358" font-size="9.3" font-weight="bold" textLength="187.7" lengthAdjust="spacingAndGlyphs">6 nm Au + P(EO-<tspan font-style="italic" font-weight="normal">b</tspan>-IPGE) mixture at 30 &#176;C</text>
<circle cx="495.3" cy="367.1" r="3.35" fill="#9c0000"/>
<text x="504.9" y="370" font-size="9" font-weight="bold" textLength="136" lengthAdjust="spacingAndGlyphs">P(113-45) 0.1% / P(16-21) 0.5%</text>
<circle cx="495.3" cy="377.9" r="3.35" fill="#cc0000"/>
<text x="504.9" y="380.8" font-size="9" font-weight="bold" textLength="136" lengthAdjust="spacingAndGlyphs">P(113-45) 0.1% / P(16-21) 0.4%</text>
<circle cx="495.3" cy="389.5" r="3.35" fill="#ff0000"/>
<text x="504.9" y="392.4" font-size="9" font-weight="bold" textLength="136" lengthAdjust="spacingAndGlyphs">P(113-45) 0.1% / P(16-21) 0.3%</text>
<circle cx="495.3" cy="401" r="3.35" fill="#ff3c3c"/>
<text x="504.9" y="403.9" font-size="9" font-weight="bold" textLength="136" lengthAdjust="spacingAndGlyphs">P(113-45) 0.1% / P(16-21) 0.2%</text>
<circle cx="495.3" cy="412.5" r="3.35" fill="#fbb9bd"/>
<text x="504.9" y="415.4" font-size="9" font-weight="bold" textLength="136" lengthAdjust="spacingAndGlyphs">P(113-45) 0.1% / P(16-21) 0.0%</text>
<rect x="59.2" y="678.8" width="350.6" height="273.4" fill="none" stroke="#1a1a1a" stroke-width="1.2"/>
<line x1="59.2" y1="679.4" x2="65.2" y2="679.4" stroke="#1a1a1a" stroke-width="1.3"/>
<text x="54.2" y="683.9" font-size="10" font-weight="normal" text-anchor="end" fill="#222" >1</text>
<line x1="59.2" y1="891.19" x2="62.2" y2="891.19" stroke="#1a1a1a" stroke-width="1.2"/>
<text x="58.2" y="893.49" font-size="6.5" font-weight="normal" text-anchor="end" fill="#333" >2</text>
<line x1="59.2" y1="837.83" x2="62.2" y2="837.83" stroke="#1a1a1a" stroke-width="1.2"/>
<text x="58.2" y="840.13" font-size="6.5" font-weight="normal" text-anchor="end" fill="#333" >3</text>
<line x1="59.2" y1="799.98" x2="62.2" y2="799.98" stroke="#1a1a1a" stroke-width="1.2"/>
<text x="58.2" y="802.28" font-size="6.5" font-weight="normal" text-anchor="end" fill="#333" >4</text>
<line x1="59.2" y1="770.61" x2="62.2" y2="770.61" stroke="#1a1a1a" stroke-width="1.2"/>
<text x="58.2" y="772.91" font-size="6.5" font-weight="normal" text-anchor="end" fill="#333" >5</text>
<line x1="59.2" y1="746.62" x2="62.2" y2="746.62" stroke="#1a1a1a" stroke-width="1.2"/>
<text x="58.2" y="748.92" font-size="6.5" font-weight="normal" text-anchor="end" fill="#333" >6</text>
<line x1="59.2" y1="726.34" x2="62.2" y2="726.34" stroke="#1a1a1a" stroke-width="1.2"/>
<text x="58.2" y="728.64" font-size="6.5" font-weight="normal" text-anchor="end" fill="#333" >7</text>
<line x1="59.2" y1="708.76" x2="62.2" y2="708.76" stroke="#1a1a1a" stroke-width="1.2"/>
<text x="58.2" y="711.06" font-size="6.5" font-weight="normal" text-anchor="end" fill="#333" >8</text>
<line x1="59.2" y1="693.26" x2="62.2" y2="693.26" stroke="#1a1a1a" stroke-width="1.2"/>
<text x="58.2" y="695.56" font-size="6.5" font-weight="normal" text-anchor="end" fill="#333" >9</text>
<line x1="131" y1="952.2" x2="131" y2="946.2" stroke="#1a1a1a" stroke-width="1.2"/>
<text x="131" y="965.2" font-size="9.3" font-weight="normal" text-anchor="middle" fill="#222" >0.12</text>
<line x1="200.22" y1="952.2" x2="200.22" y2="946.2" stroke="#1a1a1a" stroke-width="1.2"/>
<text x="200.22" y="965.2" font-size="9.3" font-weight="normal" text-anchor="middle" fill="#222" >0.14</text>
<line x1="260.19" y1="952.2" x2="260.19" y2="946.2" stroke="#1a1a1a" stroke-width="1.2"/>
<text x="260.19" y="965.2" font-size="9.3" font-weight="normal" text-anchor="middle" fill="#222" >0.16</text>
<line x1="313.08" y1="952.2" x2="313.08" y2="946.2" stroke="#1a1a1a" stroke-width="1.2"/>
<text x="313.08" y="965.2" font-size="9.3" font-weight="normal" text-anchor="middle" fill="#222" >0.18</text>
<line x1="360.39" y1="952.2" x2="360.39" y2="946.2" stroke="#1a1a1a" stroke-width="1.2"/>
<text x="360.39" y="965.2" font-size="9.3" font-weight="normal" text-anchor="middle" fill="#222" >0.20</text>
<line x1="403.19" y1="952.2" x2="403.19" y2="946.2" stroke="#1a1a1a" stroke-width="1.2"/>
<text x="403.19" y="965.2" font-size="9.3" font-weight="normal" text-anchor="middle" fill="#222" >0.22</text>
<text x="33.6" y="815.3" font-size="10.2" font-weight="bold" text-anchor="middle" transform="rotate(-90 33.6 815.3)" >I(q)</text>
<text x="234.7" y="988.3" font-size="9.8" font-weight="bold" text-anchor="middle">q (&#197;<tspan font-size="7" dy="-5.2">-1</tspan><tspan dy="5.2">)</tspan></text>
<text x="14" y="686.7" font-size="17.5" font-weight="normal" text-anchor="start" fill="#000" >(e)</text>
<path d="M60.5,784.23 L62.03,783.29 L64.23,782.24 L66.6,780.63 L68.39,779.79 L70.3,778.65 L72.26,777.35 L74.2,776.2 L76.12,774.51 L78.05,773.01 L79.98,771.09 L81.9,769.24 L83.43,767.82 L84.95,766.36 L86.46,764.39 L87.98,762.69 L89.5,761.05 L91.02,759.3 L92.54,757.18 L94.06,755.09 L95.58,753.29 L97.1,750.92 L98.62,749.28 L100.14,747.09 L101.65,745.08 L103.17,743.08 L104.7,741.12 L106.24,739.22 L107.78,736.81 L109.32,734.79 L110.86,732.66 L112.4,730.45 L113.93,728.46 L115.45,726.24 L116.96,724.24 L118.48,722.35 L120,720.67 L121.57,718.69 L123.18,716.74 L124.78,715.05 L126.27,713.41 L127.6,712.12 L130.19,710.89 L132.2,710.48 L133.51,709.89 L135.2,710.43 L136.77,711.17 L138.71,712.37 L140.79,713.66 L142.8,715.12 L144.32,716.94 L145.83,718.39 L147.35,720.44 L148.9,722.59 L150.5,724.36 L151.88,726.15 L153.29,727.61 L154.72,729.59 L156.17,731.39 L157.63,733.12 L159.1,735.2 L160.36,736.64 L161.64,738.71 L162.92,740.56 L164.21,742.49 L165.51,744.35 L166.81,746.5 L168.1,748.41 L169.61,750.12 L171.13,752.25 L172.64,753.75 L174.16,756.17 L175.68,758.07 L177.2,760.31 L178.72,762.12 L180.23,763.58 L181.75,765.58 L183.27,767.79 L184.78,769.17 L186.3,771.66 L187.6,773.19 L188.9,774.98 L190.21,776.8 L191.51,779.47 L192.81,780.76 L194.11,782.92 L195.4,785.18 L196.53,787.62 L197.65,788.65 L198.78,791.07 L199.9,793.22 L201.02,795.7 L202.15,797.75 L203.27,799.96 L204.4,801.42 L205.41,803.59 L206.42,805.56 L207.43,808.34 L208.44,810.57 L209.45,811.63 L210.46,813.82 L211.48,816.05 L212.49,818.2 L213.5,820.68 L214.52,822.97 L215.57,824.69 L216.62,826.52 L217.68,829.34 L218.72,831.45 L219.74,833.9 L220.74,836.58 L221.69,838.19 L222.6,839.82 L223.63,842.22 L224.5,844.35 L225.3,845.25 L226.1,848.46 L226.98,850.16 L228.02,852.32 L229.3,854.4 L230.36,855.4 L231.53,857.2 L232.79,858.55 L234.12,861.38 L235.5,862.31 L236.92,864.25 L238.34,866.41 L239.76,868.19 L241.15,870.31 L242.5,871.46 L244.14,873.36 L245.78,875.58 L247.42,877.35 L249.06,879.68 L250.69,880.76 L252.33,884.17 L253.96,885.31 L255.6,886 L257.46,888 L259.31,889.93 L261.15,891.64 L263,892.77 L264.87,895.75 L266.77,897.5 L268.7,897.83 L270.69,899.14 L272.75,899.51 L274.83,900.62 L276.93,902.12 L279,902.97 L281.04,905.11 L283,904.82 L285.2,905.82 L287.32,908.96 L289.4,909.39 L291.46,909.89 L293.51,911.91 L295.6,912.05 L297.71,914.19 L299.83,916.2 L301.95,917.04 L304.07,917.73 L306.19,917.83 L308.3,918.93 L310.4,919.34 L312.5,921.28 L314.6,921.47 L316.7,922.6 L318.8,922.32 L320.9,922.75 L323.01,924.57 L325.13,925.55 L327.25,925.91 L329.37,926.42 L331.49,927.05 L333.6,927.48 L336.12,927.15 L338.64,928.4 L341.16,928.74 L343.68,928.73 L346.2,929.36 L348.74,930.47 L351.28,931.04 L353.82,932.49 L356.36,933.58 L358.9,933.09 L361.42,934.58 L363.94,935.16 L366.46,935.55 L368.98,934.8 L371.5,934.94 L374.04,935.38 L376.58,935.73 L379.12,936.14 L381.66,937.34 L384.2,938.2 L386.74,938.36 L389.28,937.89 L391.81,938.44 L394.32,938.86 L396.8,937.47 L399.43,938.51 L402.22,938.77 L404.89,938.22 L407.18,937.88 L408.8,937.16" fill="none" stroke="#cc3030" stroke-width="1.15" stroke-linejoin="round"/>
<line x1="173.9" y1="704.3" x2="190.8" y2="704.3" stroke="#cc3030" stroke-width="1.2"/>
<text x="200.3" y="707.6" font-size="8.8" font-weight="bold" textLength="202.3" lengthAdjust="spacingAndGlyphs">4 nm Au + P(113-45) 0.1%/P(16-21) 0.1% at 30 &#176;C</text>
<line x1="134.3" y1="693" x2="134.3" y2="701.6" stroke="#000" stroke-width="1.1"/>
<path d="M132.3,699.6 L136.3,699.6 L134.3,706.6 Z" fill="#000"/>
<text x="137.8" y="695.2" font-size="8.6" fill="#222" textLength="15.8" lengthAdjust="spacingAndGlyphs">(11)</text>
<line x1="194.5" y1="769.9" x2="194.5" y2="776.8" stroke="#000" stroke-width="1.1"/>
<path d="M192.5,774.8 L196.5,774.8 L194.5,781.8 Z" fill="#000"/>
<text x="198.6" y="772.6" font-size="8.6" fill="#222" textLength="15.8" lengthAdjust="spacingAndGlyphs">(02)</text>
<line x1="355.9" y1="916.2" x2="355.9" y2="923.8" stroke="#000" stroke-width="1.1"/>
<path d="M353.9,921.8 L357.9,921.8 L355.9,928.8 Z" fill="#000"/>
<text x="360.1" y="915.3" font-size="8.6" fill="#222" textLength="15.2" lengthAdjust="spacingAndGlyphs">(20)</text>
<defs><radialGradient id="gg" cx="50%" cy="50%" r="50%"><stop offset="0%" stop-color="#fdf8ee"/><stop offset="100%" stop-color="#fbe8cc"/></radialGradient></defs>
<circle cx="310.6" cy="778" r="11.5" fill="url(#gg)" stroke="#f3ef18" stroke-width="1.4"/>
<circle cx="348.7" cy="778" r="11.5" fill="url(#gg)" stroke="#f3ef18" stroke-width="1.4"/>
<circle cx="329.5" cy="808" r="11.5" fill="url(#gg)" stroke="#f3ef18" stroke-width="1.4"/>
<circle cx="310.6" cy="837" r="11.5" fill="url(#gg)" stroke="#f3ef18" stroke-width="1.4"/>
<circle cx="348.8" cy="837" r="11.5" fill="url(#gg)" stroke="#f3ef18" stroke-width="1.4"/>
<rect x="310.5" y="779.1" width="38.4" height="57.9" fill="none" stroke="#000" stroke-width="1.7"/>
<line x1="310.5" y1="779.1" x2="348.9" y2="837" stroke="#000" stroke-width="1.5"/>
<line x1="348.9" y1="779.1" x2="310.5" y2="837" stroke="#000" stroke-width="1.5"/>
<line x1="295.2" y1="782" x2="295.2" y2="834" stroke="#000" stroke-width="0.8"/>
<path d="M293.2,783.8 L297.2,783.8 L295.2,779.4 Z M293.2,832.2 L297.2,832.2 L295.2,836.6 Z" fill="#000"/>
<text x="291.9" y="807.4" font-size="7" font-weight="bold" text-anchor="middle" fill="#111" textLength="21" lengthAdjust="spacingAndGlyphs" transform="rotate(-90 291.9 807.4)">9.1 nm</text>
<text x="301.3" y="812" font-size="12" font-style="italic" text-anchor="middle" font-family="Liberation Serif, serif" fill="#222">b</text>
<line x1="313" y1="764" x2="347" y2="764" stroke="#000" stroke-width="0.8"/>
<path d="M315.6,761.9 L315.6,766.1 L311.2,764 Z M344.2,761.9 L344.2,766.1 L348.6,764 Z" fill="#000"/>
<text x="318.7" y="761.8" font-size="6.6" font-weight="bold" fill="#111" textLength="21.4" lengthAdjust="spacingAndGlyphs">6.0 nm</text>
<text x="329.9" y="773" font-size="12" font-style="italic" text-anchor="middle" font-family="Liberation Serif, serif" fill="#222">a</text>
</svg></body></html>
